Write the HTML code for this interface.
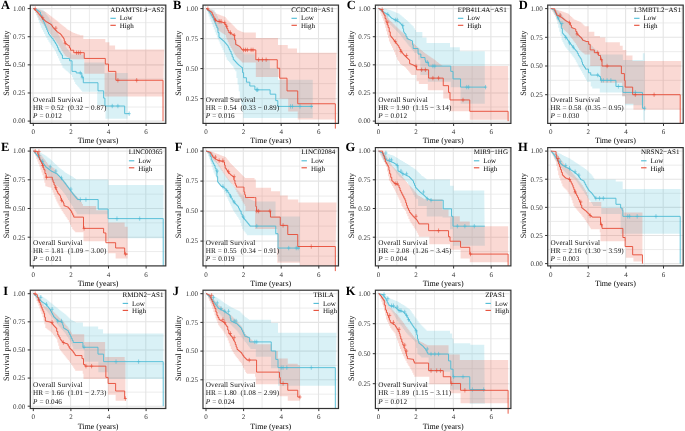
<!DOCTYPE html><html><head><meta charset="utf-8"><style>html,body{margin:0;padding:0;background:#fff;}svg{display:block;will-change:transform;text-rendering:geometricPrecision;filter:blur(0.3px);}</style></head><body>
<svg width="685" height="431" viewBox="0 0 685 431" font-family='&quot;Liberation Serif&quot;, serif'>
<g><defs><clipPath id="cA"><rect x="30.3" y="5.1" width="135.5" height="118.3"/></clipPath></defs><g clip-path="url(#cA)"><line x1="33" y1="5.1" x2="33" y2="123.4" stroke="#E4E4E4" stroke-width="1.1"/><line x1="51.8" y1="5.1" x2="51.8" y2="123.4" stroke="#E4E4E4" stroke-width="0.7"/><line x1="70.6" y1="5.1" x2="70.6" y2="123.4" stroke="#E4E4E4" stroke-width="1.1"/><line x1="89.4" y1="5.1" x2="89.4" y2="123.4" stroke="#E4E4E4" stroke-width="0.7"/><line x1="108.2" y1="5.1" x2="108.2" y2="123.4" stroke="#E4E4E4" stroke-width="1.1"/><line x1="127" y1="5.1" x2="127" y2="123.4" stroke="#E4E4E4" stroke-width="0.7"/><line x1="145.8" y1="5.1" x2="145.8" y2="123.4" stroke="#E4E4E4" stroke-width="1.1"/><line x1="164.6" y1="5.1" x2="164.6" y2="123.4" stroke="#E4E4E4" stroke-width="0.7"/><line x1="30.3" y1="121.1" x2="165.8" y2="121.1" stroke="#E4E4E4" stroke-width="1.1"/><line x1="30.3" y1="107.04" x2="165.8" y2="107.04" stroke="#E4E4E4" stroke-width="0.7"/><line x1="30.3" y1="92.97" x2="165.8" y2="92.97" stroke="#E4E4E4" stroke-width="1.1"/><line x1="30.3" y1="78.91" x2="165.8" y2="78.91" stroke="#E4E4E4" stroke-width="0.7"/><line x1="30.3" y1="64.85" x2="165.8" y2="64.85" stroke="#E4E4E4" stroke-width="1.1"/><line x1="30.3" y1="50.79" x2="165.8" y2="50.79" stroke="#E4E4E4" stroke-width="0.7"/><line x1="30.3" y1="36.73" x2="165.8" y2="36.73" stroke="#E4E4E4" stroke-width="1.1"/><line x1="30.3" y1="22.66" x2="165.8" y2="22.66" stroke="#E4E4E4" stroke-width="0.7"/><line x1="30.3" y1="8.6" x2="165.8" y2="8.6" stroke="#E4E4E4" stroke-width="1.1"/><path d="M33.3 8.6 L34.34 8.6 L34.34 8.72 L35.39 8.72 L35.39 8.85 L36.43 8.85 L36.43 8.97 L37.48 8.97 L37.48 9.1 L38.52 9.1 L38.52 9.22 L39.57 9.22 L39.57 9.35 L40.61 9.35 L40.61 9.47 L41.66 9.47 L41.66 9.6 L42.7 9.6 L42.7 9.73 L43.64 9.73 L43.64 11.04 L44.58 11.04 L44.58 12.35 L45.52 12.35 L45.52 13.66 L46.46 13.66 L46.46 14.97 L47.4 14.97 L47.4 16.29 L48.34 16.29 L48.34 17.6 L49.41 17.6 L49.41 19.53 L50.49 19.53 L50.49 21.46 L51.56 21.46 L51.56 23.39 L52.64 23.39 L52.64 25.31 L53.71 25.31 L53.71 27.24 L54.79 27.24 L54.79 29.17 L55.86 29.17 L55.86 31.1 L56.96 31.1 L56.96 32.98 L58.07 32.98 L58.07 34.87 L59.17 34.87 L59.17 36.75 L60.28 36.75 L60.28 38.64 L61.38 38.64 L61.38 40.52 L62.49 40.52 L62.49 42.41 L63.59 42.41 L63.59 44.29 L64.7 44.29 L64.7 46.17 L65.79 46.17 L65.79 47.54 L66.89 47.54 L66.89 48.91 L67.99 48.91 L67.99 50.28 L69.08 50.28 L69.08 51.65 L70.18 51.65 L70.18 53.02 L71.28 53.02 L71.28 54.39 L84.25 54.39 L84.25 62.49 L104.55 62.49 L104.55 72.95 L127.68 72.95 L127.68 118.85 L105.49 118.85 L105.49 105.01 L97.22 105.01 L97.22 91.85 L82.18 91.85 L82.18 90.72 L81.19 90.72 L81.19 89.6 L80.19 89.6 L80.19 88.47 L79.2 88.47 L79.2 87.35 L78.21 87.35 L78.21 86.22 L77.21 86.22 L77.21 85.1 L76.22 85.1 L76.22 83.97 L75.22 83.97 L75.22 81.72 L74.14 81.72 L74.14 79.47 L73.06 79.47 L73.06 77.22 L71.98 77.22 L71.98 74.98 L70.9 74.98 L70.9 74.06 L69.84 74.06 L69.84 73.15 L68.78 73.15 L68.78 72.23 L67.73 72.23 L67.73 71.32 L66.67 71.32 L66.67 70.4 L65.61 70.4 L65.61 69.49 L64.56 69.49 L64.56 68.58 L63.5 68.58 L63.5 67.66 L62.44 67.66 L62.44 65.33 L61.37 65.33 L61.37 63 L60.29 63 L60.29 60.67 L59.22 60.67 L59.22 58.34 L58.14 58.34 L58.14 56.01 L57.07 56.01 L57.07 53.68 L55.99 53.68 L55.99 51.35 L54.92 51.35 L54.92 49.74 L53.85 49.74 L53.85 48.14 L52.77 48.14 L52.77 46.53 L51.7 46.53 L51.7 44.92 L50.62 44.92 L50.62 43.31 L49.55 43.31 L49.55 41.71 L48.47 41.71 L48.47 40.1 L47.4 40.1 L47.4 38.04 L46.3 38.04 L46.3 35.98 L45.21 35.98 L45.21 33.91 L44.11 33.91 L44.11 31.85 L43.01 31.85 L43.01 29.79 L41.92 29.79 L41.92 27.73 L40.82 27.73 L40.82 25.19 L39.88 25.19 L39.88 22.66 L38.94 22.66 L38.94 20.13 L38 20.13 L38 17.6 L37.06 17.6 L37.06 15.35 L36.12 15.35 L36.12 13.1 L35.18 13.1 L35.18 10.85 L34.24 10.85 L34.24 8.6 L33.3 8.6Z" fill="#4DBBD5" fill-opacity="0.21" stroke="none"/><path d="M33.3 8.6 L34.3 8.6 L34.3 8.77 L35.31 8.77 L35.31 8.94 L36.31 8.94 L36.31 9.11 L37.31 9.11 L37.31 9.28 L38.31 9.28 L38.31 9.44 L39.32 9.44 L39.32 9.61 L40.29 9.61 L40.29 10.01 L41.26 10.01 L41.26 10.4 L42.23 10.4 L42.23 10.79 L43.2 10.79 L43.2 11.19 L44.17 11.19 L44.17 11.58 L45.14 11.58 L45.14 11.98 L46.12 11.98 L46.12 12.74 L47.09 12.74 L47.09 13.51 L48.06 13.51 L48.06 14.28 L49.03 14.28 L49.03 15.05 L50 15.05 L50 15.82 L50.97 15.82 L50.97 16.59 L52.1 16.59 L52.1 17.46 L53.23 17.46 L53.23 18.33 L54.36 18.33 L54.36 19.2 L55.48 19.2 L55.48 20.07 L56.46 20.07 L56.46 20.84 L57.43 20.84 L57.43 21.61 L58.4 21.61 L58.4 22.38 L59.37 22.38 L59.37 23.15 L60.34 23.15 L60.34 23.92 L61.31 23.92 L61.31 24.69 L62.28 24.69 L62.28 25.48 L63.25 25.48 L63.25 26.26 L64.23 26.26 L64.23 27.05 L65.2 27.05 L65.2 27.84 L66.17 27.84 L66.17 28.63 L67.14 28.63 L67.14 29.41 L68.11 29.41 L68.11 29.98 L69.08 29.98 L69.08 30.54 L70.05 30.54 L70.05 31.1 L71.03 31.1 L71.03 31.66 L72 31.66 L72 32.22 L72.97 32.22 L72.97 32.79 L73.96 32.79 L73.96 33.12 L74.96 33.12 L74.96 33.46 L75.95 33.46 L75.95 33.8 L76.94 33.8 L76.94 34.14 L77.94 34.14 L77.94 34.47 L78.93 34.47 L78.93 34.81 L79.92 34.81 L79.92 35.15 L83.31 35.15 L83.31 38.98 L105.3 38.98 L105.3 42.35 L109.44 42.35 L109.44 45.39 L115.08 45.39 L115.08 49.44 L164.15 49.44 L163.02 96.58 L104.55 96.58 L104.55 73.85 L84.25 73.85 L84.25 59.22 L71.28 59.22 L71.28 58.66 L70.18 58.66 L70.18 58.1 L69.08 58.1 L69.08 57.54 L67.99 57.54 L67.99 56.98 L66.89 56.98 L66.89 56.41 L65.79 56.41 L65.79 55.85 L64.7 55.85 L64.7 54.24 L63.7 54.24 L63.7 52.64 L62.71 52.64 L62.71 51.03 L61.71 51.03 L61.71 49.42 L60.72 49.42 L60.72 47.81 L59.73 47.81 L59.73 46.21 L58.73 46.21 L58.73 44.6 L57.74 44.6 L57.74 43.1 L56.64 43.1 L56.64 41.6 L55.55 41.6 L55.55 40.1 L54.45 40.1 L54.45 38.6 L53.35 38.6 L53.35 37.1 L52.26 37.1 L52.26 35.6 L51.16 35.6 L51.16 34.1 L50.06 34.1 L50.06 32.6 L48.97 32.6 L48.97 31.1 L47.87 31.1 L47.87 29.6 L46.77 29.6 L46.77 28.1 L45.68 28.1 L45.68 26.6 L44.58 26.6 L44.58 25.25 L43.45 25.25 L43.45 23.9 L42.32 23.9 L42.32 22.55 L41.2 22.55 L41.2 21.2 L40.07 21.2 L40.07 19.85 L38.94 19.85 L38.94 17.6 L37.81 17.6 L37.81 15.35 L36.68 15.35 L36.68 13.1 L35.56 13.1 L35.56 10.85 L34.43 10.85 L34.43 8.6 L33.3 8.6Z" fill="#E64B35" fill-opacity="0.21" stroke="none"/></g><path d="M33.3 8.6 L34.3 8.6 L34.3 8.97 L35.31 8.97 L35.31 9.35 L36.31 9.35 L36.31 9.73 L37.31 9.73 L37.31 10.48 L38.31 10.48 L38.31 11.22 L39.32 11.22 L39.32 11.98 L40.44 11.98 L40.44 14.84 L41.57 14.84 L41.57 17.71 L42.46 17.71 L42.46 19.77 L43.36 19.77 L43.36 21.82 L44.25 21.82 L44.25 23.87 L45.14 23.87 L45.14 25.93 L45.99 25.93 L45.99 27.95 L46.84 27.95 L46.84 29.97 L47.68 29.97 L47.68 32 L48.53 32 L48.53 34.02 L49.42 34.02 L49.42 35.18 L50.31 35.18 L50.31 36.33 L51.21 36.33 L51.21 37.48 L52.1 37.48 L52.1 38.64 L53.23 38.64 L53.23 40.38 L54.36 40.38 L54.36 42.13 L55.48 42.13 L55.48 43.87 L56.61 43.87 L56.61 45.61 L57.43 45.61 L57.43 47.52 L58.24 47.52 L58.24 49.44 L59.06 49.44 L59.06 51.35 L60.18 51.35 L60.18 53.15 L61.31 53.15 L61.31 54.95 L62.44 54.95 L62.44 58.44 L69.58 58.44 L69.58 60.8 L72.03 60.8 L72.03 71.38 L76.16 71.38 L76.16 72.95 L81.8 72.95 L81.8 77.11 L83.31 77.11 L83.31 82.74 L97.97 82.74 L97.97 90.84 L103.61 90.84 L103.61 98.15 L104.93 98.15 L104.93 106.02 L124.67 106.02 L124.67 113.67 L129.18 113.67" fill="none" stroke="#4DBBD5" stroke-width="0.9" stroke-linejoin="miter"/><path d="M80.3 70.75 V75.15 M78.7 72.95 H81.9" stroke="#4DBBD5" stroke-width="0.6"/><path d="M82.18 74.91 V79.31 M80.58 77.11 H83.78" stroke="#4DBBD5" stroke-width="0.6"/><path d="M112.26 103.82 V108.22 M110.66 106.02 H113.86" stroke="#4DBBD5" stroke-width="0.6"/><path d="M117.9 103.82 V108.22 M116.3 106.02 H119.5" stroke="#4DBBD5" stroke-width="0.6"/><path d="M129.18 111.47 V115.87 M127.58 113.67 H130.78" stroke="#4DBBD5" stroke-width="0.6"/><path d="M33.3 8.6 L34.19 8.6 L34.19 9.44 L35.09 9.44 L35.09 10.29 L35.98 10.29 L35.98 11.13 L36.87 11.13 L36.87 11.98 L37.81 11.98 L37.81 13.12 L38.75 13.12 L38.75 14.27 L39.69 14.27 L39.69 15.42 L40.63 15.42 L40.63 16.56 L41.57 16.56 L41.57 17.71 L42.46 17.71 L42.46 18.58 L43.36 18.58 L43.36 19.46 L44.25 19.46 L44.25 20.33 L45.14 20.33 L45.14 21.2 L46.12 21.2 L46.12 21.78 L47.09 21.78 L47.09 22.36 L48.06 22.36 L48.06 22.94 L49.03 22.94 L49.03 23.53 L50 23.53 L50 24.11 L50.97 24.11 L50.97 24.69 L51.72 24.69 L51.72 25.85 L52.48 25.85 L52.48 27.01 L53.23 27.01 L53.23 28.18 L54.36 28.18 L54.36 29.34 L55.48 29.34 L55.48 30.5 L56.61 30.5 L56.61 31.66 L57.5 31.66 L57.5 32.25 L58.4 32.25 L58.4 32.84 L59.29 32.84 L59.29 33.43 L60.18 33.43 L60.18 34.02 L61.03 34.02 L61.03 35.18 L61.88 35.18 L61.88 36.33 L62.72 36.33 L62.72 37.48 L63.57 37.48 L63.57 38.64 L64.23 38.64 L64.23 40.94 L64.88 40.94 L64.88 43.25 L65.73 43.25 L65.73 43.84 L66.58 43.84 L66.58 44.43 L67.42 44.43 L67.42 45.02 L68.27 45.02 L68.27 45.61 L69.4 45.61 L69.4 47.92 L70.52 47.92 L70.52 50.23 L73.72 50.23 L73.72 52.7 L84.25 52.7 L84.25 58.44 L105.3 58.44 L105.3 64.06 L108.5 64.06 L108.5 71.38 L115.83 71.38 L115.83 80.26 L163.02 80.26 L163.02 121.1 L163.02 121.1" fill="none" stroke="#E64B35" stroke-width="0.9" stroke-linejoin="miter"/><path d="M35.18 6.4 V10.8 M33.58 8.6 H36.78" stroke="#E64B35" stroke-width="0.6"/><path d="M42.7 15.51 V19.91 M41.1 17.71 H44.3" stroke="#E64B35" stroke-width="0.6"/><path d="M55.86 25.98 V30.38 M54.26 28.18 H57.46" stroke="#E64B35" stroke-width="0.6"/><path d="M65.26 41.05 V45.45 M63.66 43.25 H66.86" stroke="#E64B35" stroke-width="0.6"/><path d="M76.54 50.5 V54.9 M74.94 52.7 H78.14" stroke="#E64B35" stroke-width="0.6"/><path d="M78.42 50.5 V54.9 M76.82 52.7 H80.02" stroke="#E64B35" stroke-width="0.6"/><path d="M80.3 50.5 V54.9 M78.7 52.7 H81.9" stroke="#E64B35" stroke-width="0.6"/><path d="M117.9 78.06 V82.46 M116.3 80.26 H119.5" stroke="#E64B35" stroke-width="0.6"/><path d="M136.7 78.06 V82.46 M135.1 80.26 H138.3" stroke="#E64B35" stroke-width="0.6"/><rect x="30.3" y="5.1" width="135.5" height="118.3" fill="none" stroke="#333" stroke-width="1.2"/><line x1="27.7" y1="121.1" x2="30.3" y2="121.1" stroke="#333" stroke-width="1"/><text x="25.3" y="123.4" font-size="7" fill="#333" text-anchor="end">0.00</text><line x1="27.7" y1="92.97" x2="30.3" y2="92.97" stroke="#333" stroke-width="1"/><text x="25.3" y="95.27" font-size="7" fill="#333" text-anchor="end">0.25</text><line x1="27.7" y1="64.85" x2="30.3" y2="64.85" stroke="#333" stroke-width="1"/><text x="25.3" y="67.15" font-size="7" fill="#333" text-anchor="end">0.50</text><line x1="27.7" y1="36.73" x2="30.3" y2="36.73" stroke="#333" stroke-width="1"/><text x="25.3" y="39.02" font-size="7" fill="#333" text-anchor="end">0.75</text><line x1="27.7" y1="8.6" x2="30.3" y2="8.6" stroke="#333" stroke-width="1"/><text x="25.3" y="10.9" font-size="7" fill="#333" text-anchor="end">1.00</text><line x1="33.3" y1="123.4" x2="33.3" y2="126" stroke="#333" stroke-width="1"/><text x="33.3" y="134" font-size="7" fill="#333" text-anchor="middle">0</text><line x1="70.9" y1="123.4" x2="70.9" y2="126" stroke="#333" stroke-width="1"/><text x="70.9" y="134" font-size="7" fill="#333" text-anchor="middle">2</text><line x1="108.5" y1="123.4" x2="108.5" y2="126" stroke="#333" stroke-width="1"/><text x="108.5" y="134" font-size="7" fill="#333" text-anchor="middle">4</text><line x1="146.1" y1="123.4" x2="146.1" y2="126" stroke="#333" stroke-width="1"/><text x="146.1" y="134" font-size="7" fill="#333" text-anchor="middle">6</text><text x="98.05" y="143.4" font-size="8" fill="#000" text-anchor="middle">Time (years)</text><text transform="translate(8.5 63.25) rotate(-90)" font-size="8.15" fill="#111" text-anchor="middle">Survival probability</text><text x="1.1" y="9.3" font-size="12.5" font-weight="bold" fill="#000">A</text><text x="110.2" y="11.7" font-size="7" fill="#000">ADAMTSL4−AS2</text><line x1="110.4" y1="18.3" x2="115.8" y2="18.3" stroke="#4DBBD5" stroke-width="1.1"/><text x="119.8" y="20.4" font-size="7" fill="#000">Low</text><line x1="110.4" y1="25.3" x2="115.8" y2="25.3" stroke="#E64B35" stroke-width="1.1"/><text x="119.8" y="28" font-size="7" fill="#000">High</text><text x="33.1" y="102.1" font-size="7.2" fill="#111" letter-spacing="0.12" xml:space="preserve">Overall Survival</text><text x="33.1" y="110" font-size="7.2" fill="#111" letter-spacing="0.08" xml:space="preserve">HR = 0.52  (0.32 − 0.87)</text><text x="33.1" y="118.4" font-size="7.2" fill="#111" letter-spacing="0.08" xml:space="preserve"><tspan font-style="italic">P</tspan> = 0.012</text></g>
<g><defs><clipPath id="cB"><rect x="203" y="5.1" width="135.5" height="118.3"/></clipPath></defs><g clip-path="url(#cB)"><line x1="205.7" y1="5.1" x2="205.7" y2="123.4" stroke="#E4E4E4" stroke-width="1.1"/><line x1="224.5" y1="5.1" x2="224.5" y2="123.4" stroke="#E4E4E4" stroke-width="0.7"/><line x1="243.3" y1="5.1" x2="243.3" y2="123.4" stroke="#E4E4E4" stroke-width="1.1"/><line x1="262.1" y1="5.1" x2="262.1" y2="123.4" stroke="#E4E4E4" stroke-width="0.7"/><line x1="280.9" y1="5.1" x2="280.9" y2="123.4" stroke="#E4E4E4" stroke-width="1.1"/><line x1="299.7" y1="5.1" x2="299.7" y2="123.4" stroke="#E4E4E4" stroke-width="0.7"/><line x1="318.5" y1="5.1" x2="318.5" y2="123.4" stroke="#E4E4E4" stroke-width="1.1"/><line x1="337.3" y1="5.1" x2="337.3" y2="123.4" stroke="#E4E4E4" stroke-width="0.7"/><line x1="203" y1="113.6" x2="338.5" y2="113.6" stroke="#E4E4E4" stroke-width="0.7"/><line x1="203" y1="98.6" x2="338.5" y2="98.6" stroke="#E4E4E4" stroke-width="1.1"/><line x1="203" y1="83.6" x2="338.5" y2="83.6" stroke="#E4E4E4" stroke-width="0.7"/><line x1="203" y1="68.6" x2="338.5" y2="68.6" stroke="#E4E4E4" stroke-width="1.1"/><line x1="203" y1="53.6" x2="338.5" y2="53.6" stroke="#E4E4E4" stroke-width="0.7"/><line x1="203" y1="38.6" x2="338.5" y2="38.6" stroke="#E4E4E4" stroke-width="1.1"/><line x1="203" y1="23.6" x2="338.5" y2="23.6" stroke="#E4E4E4" stroke-width="0.7"/><line x1="203" y1="8.6" x2="338.5" y2="8.6" stroke="#E4E4E4" stroke-width="1.1"/><path d="M206 8.6 L207.07 8.6 L207.07 8.77 L208.15 8.77 L208.15 8.94 L209.22 8.94 L209.22 9.11 L210.3 9.11 L210.3 9.29 L211.37 9.29 L211.37 9.46 L212.45 9.46 L212.45 9.63 L213.52 9.63 L213.52 9.8 L214.65 9.8 L214.65 11.96 L215.78 11.96 L215.78 14.12 L216.9 14.12 L216.9 16.28 L218.03 16.28 L218.03 18.44 L219.16 18.44 L219.16 20.6 L220.1 20.6 L220.1 21.6 L221.04 21.6 L221.04 22.6 L221.98 22.6 L221.98 23.6 L222.92 23.6 L222.92 24.6 L223.86 24.6 L223.86 25.6 L224.8 25.6 L224.8 26.6 L225.74 26.6 L225.74 27.6 L226.68 27.6 L226.68 28.6 L227.62 28.6 L227.62 29.6 L228.56 29.6 L228.56 30.6 L229.5 30.6 L229.5 31.6 L230.44 31.6 L230.44 32.6 L231.38 32.6 L231.38 34.2 L232.32 34.2 L232.32 35.8 L233.26 35.8 L233.26 37.4 L234.2 37.4 L234.2 39 L235.14 39 L235.14 40.6 L236.08 40.6 L236.08 42.2 L237.15 42.2 L237.15 43.91 L238.23 43.91 L238.23 45.63 L239.3 45.63 L239.3 47.34 L240.38 47.34 L240.38 49.06 L241.45 49.06 L241.45 50.77 L242.53 50.77 L242.53 52.49 L243.6 52.49 L243.6 54.2 L254.88 54.2 L254.88 59 L269.92 59 L269.92 68.6 L278 68.6 L278 79.64 L312.78 79.64 L312.78 117.92 L243.22 117.92 L243.22 111.25 L242.1 111.25 L242.1 104.58 L240.97 104.58 L240.97 97.91 L239.84 97.91 L239.84 91.25 L238.71 91.25 L238.71 84.58 L237.58 84.58 L237.58 77.91 L236.46 77.91 L236.46 71.24 L235.33 71.24 L235.33 69.48 L234.33 69.48 L234.33 67.72 L233.32 67.72 L233.32 65.96 L232.32 65.96 L232.32 64.71 L231.19 64.71 L231.19 63.46 L230.06 63.46 L230.06 62.22 L228.94 62.22 L228.94 60.97 L227.81 60.97 L227.81 59.72 L226.68 59.72 L226.68 57.26 L225.65 57.26 L225.65 54.8 L224.61 54.8 L224.61 52.34 L223.58 52.34 L223.58 49.88 L222.54 49.88 L222.54 47.8 L221.6 47.8 L221.6 45.72 L220.66 45.72 L220.66 43.64 L219.72 43.64 L219.72 41.56 L218.78 41.56 L218.78 39.48 L217.84 39.48 L217.84 37.4 L216.9 37.4 L216.9 34.79 L215.87 34.79 L215.87 32.18 L214.84 32.18 L214.84 29.57 L213.8 29.57 L213.8 26.96 L212.77 26.96 L212.77 24.35 L211.73 24.35 L211.73 21.74 L210.7 21.74 L210.7 19.13 L209.67 19.13 L209.67 16.52 L208.63 16.52 L208.63 13.88 L207.75 13.88 L207.75 11.24 L206.88 11.24 L206.88 8.6 L206 8.6Z" fill="#4DBBD5" fill-opacity="0.21" stroke="none"/><path d="M206 8.6 L207.13 8.6 L207.13 8.84 L208.26 8.84 L208.26 9.08 L209.38 9.08 L209.38 9.32 L210.51 9.32 L210.51 9.56 L211.64 9.56 L211.64 9.8 L212.58 9.8 L212.58 10.7 L213.52 10.7 L213.52 11.6 L214.46 11.6 L214.46 12.5 L215.4 12.5 L215.4 13.4 L216.44 13.4 L216.44 13.8 L217.49 13.8 L217.49 14.2 L218.53 14.2 L218.53 14.6 L219.58 14.6 L219.58 15 L220.62 15 L220.62 15.4 L221.67 15.4 L221.67 15.8 L222.71 15.8 L222.71 16.2 L223.76 16.2 L223.76 16.6 L224.8 16.6 L224.8 17 L225.74 17 L225.74 18.2 L226.68 18.2 L226.68 19.4 L227.62 19.4 L227.62 20.6 L228.69 20.6 L228.69 21.56 L229.75 21.56 L229.75 22.52 L230.82 22.52 L230.82 23.48 L231.85 23.48 L231.85 24.52 L232.88 24.52 L232.88 25.56 L233.92 25.56 L233.92 26.6 L234.95 26.6 L234.95 27.64 L235.99 27.64 L235.99 28.68 L237.02 28.68 L237.02 29.72 L238.09 29.72 L238.09 30.2 L239.15 30.2 L239.15 30.68 L240.22 30.68 L240.22 31.16 L241.28 31.16 L241.28 31.64 L242.35 31.64 L242.35 32.12 L243.41 32.12 L243.41 32.6 L255.82 32.6 L255.82 38.12 L278 38.12 L278 45.08 L287.78 45.08 L287.78 48.56 L296.99 48.56 L296.99 52.64 L336.47 52.64 L335.34 119.48 L297.74 119.48 L297.74 111.56 L288.16 111.56 L288.16 98.72 L279.7 98.72 L279.7 77 L255.82 77 L255.82 62.6 L241.91 62.6 L241.91 61.6 L240.87 61.6 L240.87 60.6 L239.84 60.6 L239.84 59.6 L238.81 59.6 L238.81 58.6 L237.77 58.6 L237.77 57.6 L236.74 57.6 L236.74 56.6 L235.7 56.6 L235.7 54.89 L234.71 54.89 L234.71 53.17 L233.72 53.17 L233.72 51.46 L232.72 51.46 L232.72 49.74 L231.73 49.74 L231.73 48.03 L230.74 48.03 L230.74 46.31 L229.74 46.31 L229.74 44.6 L228.75 44.6 L228.75 42.2 L227.76 42.2 L227.76 39.8 L226.77 39.8 L226.77 37.4 L225.79 37.4 L225.79 35 L224.8 35 L224.8 34.31 L223.73 34.31 L223.73 33.63 L222.65 33.63 L222.65 32.94 L221.58 32.94 L221.58 32.26 L220.5 32.26 L220.5 31.57 L219.43 31.57 L219.43 30.89 L218.35 30.89 L218.35 30.2 L217.28 30.2 L217.28 27.8 L216.15 27.8 L216.15 25.4 L215.02 25.4 L215.02 23 L213.9 23 L213.9 20.6 L212.77 20.6 L212.77 18.2 L211.64 18.2 L211.64 16.28 L210.51 16.28 L210.51 14.36 L209.38 14.36 L209.38 12.44 L208.26 12.44 L208.26 10.52 L207.13 10.52 L207.13 8.6 L206 8.6Z" fill="#E64B35" fill-opacity="0.21" stroke="none"/></g><path d="M206 8.6 L207.13 8.6 L207.13 9.84 L208.26 9.84 L208.26 11.08 L209.38 11.08 L209.38 12.32 L210.37 12.32 L210.37 14.06 L211.36 14.06 L211.36 15.8 L212.34 15.8 L212.34 17.54 L213.33 17.54 L213.33 19.28 L214.22 19.28 L214.22 21.41 L215.12 21.41 L215.12 23.54 L216.01 23.54 L216.01 25.67 L216.9 25.67 L216.9 27.8 L217.94 27.8 L217.94 32.6 L218.97 32.6 L218.97 37.4 L219.95 37.4 L219.95 38.24 L220.93 38.24 L220.93 39.08 L221.9 39.08 L221.9 39.92 L222.88 39.92 L222.88 40.76 L223.86 40.76 L223.86 41.6 L224.75 41.6 L224.75 42.65 L225.65 42.65 L225.65 43.7 L226.54 43.7 L226.54 44.75 L227.43 44.75 L227.43 45.8 L228.31 45.8 L228.31 47.64 L229.19 47.64 L229.19 49.48 L230.06 49.48 L230.06 51.32 L231.13 51.32 L231.13 54.12 L232.19 54.12 L232.19 56.92 L233.26 56.92 L233.26 59.72 L234.39 59.72 L234.39 60.92 L235.52 60.92 L235.52 62.12 L236.64 62.12 L236.64 63.32 L237.77 63.32 L237.77 64.52 L238.71 64.52 L238.71 65.27 L239.65 65.27 L239.65 66.02 L240.59 66.02 L240.59 66.77 L241.53 66.77 L241.53 67.52 L242.57 67.52 L242.57 72.62 L243.6 72.62 L243.6 77.72 L246.42 77.72 L246.42 82.16 L249.8 82.16 L249.8 86 L254.88 86 L254.88 89.84 L270.11 89.84 L270.11 94.16 L275.75 94.16 L275.75 100.64 L277.82 100.64 L277.82 106.4 L312.78 106.4" fill="none" stroke="#4DBBD5" stroke-width="0.9" stroke-linejoin="miter"/><path d="M256.76 87.64 V92.04 M255.16 89.84 H258.36" stroke="#4DBBD5" stroke-width="0.6"/><path d="M257.7 87.64 V92.04 M256.1 89.84 H259.3" stroke="#4DBBD5" stroke-width="0.6"/><path d="M290.6 104.2 V108.6 M289 106.4 H292.2" stroke="#4DBBD5" stroke-width="0.6"/><path d="M292.48 104.2 V108.6 M290.88 106.4 H294.08" stroke="#4DBBD5" stroke-width="0.6"/><path d="M300 104.2 V108.6 M298.4 106.4 H301.6" stroke="#4DBBD5" stroke-width="0.6"/><path d="M311.28 104.2 V108.6 M309.68 106.4 H312.88" stroke="#4DBBD5" stroke-width="0.6"/><path d="M206 8.6 L207.05 8.6 L207.05 9.34 L208.11 9.34 L208.11 10.09 L209.16 10.09 L209.16 10.83 L210.21 10.83 L210.21 11.58 L211.26 11.58 L211.26 12.32 L212.16 12.32 L212.16 14.24 L213.05 14.24 L213.05 16.16 L213.94 16.16 L213.94 18.08 L214.84 18.08 L214.84 20 L215.87 20 L215.87 20.66 L216.9 20.66 L216.9 21.32 L217.9 21.32 L217.9 21.53 L218.89 21.53 L218.89 21.73 L219.89 21.73 L219.89 21.94 L220.88 21.94 L220.88 22.14 L221.87 22.14 L221.87 22.35 L222.87 22.35 L222.87 22.55 L223.86 22.55 L223.86 22.76 L224.89 22.76 L224.89 24.5 L225.93 24.5 L225.93 26.24 L226.87 26.24 L226.87 28.36 L227.81 28.36 L227.81 30.48 L228.75 30.48 L228.75 32.6 L229.73 32.6 L229.73 33.13 L230.7 33.13 L230.7 33.66 L231.68 33.66 L231.68 34.18 L232.66 34.18 L232.66 34.71 L233.64 34.71 L233.64 35.24 L234.67 35.24 L234.67 39.92 L235.7 39.92 L235.7 44.6 L236.6 44.6 L236.6 45.05 L237.49 45.05 L237.49 45.5 L238.38 45.5 L238.38 45.95 L239.28 45.95 L239.28 46.4 L240.15 46.4 L240.15 47.56 L241.03 47.56 L241.03 48.72 L241.91 48.72 L241.91 49.88 L255.82 49.88 L255.82 59.72 L277.25 59.72 L277.25 68.24 L279.7 68.24 L279.7 78.2 L287.03 78.2 L287.03 90.92 L297.74 90.92 L297.74 103.76 L335.34 103.76 L335.34 128.6 L335.34 128.6" fill="none" stroke="#E64B35" stroke-width="0.9" stroke-linejoin="miter"/><path d="M207.88 6.4 V10.8 M206.28 8.6 H209.48" stroke="#E64B35" stroke-width="0.6"/><path d="M215.4 17.8 V22.2 M213.8 20 H217" stroke="#E64B35" stroke-width="0.6"/><path d="M219.16 19.12 V23.52 M217.56 21.32 H220.76" stroke="#E64B35" stroke-width="0.6"/><path d="M221.04 19.12 V23.52 M219.44 21.32 H222.64" stroke="#E64B35" stroke-width="0.6"/><path d="M224.8 20.56 V24.96 M223.2 22.76 H226.4" stroke="#E64B35" stroke-width="0.6"/><path d="M226.68 24.04 V28.44 M225.08 26.24 H228.28" stroke="#E64B35" stroke-width="0.6"/><path d="M230.44 30.4 V34.8 M228.84 32.6 H232.04" stroke="#E64B35" stroke-width="0.6"/><path d="M234.2 33.04 V37.44 M232.6 35.24 H235.8" stroke="#E64B35" stroke-width="0.6"/><path d="M243.6 47.68 V52.08 M242 49.88 H245.2" stroke="#E64B35" stroke-width="0.6"/><path d="M245.48 47.68 V52.08 M243.88 49.88 H247.08" stroke="#E64B35" stroke-width="0.6"/><path d="M247.36 47.68 V52.08 M245.76 49.88 H248.96" stroke="#E64B35" stroke-width="0.6"/><path d="M251.12 47.68 V52.08 M249.52 49.88 H252.72" stroke="#E64B35" stroke-width="0.6"/><path d="M253 47.68 V52.08 M251.4 49.88 H254.6" stroke="#E64B35" stroke-width="0.6"/><path d="M258.64 57.52 V61.92 M257.04 59.72 H260.24" stroke="#E64B35" stroke-width="0.6"/><path d="M262.4 57.52 V61.92 M260.8 59.72 H264" stroke="#E64B35" stroke-width="0.6"/><path d="M266.16 57.52 V61.92 M264.56 59.72 H267.76" stroke="#E64B35" stroke-width="0.6"/><rect x="203" y="5.1" width="135.5" height="118.3" fill="none" stroke="#333" stroke-width="1.2"/><line x1="200.4" y1="98.6" x2="203" y2="98.6" stroke="#333" stroke-width="1"/><text x="198" y="100.9" font-size="7" fill="#333" text-anchor="end">0.25</text><line x1="200.4" y1="68.6" x2="203" y2="68.6" stroke="#333" stroke-width="1"/><text x="198" y="70.9" font-size="7" fill="#333" text-anchor="end">0.50</text><line x1="200.4" y1="38.6" x2="203" y2="38.6" stroke="#333" stroke-width="1"/><text x="198" y="40.9" font-size="7" fill="#333" text-anchor="end">0.75</text><line x1="200.4" y1="8.6" x2="203" y2="8.6" stroke="#333" stroke-width="1"/><text x="198" y="10.9" font-size="7" fill="#333" text-anchor="end">1.00</text><line x1="206" y1="123.4" x2="206" y2="126" stroke="#333" stroke-width="1"/><text x="206" y="134" font-size="7" fill="#333" text-anchor="middle">0</text><line x1="243.6" y1="123.4" x2="243.6" y2="126" stroke="#333" stroke-width="1"/><text x="243.6" y="134" font-size="7" fill="#333" text-anchor="middle">2</text><line x1="281.2" y1="123.4" x2="281.2" y2="126" stroke="#333" stroke-width="1"/><text x="281.2" y="134" font-size="7" fill="#333" text-anchor="middle">4</text><line x1="318.8" y1="123.4" x2="318.8" y2="126" stroke="#333" stroke-width="1"/><text x="318.8" y="134" font-size="7" fill="#333" text-anchor="middle">6</text><text x="270.75" y="143.4" font-size="8" fill="#000" text-anchor="middle">Time (years)</text><text transform="translate(181.2 63.25) rotate(-90)" font-size="8.15" fill="#111" text-anchor="middle">Survival probability</text><text x="173" y="9.3" font-size="12.5" font-weight="bold" fill="#000">B</text><text x="291.3" y="11.7" font-size="7" fill="#000">CCDC18−AS1</text><line x1="291.5" y1="18.3" x2="296.9" y2="18.3" stroke="#4DBBD5" stroke-width="1.1"/><text x="300.9" y="20.4" font-size="7" fill="#000">Low</text><line x1="291.5" y1="25.3" x2="296.9" y2="25.3" stroke="#E64B35" stroke-width="1.1"/><text x="300.9" y="28" font-size="7" fill="#000">High</text><text x="205.8" y="102.1" font-size="7.2" fill="#111" letter-spacing="0.12" xml:space="preserve">Overall Survival</text><text x="205.8" y="110" font-size="7.2" fill="#111" letter-spacing="0.08" xml:space="preserve">HR = 0.54  (0.33 − 0.89)</text><text x="205.8" y="118.4" font-size="7.2" fill="#111" letter-spacing="0.08" xml:space="preserve"><tspan font-style="italic">P</tspan> = 0.016</text></g>
<g><defs><clipPath id="cC"><rect x="375.4" y="5.1" width="135.5" height="118.3"/></clipPath></defs><g clip-path="url(#cC)"><line x1="378.1" y1="5.1" x2="378.1" y2="123.4" stroke="#E4E4E4" stroke-width="1.1"/><line x1="396.9" y1="5.1" x2="396.9" y2="123.4" stroke="#E4E4E4" stroke-width="0.7"/><line x1="415.7" y1="5.1" x2="415.7" y2="123.4" stroke="#E4E4E4" stroke-width="1.1"/><line x1="434.5" y1="5.1" x2="434.5" y2="123.4" stroke="#E4E4E4" stroke-width="0.7"/><line x1="453.3" y1="5.1" x2="453.3" y2="123.4" stroke="#E4E4E4" stroke-width="1.1"/><line x1="472.1" y1="5.1" x2="472.1" y2="123.4" stroke="#E4E4E4" stroke-width="0.7"/><line x1="490.9" y1="5.1" x2="490.9" y2="123.4" stroke="#E4E4E4" stroke-width="1.1"/><line x1="509.7" y1="5.1" x2="509.7" y2="123.4" stroke="#E4E4E4" stroke-width="0.7"/><line x1="375.4" y1="121.1" x2="510.9" y2="121.1" stroke="#E4E4E4" stroke-width="1.1"/><line x1="375.4" y1="107.04" x2="510.9" y2="107.04" stroke="#E4E4E4" stroke-width="0.7"/><line x1="375.4" y1="92.97" x2="510.9" y2="92.97" stroke="#E4E4E4" stroke-width="1.1"/><line x1="375.4" y1="78.91" x2="510.9" y2="78.91" stroke="#E4E4E4" stroke-width="0.7"/><line x1="375.4" y1="64.85" x2="510.9" y2="64.85" stroke="#E4E4E4" stroke-width="1.1"/><line x1="375.4" y1="50.79" x2="510.9" y2="50.79" stroke="#E4E4E4" stroke-width="0.7"/><line x1="375.4" y1="36.73" x2="510.9" y2="36.73" stroke="#E4E4E4" stroke-width="1.1"/><line x1="375.4" y1="22.66" x2="510.9" y2="22.66" stroke="#E4E4E4" stroke-width="0.7"/><line x1="375.4" y1="8.6" x2="510.9" y2="8.6" stroke="#E4E4E4" stroke-width="1.1"/><path d="M378.4 8.6 L379.47 8.6 L379.47 8.64 L380.53 8.64 L380.53 8.68 L381.6 8.68 L381.6 8.71 L382.66 8.71 L382.66 8.75 L383.73 8.75 L383.73 8.79 L384.79 8.79 L384.79 8.82 L385.88 8.82 L385.88 9.12 L386.97 9.12 L386.97 9.41 L388.06 9.41 L388.06 9.7 L389.15 9.7 L389.15 9.99 L390.24 9.99 L390.24 10.29 L391.3 10.29 L391.3 10.72 L392.36 10.72 L392.36 11.16 L393.42 11.16 L393.42 11.6 L394.47 11.6 L394.47 12.03 L395.53 12.03 L395.53 12.47 L396.59 12.47 L396.59 12.9 L397.65 12.9 L397.65 13.34 L398.7 13.34 L398.7 13.78 L399.74 13.78 L399.74 14.65 L400.77 14.65 L400.77 15.52 L401.81 15.52 L401.81 16.39 L402.84 16.39 L402.84 17.26 L403.87 17.26 L403.87 18.13 L404.91 18.13 L404.91 19.01 L405.94 19.01 L405.94 19.88 L406.98 19.88 L406.98 20.75 L407.92 20.75 L407.92 21.67 L408.86 21.67 L408.86 22.59 L409.8 22.59 L409.8 23.51 L410.74 23.51 L410.74 24.43 L411.68 24.43 L411.68 25.34 L412.62 25.34 L412.62 26.26 L413.74 26.26 L413.74 28.14 L414.87 28.14 L414.87 30.01 L416 30.01 L416 31.89 L422.39 31.89 L422.39 37.4 L426.53 37.4 L426.53 43.03 L450.03 43.03 L450.03 47.19 L459.8 47.19 L459.8 51.35 L484.81 51.35 L484.81 103.77 L460.56 103.77 L460.56 87.35 L450.78 87.35 L450.78 81.84 L427.84 81.84 L427.84 75.09 L420.32 75.09 L420.32 59.67 L418.07 59.67 L418.07 52.7 L413.93 52.7 L413.93 51.31 L412.84 51.31 L412.84 49.91 L411.75 49.91 L411.75 48.52 L410.66 48.52 L410.66 47.12 L409.57 47.12 L409.57 45.72 L408.48 45.72 L408.48 44.56 L407.54 44.56 L407.54 43.4 L406.6 43.4 L406.6 42.24 L405.66 42.24 L405.66 41.07 L404.72 41.07 L404.72 39.91 L403.78 39.91 L403.78 38.75 L402.84 38.75 L402.84 37.61 L401.9 37.61 L401.9 36.46 L400.96 36.46 L400.96 35.32 L400.02 35.32 L400.02 34.17 L399.08 34.17 L399.08 33.03 L398.14 33.03 L398.14 31.89 L397.2 31.89 L397.2 30.89 L396.21 30.89 L396.21 29.89 L395.21 29.89 L395.21 28.9 L394.22 28.9 L394.22 27.9 L393.23 27.9 L393.23 26.91 L392.23 26.91 L392.23 25.91 L391.24 25.91 L391.24 24.91 L390.24 24.91 L390.24 23.44 L389.21 23.44 L389.21 21.96 L388.18 21.96 L388.18 20.48 L387.14 20.48 L387.14 19.01 L386.11 19.01 L386.11 17.53 L385.07 17.53 L385.07 16.05 L384.04 16.05 L384.04 14.58 L383.01 14.58 L383.01 13.1 L381.97 13.1 L381.97 11.98 L381.08 11.98 L381.08 10.85 L380.19 10.85 L380.19 9.73 L379.29 9.73 L379.29 8.6 L378.4 8.6Z" fill="#4DBBD5" fill-opacity="0.21" stroke="none"/><path d="M378.4 8.6 L379.38 8.6 L379.38 9.05 L380.36 9.05 L380.36 9.5 L381.33 9.5 L381.33 9.95 L382.31 9.95 L382.31 10.4 L383.29 10.4 L383.29 10.85 L384.23 10.85 L384.23 12.35 L385.17 12.35 L385.17 13.85 L386.11 13.85 L386.11 15.35 L387.05 15.35 L387.05 16.85 L387.99 16.85 L387.99 18.35 L388.93 18.35 L388.93 19.85 L390.06 19.85 L390.06 20.97 L391.18 20.97 L391.18 22.1 L392.31 22.1 L392.31 23.23 L393.44 23.23 L393.44 24.35 L394.57 24.35 L394.57 25.48 L395.6 25.48 L395.6 26.46 L396.64 26.46 L396.64 27.44 L397.67 27.44 L397.67 28.43 L398.7 28.43 L398.7 29.41 L399.74 29.41 L399.74 30.4 L400.77 30.4 L400.77 31.38 L401.81 31.38 L401.81 32.37 L402.84 32.37 L402.84 33.35 L403.87 33.35 L403.87 34.33 L404.91 34.33 L404.91 35.32 L405.94 35.32 L405.94 36.3 L406.98 36.3 L406.98 37.29 L408.01 37.29 L408.01 38.27 L409.04 38.27 L409.04 39.26 L410.08 39.26 L410.08 40.24 L411.11 40.24 L411.11 41.23 L412.05 41.23 L412.05 42.16 L412.99 42.16 L412.99 43.1 L413.93 43.1 L413.93 44.04 L414.87 44.04 L414.87 44.98 L415.81 44.98 L415.81 45.91 L416.75 45.91 L416.75 46.85 L417.79 46.85 L417.79 47.69 L418.82 47.69 L418.82 48.54 L419.85 48.54 L419.85 49.38 L420.89 49.38 L420.89 50.23 L421.92 50.23 L421.92 51.07 L422.96 51.07 L422.96 51.91 L423.99 51.91 L423.99 52.76 L425.02 52.76 L425.02 53.6 L426.11 53.6 L426.11 54.35 L427.2 54.35 L427.2 55.1 L428.28 55.1 L428.28 55.85 L429.37 55.85 L429.37 56.6 L430.46 56.6 L430.46 57.35 L431.54 57.35 L431.54 58.1 L432.63 58.1 L432.63 58.85 L433.71 58.85 L433.71 59.6 L434.8 59.6 L434.8 60.35 L435.87 60.35 L435.87 61.17 L436.95 61.17 L436.95 61.99 L438.02 61.99 L438.02 62.81 L439.1 62.81 L439.1 63.63 L440.17 63.63 L440.17 64.45 L441.25 64.45 L441.25 65.27 L442.32 65.27 L442.32 66.09 L508.12 66.09 L508.12 119.64 L469.77 119.64 L469.77 111.31 L450.03 111.31 L450.03 98.6 L443.26 98.6 L443.26 90.16 L427.84 90.16 L427.84 84.09 L418.82 84.09 L418.82 81.16 L416.56 81.16 L416.56 75.09 L411.3 75.09 L411.3 73.83 L410.27 73.83 L410.27 72.58 L409.23 72.58 L409.23 71.32 L408.2 71.32 L408.2 70.06 L407.16 70.06 L407.16 68.81 L406.13 68.81 L406.13 67.55 L405.1 67.55 L405.1 66.83 L404.08 66.83 L404.08 66.11 L403.07 66.11 L403.07 65.39 L402.05 65.39 L402.05 64.67 L401.04 64.67 L401.04 63.95 L400.02 63.95 L400.02 62.52 L399.08 62.52 L399.08 61.1 L398.14 61.1 L398.14 59.67 L397.2 59.67 L397.2 57.23 L396.17 57.23 L396.17 54.78 L395.13 54.78 L395.13 52.33 L394.1 52.33 L394.1 49.89 L393.06 49.89 L393.06 47.81 L392.03 47.81 L392.03 45.73 L391 45.73 L391 43.64 L389.96 43.64 L389.96 41.56 L388.93 41.56 L388.93 38.09 L387.99 38.09 L387.99 34.63 L387.05 34.63 L387.05 31.16 L386.11 31.16 L386.11 27.69 L385.17 27.69 L385.17 24.22 L384.23 24.22 L384.23 20.75 L383.29 20.75 L383.29 18.32 L382.31 18.32 L382.31 15.89 L381.33 15.89 L381.33 13.46 L380.36 13.46 L380.36 11.03 L379.38 11.03 L379.38 8.6 L378.4 8.6Z" fill="#E64B35" fill-opacity="0.21" stroke="none"/></g><path d="M378.4 8.6 L379.38 8.6 L379.38 9.34 L380.36 9.34 L380.36 10.08 L381.33 10.08 L381.33 10.83 L382.31 10.83 L382.31 11.57 L383.29 11.57 L383.29 12.31 L384.37 12.31 L384.37 12.85 L385.45 12.85 L385.45 13.38 L386.53 13.38 L386.53 13.92 L387.61 13.92 L387.61 14.45 L388.46 14.45 L388.46 15.32 L389.3 15.32 L389.3 16.19 L390.15 16.19 L390.15 17.07 L391 17.07 L391 17.94 L391.89 17.94 L391.89 18.44 L392.78 18.44 L392.78 18.95 L393.67 18.95 L393.67 19.46 L394.57 19.46 L394.57 19.96 L395.6 19.96 L395.6 20.5 L396.64 20.5 L396.64 21.03 L397.67 21.03 L397.67 21.57 L398.7 21.57 L398.7 22.1 L399.83 22.1 L399.83 23.26 L400.96 23.26 L400.96 24.43 L402.09 24.43 L402.09 25.59 L402.84 25.59 L402.84 28.74 L403.59 28.74 L403.59 31.89 L404.25 31.89 L404.25 32.9 L404.91 32.9 L404.91 33.91 L405.94 33.91 L405.94 36.33 L406.98 36.33 L406.98 38.75 L407.95 38.75 L407.95 39.18 L408.93 39.18 L408.93 39.61 L409.91 39.61 L409.91 40.03 L410.89 40.03 L410.89 40.46 L411.86 40.46 L411.86 40.89 L412.52 40.89 L412.52 44.71 L413.18 44.71 L413.18 48.54 L418.07 48.54 L418.07 54.05 L420.89 54.05 L420.89 57.54 L425.02 57.54 L425.02 60.35 L425.59 60.35 L425.59 62.26 L428.6 62.26 L428.6 66.09 L450.78 66.09 L450.78 71.38 L453.04 71.38 L453.04 78.91 L460.56 78.91 L460.56 87.12 L485.56 87.12" fill="none" stroke="#4DBBD5" stroke-width="0.9" stroke-linejoin="miter"/><path d="M387.8 12.25 V16.65 M386.2 14.45 H389.4" stroke="#4DBBD5" stroke-width="0.6"/><path d="M395.32 17.76 V22.16 M393.72 19.96 H396.92" stroke="#4DBBD5" stroke-width="0.6"/><path d="M397.2 17.76 V22.16 M395.6 19.96 H398.8" stroke="#4DBBD5" stroke-width="0.6"/><path d="M402.84 23.39 V27.79 M401.24 25.59 H404.44" stroke="#4DBBD5" stroke-width="0.6"/><path d="M427.28 60.06 V64.46 M425.68 62.26 H428.88" stroke="#4DBBD5" stroke-width="0.6"/><path d="M432.92 63.89 V68.29 M431.32 66.09 H434.52" stroke="#4DBBD5" stroke-width="0.6"/><path d="M434.8 63.89 V68.29 M433.2 66.09 H436.4" stroke="#4DBBD5" stroke-width="0.6"/><path d="M466.76 84.92 V89.32 M465.16 87.12 H468.36" stroke="#4DBBD5" stroke-width="0.6"/><path d="M468.64 84.92 V89.32 M467.04 87.12 H470.24" stroke="#4DBBD5" stroke-width="0.6"/><path d="M485.56 84.92 V89.32 M483.96 87.12 H487.16" stroke="#4DBBD5" stroke-width="0.6"/><path d="M378.4 8.6 L379.34 8.6 L379.34 8.94 L380.28 8.94 L380.28 9.28 L381.22 9.28 L381.22 9.61 L382.16 9.61 L382.16 11.45 L383.1 11.45 L383.1 13.29 L384.04 13.29 L384.04 15.13 L385.07 15.13 L385.07 18.61 L386.11 18.61 L386.11 22.1 L387.14 22.1 L387.14 24.86 L388.18 24.86 L388.18 27.61 L389.21 27.61 L389.21 31.83 L390.24 31.83 L390.24 36.05 L391.32 36.05 L391.32 37.43 L392.41 37.43 L392.41 38.81 L393.49 38.81 L393.49 40.18 L394.57 40.18 L394.57 41.56 L395.41 41.56 L395.41 42.6 L396.26 42.6 L396.26 43.64 L397.11 43.64 L397.11 44.68 L397.95 44.68 L397.95 45.72 L398.89 45.72 L398.89 47.6 L399.83 47.6 L399.83 49.47 L400.77 49.47 L400.77 51.35 L401.62 51.35 L401.62 52.39 L402.46 52.39 L402.46 53.43 L403.31 53.43 L403.31 54.47 L404.16 54.47 L404.16 55.51 L405.1 55.51 L405.1 56.41 L406.04 56.41 L406.04 57.31 L406.98 57.31 L406.98 58.21 L407.92 58.21 L407.92 59.11 L408.86 59.11 L408.86 60.01 L409.61 60.01 L409.61 63.73 L410.7 63.73 L410.7 64.2 L411.79 64.2 L411.79 64.67 L412.88 64.67 L412.88 65.14 L413.97 65.14 L413.97 65.61 L415.06 65.61 L415.06 66.09 L416.56 66.09 L416.56 69.8 L428.6 69.8 L428.6 78.12 L443.26 78.12 L443.26 85.66 L448.52 85.66 L448.52 92.41 L450.03 92.41 L450.03 99.95 L469.77 99.95 L469.77 111.31 L508.12 111.31 L508.12 121.1 L508.12 121.1" fill="none" stroke="#E64B35" stroke-width="0.9" stroke-linejoin="miter"/><path d="M382.16 7.41 V11.81 M380.56 9.61 H383.76" stroke="#E64B35" stroke-width="0.6"/><path d="M387.8 19.9 V24.3 M386.2 22.1 H389.4" stroke="#E64B35" stroke-width="0.6"/><path d="M395.32 39.36 V43.76 M393.72 41.56 H396.92" stroke="#E64B35" stroke-width="0.6"/><path d="M400.96 49.15 V53.55 M399.36 51.35 H402.56" stroke="#E64B35" stroke-width="0.6"/><path d="M406.6 53.31 V57.71 M405 55.51 H408.2" stroke="#E64B35" stroke-width="0.6"/><path d="M416 63.89 V68.29 M414.4 66.09 H417.6" stroke="#E64B35" stroke-width="0.6"/><path d="M421.64 67.6 V72 M420.04 69.8 H423.24" stroke="#E64B35" stroke-width="0.6"/><path d="M425.4 67.6 V72 M423.8 69.8 H427" stroke="#E64B35" stroke-width="0.6"/><path d="M432.92 75.92 V80.33 M431.32 78.12 H434.52" stroke="#E64B35" stroke-width="0.6"/><path d="M438.56 75.92 V80.33 M436.96 78.12 H440.16" stroke="#E64B35" stroke-width="0.6"/><path d="M463 97.75 V102.15 M461.4 99.95 H464.6" stroke="#E64B35" stroke-width="0.6"/><rect x="375.4" y="5.1" width="135.5" height="118.3" fill="none" stroke="#333" stroke-width="1.2"/><line x1="372.8" y1="121.1" x2="375.4" y2="121.1" stroke="#333" stroke-width="1"/><text x="370.4" y="123.4" font-size="7" fill="#333" text-anchor="end">0.00</text><line x1="372.8" y1="92.97" x2="375.4" y2="92.97" stroke="#333" stroke-width="1"/><text x="370.4" y="95.27" font-size="7" fill="#333" text-anchor="end">0.25</text><line x1="372.8" y1="64.85" x2="375.4" y2="64.85" stroke="#333" stroke-width="1"/><text x="370.4" y="67.15" font-size="7" fill="#333" text-anchor="end">0.50</text><line x1="372.8" y1="36.73" x2="375.4" y2="36.73" stroke="#333" stroke-width="1"/><text x="370.4" y="39.02" font-size="7" fill="#333" text-anchor="end">0.75</text><line x1="372.8" y1="8.6" x2="375.4" y2="8.6" stroke="#333" stroke-width="1"/><text x="370.4" y="10.9" font-size="7" fill="#333" text-anchor="end">1.00</text><line x1="378.4" y1="123.4" x2="378.4" y2="126" stroke="#333" stroke-width="1"/><text x="378.4" y="134" font-size="7" fill="#333" text-anchor="middle">0</text><line x1="416" y1="123.4" x2="416" y2="126" stroke="#333" stroke-width="1"/><text x="416" y="134" font-size="7" fill="#333" text-anchor="middle">2</text><line x1="453.6" y1="123.4" x2="453.6" y2="126" stroke="#333" stroke-width="1"/><text x="453.6" y="134" font-size="7" fill="#333" text-anchor="middle">4</text><line x1="491.2" y1="123.4" x2="491.2" y2="126" stroke="#333" stroke-width="1"/><text x="491.2" y="134" font-size="7" fill="#333" text-anchor="middle">6</text><text x="443.15" y="143.4" font-size="8" fill="#000" text-anchor="middle">Time (years)</text><text transform="translate(353.6 63.25) rotate(-90)" font-size="8.15" fill="#111" text-anchor="middle">Survival probability</text><text x="346.8" y="9.3" font-size="12.5" font-weight="bold" fill="#000">C</text><text x="457.7" y="11.7" font-size="7" fill="#000">EPB41L4A−AS1</text><line x1="457.9" y1="18.3" x2="463.3" y2="18.3" stroke="#4DBBD5" stroke-width="1.1"/><text x="467.3" y="20.4" font-size="7" fill="#000">Low</text><line x1="457.9" y1="25.3" x2="463.3" y2="25.3" stroke="#E64B35" stroke-width="1.1"/><text x="467.3" y="28" font-size="7" fill="#000">High</text><text x="378.2" y="102.1" font-size="7.2" fill="#111" letter-spacing="0.12" xml:space="preserve">Overall Survival</text><text x="378.2" y="110" font-size="7.2" fill="#111" letter-spacing="0.08" xml:space="preserve">HR = 1.90  (1.15 − 3.14)</text><text x="378.2" y="118.4" font-size="7.2" fill="#111" letter-spacing="0.08" xml:space="preserve"><tspan font-style="italic">P</tspan> = 0.012</text></g>
<g><defs><clipPath id="cD"><rect x="547.7" y="5.1" width="135.5" height="118.3"/></clipPath></defs><g clip-path="url(#cD)"><line x1="550.4" y1="5.1" x2="550.4" y2="123.4" stroke="#E4E4E4" stroke-width="1.1"/><line x1="569.2" y1="5.1" x2="569.2" y2="123.4" stroke="#E4E4E4" stroke-width="0.7"/><line x1="588" y1="5.1" x2="588" y2="123.4" stroke="#E4E4E4" stroke-width="1.1"/><line x1="606.8" y1="5.1" x2="606.8" y2="123.4" stroke="#E4E4E4" stroke-width="0.7"/><line x1="625.6" y1="5.1" x2="625.6" y2="123.4" stroke="#E4E4E4" stroke-width="1.1"/><line x1="644.4" y1="5.1" x2="644.4" y2="123.4" stroke="#E4E4E4" stroke-width="0.7"/><line x1="663.2" y1="5.1" x2="663.2" y2="123.4" stroke="#E4E4E4" stroke-width="1.1"/><line x1="682" y1="5.1" x2="682" y2="123.4" stroke="#E4E4E4" stroke-width="0.7"/><line x1="547.7" y1="109.05" x2="683.2" y2="109.05" stroke="#E4E4E4" stroke-width="0.7"/><line x1="547.7" y1="94.7" x2="683.2" y2="94.7" stroke="#E4E4E4" stroke-width="1.1"/><line x1="547.7" y1="80.35" x2="683.2" y2="80.35" stroke="#E4E4E4" stroke-width="0.7"/><line x1="547.7" y1="66" x2="683.2" y2="66" stroke="#E4E4E4" stroke-width="1.1"/><line x1="547.7" y1="51.65" x2="683.2" y2="51.65" stroke="#E4E4E4" stroke-width="0.7"/><line x1="547.7" y1="37.3" x2="683.2" y2="37.3" stroke="#E4E4E4" stroke-width="1.1"/><line x1="547.7" y1="22.95" x2="683.2" y2="22.95" stroke="#E4E4E4" stroke-width="0.7"/><line x1="547.7" y1="8.6" x2="683.2" y2="8.6" stroke="#E4E4E4" stroke-width="1.1"/><path d="M550.7 8.6 L551.83 8.6 L551.83 8.83 L552.96 8.83 L552.96 9.06 L554.08 9.06 L554.08 9.29 L555.21 9.29 L555.21 9.52 L556.34 9.52 L556.34 9.75 L557.47 9.75 L557.47 10.9 L558.6 10.9 L558.6 12.04 L559.72 12.04 L559.72 13.19 L560.85 13.19 L560.85 14.34 L561.98 14.34 L561.98 15.49 L563.05 15.49 L563.05 16.8 L564.13 16.8 L564.13 18.11 L565.2 18.11 L565.2 19.42 L566.28 19.42 L566.28 20.74 L567.35 20.74 L567.35 22.05 L568.43 22.05 L568.43 23.36 L569.5 23.36 L569.5 24.67 L570.54 24.67 L570.54 25.82 L571.59 25.82 L571.59 26.97 L572.63 26.97 L572.63 28.12 L573.68 28.12 L573.68 29.26 L574.72 29.26 L574.72 30.41 L575.77 30.41 L575.77 31.56 L576.81 31.56 L576.81 32.71 L577.86 32.71 L577.86 33.86 L578.9 33.86 L578.9 35 L579.98 35 L579.98 35.94 L581.05 35.94 L581.05 36.88 L582.13 36.88 L582.13 37.82 L583.21 37.82 L583.21 38.76 L584.28 38.76 L584.28 39.7 L585.36 39.7 L585.36 40.64 L586.44 40.64 L586.44 41.58 L587.51 41.58 L587.51 42.52 L588.59 42.52 L588.59 43.46 L589.67 43.46 L589.67 44.4 L590.74 44.4 L590.74 45.34 L591.83 45.34 L591.83 46.36 L592.92 46.36 L592.92 47.38 L594 47.38 L594 48.4 L595.09 48.4 L595.09 49.42 L596.18 49.42 L596.18 50.44 L597.26 50.44 L597.26 51.46 L598.35 51.46 L598.35 52.48 L599.43 52.48 L599.43 53.5 L600.52 53.5 L600.52 54.52 L622.89 54.52 L622.89 60.03 L642.82 60.03 L642.82 53.37 L644.7 53.37 L644.7 120.42 L643.2 120.42 L643.2 105.26 L625.15 105.26 L625.15 96.19 L622.14 96.19 L622.14 92.4 L599.77 92.4 L599.77 88.62 L592.25 88.62 L592.25 86.43 L590.74 86.43 L590.74 81.84 L586.98 81.84 L586.98 80.15 L586.04 80.15 L586.04 78.46 L585.1 78.46 L585.1 76.76 L584.16 76.76 L584.16 75.07 L583.22 75.07 L583.22 73.17 L582.1 73.17 L582.1 71.28 L580.97 71.28 L580.97 69.39 L579.84 69.39 L579.84 67.49 L578.71 67.49 L578.71 65.54 L577.73 65.54 L577.73 63.59 L576.74 63.59 L576.74 61.64 L575.75 61.64 L575.75 59.69 L574.76 59.69 L574.76 58.28 L573.73 58.28 L573.73 56.87 L572.7 56.87 L572.7 55.47 L571.66 55.47 L571.66 54.06 L570.63 54.06 L570.63 52.68 L569.54 52.68 L569.54 51.31 L568.45 51.31 L568.45 49.93 L567.36 49.93 L567.36 48.55 L566.27 48.55 L566.27 47.17 L565.18 47.17 L565.18 45.42 L564.28 45.42 L564.28 43.67 L563.39 43.67 L563.39 41.92 L562.5 41.92 L562.5 40.17 L561.6 40.17 L561.6 36 L560.48 36 L560.48 31.83 L559.35 31.83 L559.35 27.66 L558.22 27.66 L558.22 23.94 L557.28 23.94 L557.28 20.23 L556.34 20.23 L556.34 16.52 L555.4 16.52 L555.4 14.94 L554.46 14.94 L554.46 13.35 L553.52 13.35 L553.52 11.77 L552.58 11.77 L552.58 10.18 L551.64 10.18 L551.64 8.6 L550.7 8.6Z" fill="#4DBBD5" fill-opacity="0.21" stroke="none"/><path d="M550.7 8.6 L551.72 8.6 L551.72 8.84 L552.73 8.84 L552.73 9.08 L553.75 9.08 L553.75 9.32 L554.76 9.32 L554.76 9.56 L555.78 9.56 L555.78 9.81 L556.79 9.81 L556.79 10.05 L557.81 10.05 L557.81 10.29 L558.82 10.29 L558.82 10.53 L559.84 10.53 L559.84 10.77 L560.85 10.77 L560.85 11.01 L561.85 11.01 L561.85 11.4 L562.84 11.4 L562.84 11.8 L563.83 11.8 L563.83 12.19 L564.83 12.19 L564.83 12.59 L565.82 12.59 L565.82 12.98 L566.81 12.98 L566.81 13.37 L567.81 13.37 L567.81 13.77 L568.94 13.77 L568.94 14.87 L570.06 14.87 L570.06 15.97 L571.19 15.97 L571.19 17.07 L572.32 17.07 L572.32 18.17 L573.45 18.17 L573.45 19.28 L574.44 19.28 L574.44 19.69 L575.44 19.69 L575.44 20.1 L576.43 20.1 L576.43 20.51 L577.42 20.51 L577.42 20.92 L578.42 20.92 L578.42 21.33 L579.41 21.33 L579.41 21.74 L580.4 21.74 L580.4 22.15 L581.44 22.15 L581.44 23.18 L582.47 23.18 L582.47 24.21 L583.51 24.21 L583.51 25.25 L584.54 25.25 L584.54 26.28 L588.68 26.28 L588.68 31.79 L594.32 31.79 L594.32 36.04 L599.96 36.04 L599.96 37.41 L605.41 37.41 L605.41 42.35 L619.88 42.35 L619.88 45.8 L622.7 45.8 L622.7 49.93 L626.28 49.93 L626.28 55.55 L632.48 55.55 L632.48 61.06 L681.17 61.06 L680.23 109.85 L633.42 109.85 L633.42 103.77 L625.15 103.77 L625.15 96.19 L622.14 96.19 L622.14 82.65 L600.52 82.65 L600.52 66 L590.18 66 L590.18 54.52 L584.54 54.52 L584.54 53.6 L583.45 53.6 L583.45 52.68 L582.36 52.68 L582.36 51.76 L581.27 51.76 L581.27 50.85 L580.18 50.85 L580.18 49.93 L579.09 49.93 L579.09 48.21 L578.01 48.21 L578.01 46.48 L576.93 46.48 L576.93 44.76 L575.85 44.76 L575.85 43.04 L574.76 43.04 L574.76 41.73 L573.77 41.73 L573.77 40.42 L572.78 40.42 L572.78 39.1 L571.78 39.1 L571.78 37.79 L570.79 37.79 L570.79 36.48 L569.8 36.48 L569.8 35.17 L568.8 35.17 L568.8 33.86 L567.81 33.86 L567.81 32.87 L566.81 32.87 L566.81 31.89 L565.82 31.89 L565.82 30.9 L564.83 30.9 L564.83 29.92 L563.83 29.92 L563.83 28.94 L562.84 28.94 L562.84 27.95 L561.85 27.95 L561.85 26.97 L560.85 26.97 L560.85 24.9 L559.76 24.9 L559.76 22.84 L558.67 22.84 L558.67 20.77 L557.58 20.77 L557.58 18.7 L556.49 18.7 L556.49 16.64 L555.4 16.64 L555.4 15.03 L554.46 15.03 L554.46 13.42 L553.52 13.42 L553.52 11.81 L552.58 11.81 L552.58 10.21 L551.64 10.21 L551.64 8.6 L550.7 8.6Z" fill="#E64B35" fill-opacity="0.21" stroke="none"/></g><path d="M550.7 8.6 L551.77 8.6 L551.77 9.14 L552.83 9.14 L552.83 9.67 L553.9 9.67 L553.9 10.21 L554.79 10.21 L554.79 12.13 L555.68 12.13 L555.68 14.05 L556.58 14.05 L556.58 15.98 L557.47 15.98 L557.47 17.9 L558.41 17.9 L558.41 19.77 L559.35 19.77 L559.35 21.65 L560.29 21.65 L560.29 23.52 L561.32 23.52 L561.32 28.4 L562.36 28.4 L562.36 33.28 L563.2 33.28 L563.2 34.32 L564.05 34.32 L564.05 35.35 L564.89 35.35 L564.89 36.38 L565.74 36.38 L565.74 37.41 L566.63 37.41 L566.63 38.79 L567.53 38.79 L567.53 40.17 L568.42 40.17 L568.42 41.55 L569.31 41.55 L569.31 42.93 L570.44 42.93 L570.44 44.34 L571.57 44.34 L571.57 45.76 L572.7 45.76 L572.7 47.17 L573.59 47.17 L573.59 48.21 L574.48 48.21 L574.48 49.24 L575.38 49.24 L575.38 50.27 L576.27 50.27 L576.27 51.31 L577.3 51.31 L577.3 53.37 L578.34 53.37 L578.34 55.44 L579.28 55.44 L579.28 56.85 L580.22 56.85 L580.22 58.27 L581.16 58.27 L581.16 59.69 L581.81 59.69 L581.81 62.1 L582.47 62.1 L582.47 64.51 L583.47 64.51 L583.47 66.04 L584.48 66.04 L584.48 67.57 L585.48 67.57 L585.48 69.1 L588.49 69.1 L588.49 72.77 L590.74 72.77 L590.74 75.07 L599.02 75.07 L599.02 76.56 L600.52 76.56 L600.52 80.35 L615.94 80.35 L615.94 86.43 L622.89 86.43 L622.89 92.4 L642.44 92.4 L642.44 108.25 L644.7 108.25" fill="none" stroke="#4DBBD5" stroke-width="0.9" stroke-linejoin="miter"/><path d="M558.22 15.7 V20.1 M556.62 17.9 H559.82" stroke="#4DBBD5" stroke-width="0.6"/><path d="M561.98 21.32 V25.72 M560.38 23.52 H563.58" stroke="#4DBBD5" stroke-width="0.6"/><path d="M565.74 35.21 V39.61 M564.14 37.41 H567.34" stroke="#4DBBD5" stroke-width="0.6"/><path d="M569.5 40.73 V45.13 M567.9 42.93 H571.1" stroke="#4DBBD5" stroke-width="0.6"/><path d="M573.26 44.97 V49.37 M571.66 47.17 H574.86" stroke="#4DBBD5" stroke-width="0.6"/><path d="M597.7 72.87 V77.27 M596.1 75.07 H599.3" stroke="#4DBBD5" stroke-width="0.6"/><path d="M601.46 78.15 V82.55 M599.86 80.35 H603.06" stroke="#4DBBD5" stroke-width="0.6"/><path d="M603.34 78.15 V82.55 M601.74 80.35 H604.94" stroke="#4DBBD5" stroke-width="0.6"/><path d="M607.1 78.15 V82.55 M605.5 80.35 H608.7" stroke="#4DBBD5" stroke-width="0.6"/><path d="M610.86 78.15 V82.55 M609.26 80.35 H612.46" stroke="#4DBBD5" stroke-width="0.6"/><path d="M618.38 84.23 V88.63 M616.78 86.43 H619.98" stroke="#4DBBD5" stroke-width="0.6"/><path d="M635.3 90.2 V94.6 M633.7 92.4 H636.9" stroke="#4DBBD5" stroke-width="0.6"/><path d="M644.7 106.05 V110.45 M643.1 108.25 H646.3" stroke="#4DBBD5" stroke-width="0.6"/><path d="M550.7 8.6 L551.77 8.6 L551.77 8.68 L552.83 8.68 L552.83 8.75 L553.9 8.75 L553.9 8.83 L554.84 8.83 L554.84 10.93 L555.78 10.93 L555.78 13.04 L556.72 13.04 L556.72 15.14 L557.75 15.14 L557.75 15.66 L558.78 15.66 L558.78 16.18 L559.82 16.18 L559.82 16.69 L560.85 16.69 L560.85 17.21 L561.93 17.21 L561.93 18.07 L563.01 18.07 L563.01 18.93 L564.1 18.93 L564.1 19.79 L565.18 19.79 L565.18 20.65 L566.21 20.65 L566.21 21.2 L567.24 21.2 L567.24 21.74 L568.28 21.74 L568.28 22.29 L569.31 22.29 L569.31 22.84 L570.35 22.84 L570.35 25.25 L571.38 25.25 L571.38 27.66 L572.51 27.66 L572.51 28.12 L573.64 28.12 L573.64 28.58 L574.76 28.58 L574.76 29.03 L575.8 29.03 L575.8 31.5 L576.83 31.5 L576.83 33.97 L577.73 33.97 L577.73 34.83 L578.62 34.83 L578.62 35.69 L579.51 35.69 L579.51 36.55 L580.4 36.55 L580.4 37.41 L581.44 37.41 L581.44 38.79 L582.47 38.79 L582.47 40.17 L583.37 40.17 L583.37 40.51 L584.26 40.51 L584.26 40.86 L585.15 40.86 L585.15 41.2 L586.04 41.2 L586.04 41.55 L588.68 41.55 L588.68 44.3 L590.18 44.3 L590.18 49.93 L594.32 49.93 L594.32 52.68 L598.45 52.68 L598.45 55.44 L600.52 55.44 L600.52 59.69 L602.02 59.69 L602.02 66 L621.39 66 L621.39 73.58 L624.4 73.58 L624.4 80.35 L625.15 80.35 L625.15 87.12 L632.67 87.12 L632.67 94.7 L680.23 94.7 L680.23 123.4 L680.23 123.4" fill="none" stroke="#E64B35" stroke-width="0.9" stroke-linejoin="miter"/><path d="M560.1 12.94 V17.34 M558.5 15.14 H561.7" stroke="#E64B35" stroke-width="0.6"/><path d="M569.5 20.64 V25.04 M567.9 22.84 H571.1" stroke="#E64B35" stroke-width="0.6"/><path d="M577.02 31.77 V36.17 M575.42 33.97 H578.62" stroke="#E64B35" stroke-width="0.6"/><path d="M597.7 50.48 V54.88 M596.1 52.68 H599.3" stroke="#E64B35" stroke-width="0.6"/><path d="M601.46 57.49 V61.89 M599.86 59.69 H603.06" stroke="#E64B35" stroke-width="0.6"/><path d="M607.1 63.8 V68.2 M605.5 66 H608.7" stroke="#E64B35" stroke-width="0.6"/><path d="M635.3 92.5 V96.9 M633.7 94.7 H636.9" stroke="#E64B35" stroke-width="0.6"/><path d="M654.1 92.5 V96.9 M652.5 94.7 H655.7" stroke="#E64B35" stroke-width="0.6"/><rect x="547.7" y="5.1" width="135.5" height="118.3" fill="none" stroke="#333" stroke-width="1.2"/><line x1="545.1" y1="94.7" x2="547.7" y2="94.7" stroke="#333" stroke-width="1"/><text x="542.7" y="97" font-size="7" fill="#333" text-anchor="end">0.25</text><line x1="545.1" y1="66" x2="547.7" y2="66" stroke="#333" stroke-width="1"/><text x="542.7" y="68.3" font-size="7" fill="#333" text-anchor="end">0.50</text><line x1="545.1" y1="37.3" x2="547.7" y2="37.3" stroke="#333" stroke-width="1"/><text x="542.7" y="39.6" font-size="7" fill="#333" text-anchor="end">0.75</text><line x1="545.1" y1="8.6" x2="547.7" y2="8.6" stroke="#333" stroke-width="1"/><text x="542.7" y="10.9" font-size="7" fill="#333" text-anchor="end">1.00</text><line x1="550.7" y1="123.4" x2="550.7" y2="126" stroke="#333" stroke-width="1"/><text x="550.7" y="134" font-size="7" fill="#333" text-anchor="middle">0</text><line x1="588.3" y1="123.4" x2="588.3" y2="126" stroke="#333" stroke-width="1"/><text x="588.3" y="134" font-size="7" fill="#333" text-anchor="middle">2</text><line x1="625.9" y1="123.4" x2="625.9" y2="126" stroke="#333" stroke-width="1"/><text x="625.9" y="134" font-size="7" fill="#333" text-anchor="middle">4</text><line x1="663.5" y1="123.4" x2="663.5" y2="126" stroke="#333" stroke-width="1"/><text x="663.5" y="134" font-size="7" fill="#333" text-anchor="middle">6</text><text x="615.45" y="143.4" font-size="8" fill="#000" text-anchor="middle">Time (years)</text><text transform="translate(525.9 63.25) rotate(-90)" font-size="8.15" fill="#111" text-anchor="middle">Survival probability</text><text x="518.8" y="9.3" font-size="12.5" font-weight="bold" fill="#000">D</text><text x="633.9" y="11.7" font-size="7" fill="#000">L3MBTL2−AS1</text><line x1="634.1" y1="18.3" x2="639.5" y2="18.3" stroke="#4DBBD5" stroke-width="1.1"/><text x="643.5" y="20.4" font-size="7" fill="#000">Low</text><line x1="634.1" y1="25.3" x2="639.5" y2="25.3" stroke="#E64B35" stroke-width="1.1"/><text x="643.5" y="28" font-size="7" fill="#000">High</text><text x="550.5" y="102.1" font-size="7.2" fill="#111" letter-spacing="0.12" xml:space="preserve">Overall Survival</text><text x="550.5" y="110" font-size="7.2" fill="#111" letter-spacing="0.08" xml:space="preserve">HR = 0.58  (0.35 − 0.95)</text><text x="550.5" y="118.4" font-size="7.2" fill="#111" letter-spacing="0.08" xml:space="preserve"><tspan font-style="italic">P</tspan> = 0.030</text></g>
<g><defs><clipPath id="cE"><rect x="30.3" y="147.6" width="135.5" height="118.3"/></clipPath></defs><g clip-path="url(#cE)"><line x1="33" y1="147.6" x2="33" y2="265.9" stroke="#E4E4E4" stroke-width="1.1"/><line x1="51.8" y1="147.6" x2="51.8" y2="265.9" stroke="#E4E4E4" stroke-width="0.7"/><line x1="70.6" y1="147.6" x2="70.6" y2="265.9" stroke="#E4E4E4" stroke-width="1.1"/><line x1="89.4" y1="147.6" x2="89.4" y2="265.9" stroke="#E4E4E4" stroke-width="0.7"/><line x1="108.2" y1="147.6" x2="108.2" y2="265.9" stroke="#E4E4E4" stroke-width="1.1"/><line x1="127" y1="147.6" x2="127" y2="265.9" stroke="#E4E4E4" stroke-width="0.7"/><line x1="145.8" y1="147.6" x2="145.8" y2="265.9" stroke="#E4E4E4" stroke-width="1.1"/><line x1="164.6" y1="147.6" x2="164.6" y2="265.9" stroke="#E4E4E4" stroke-width="0.7"/><line x1="30.3" y1="251.55" x2="165.8" y2="251.55" stroke="#E4E4E4" stroke-width="0.7"/><line x1="30.3" y1="237.2" x2="165.8" y2="237.2" stroke="#E4E4E4" stroke-width="1.1"/><line x1="30.3" y1="222.85" x2="165.8" y2="222.85" stroke="#E4E4E4" stroke-width="0.7"/><line x1="30.3" y1="208.5" x2="165.8" y2="208.5" stroke="#E4E4E4" stroke-width="1.1"/><line x1="30.3" y1="194.15" x2="165.8" y2="194.15" stroke="#E4E4E4" stroke-width="0.7"/><line x1="30.3" y1="179.8" x2="165.8" y2="179.8" stroke="#E4E4E4" stroke-width="1.1"/><line x1="30.3" y1="165.45" x2="165.8" y2="165.45" stroke="#E4E4E4" stroke-width="0.7"/><line x1="30.3" y1="151.1" x2="165.8" y2="151.1" stroke="#E4E4E4" stroke-width="1.1"/><path d="M33.3 151.1 L34.32 151.1 L34.32 151.19 L35.33 151.19 L35.33 151.28 L36.35 151.28 L36.35 151.38 L37.36 151.38 L37.36 151.47 L38.38 151.47 L38.38 151.56 L39.37 151.56 L39.37 152.15 L40.36 152.15 L40.36 152.74 L41.36 152.74 L41.36 153.33 L42.35 153.33 L42.35 153.92 L43.34 153.92 L43.34 154.51 L44.34 154.51 L44.34 155.1 L45.33 155.1 L45.33 155.69 L46.42 155.69 L46.42 156.54 L47.51 156.54 L47.51 157.39 L48.6 157.39 L48.6 158.24 L49.69 158.24 L49.69 159.09 L50.78 159.09 L50.78 159.94 L51.78 159.94 L51.78 160.92 L52.77 160.92 L52.77 161.91 L53.77 161.91 L53.77 162.89 L54.76 162.89 L54.76 163.88 L55.75 163.88 L55.75 164.86 L56.75 164.86 L56.75 165.84 L57.74 165.84 L57.74 166.83 L58.76 166.83 L58.76 167.63 L59.78 167.63 L59.78 168.43 L60.8 168.43 L60.8 169.24 L61.82 169.24 L61.82 170.04 L62.84 170.04 L62.84 170.85 L63.86 170.85 L63.86 171.65 L64.88 171.65 L64.88 172.45 L65.88 172.45 L65.88 173.04 L66.87 173.04 L66.87 173.63 L67.87 173.63 L67.87 174.22 L68.86 174.22 L68.86 174.81 L69.85 174.81 L69.85 175.4 L70.85 175.4 L70.85 176 L71.84 176 L71.84 176.59 L72.87 176.59 L72.87 177.3 L73.91 177.3 L73.91 178.02 L74.94 178.02 L74.94 178.74 L75.98 178.74 L75.98 179.46 L108.5 179.46 L108.5 184.97 L163.58 184.97 L163.21 238.23 L108.12 238.23 L108.12 214.24 L76.73 214.24 L76.73 212.59 L75.75 212.59 L75.75 210.93 L74.77 210.93 L74.77 209.28 L73.8 209.28 L73.8 207.63 L72.82 207.63 L72.82 205.97 L71.84 205.97 L71.84 204.52 L70.9 204.52 L70.9 203.07 L69.96 203.07 L69.96 201.61 L69.02 201.61 L69.02 199.89 L67.99 199.89 L67.99 198.17 L66.95 198.17 L66.95 196.45 L65.92 196.45 L65.92 194.72 L64.88 194.72 L64.88 193.56 L63.94 193.56 L63.94 192.39 L63 192.39 L63 191.22 L62.06 191.22 L62.06 190.06 L61.12 190.06 L61.12 188.89 L60.18 188.89 L60.18 187.72 L59.24 187.72 L59.24 186.89 L58.12 186.89 L58.12 186.07 L56.99 186.07 L56.99 185.24 L55.86 185.24 L55.86 184.41 L54.73 184.41 L54.73 183.59 L53.6 183.59 L53.6 182.19 L52.51 182.19 L52.51 180.79 L51.42 180.79 L51.42 179.39 L50.33 179.39 L50.33 177.99 L49.24 177.99 L49.24 176.59 L48.15 176.59 L48.15 174.68 L47.09 174.68 L47.09 172.77 L46.04 172.77 L46.04 170.86 L44.98 170.86 L44.98 168.95 L43.92 168.95 L43.92 167.04 L42.86 167.04 L42.86 165.13 L41.81 165.13 L41.81 163.23 L40.75 163.23 L40.75 161.32 L39.69 161.32 L39.69 159.61 L38.63 159.61 L38.63 157.91 L37.56 157.91 L37.56 156.21 L36.5 156.21 L36.5 154.51 L35.43 154.51 L35.43 152.8 L34.37 152.8 L34.37 151.1 L33.3 151.1Z" fill="#4DBBD5" fill-opacity="0.21" stroke="none"/><path d="M33.3 151.1 L34.32 151.1 L34.32 151.33 L35.33 151.33 L35.33 151.56 L36.35 151.56 L36.35 151.79 L37.36 151.79 L37.36 152.02 L38.38 152.02 L38.38 152.25 L39.47 152.25 L39.47 153.63 L40.56 153.63 L40.56 155 L41.65 155 L41.65 156.38 L42.74 156.38 L42.74 157.76 L43.83 157.76 L43.83 159.14 L44.91 159.14 L44.91 160.57 L45.99 160.57 L45.99 162.01 L47.07 162.01 L47.07 163.44 L48.15 163.44 L48.15 164.88 L49.24 164.88 L49.24 165.56 L50.33 165.56 L50.33 166.25 L51.42 166.25 L51.42 166.94 L52.51 166.94 L52.51 167.63 L53.6 167.63 L53.6 168.32 L54.64 168.32 L54.64 170.04 L55.67 170.04 L55.67 171.76 L56.71 171.76 L56.71 173.49 L57.74 173.49 L57.74 175.21 L58.76 175.21 L58.76 176.21 L59.78 176.21 L59.78 177.21 L60.8 177.21 L60.8 178.21 L61.82 178.21 L61.82 179.21 L62.84 179.21 L62.84 180.21 L63.86 180.21 L63.86 181.21 L64.88 181.21 L64.88 182.21 L65.97 182.21 L65.97 183.86 L67.06 183.86 L67.06 185.52 L68.16 185.52 L68.16 187.17 L69.25 187.17 L69.25 188.82 L70.34 188.82 L70.34 190.48 L71.28 190.48 L71.28 191.41 L72.22 191.41 L72.22 192.35 L73.16 192.35 L73.16 193.29 L74.1 193.29 L74.1 194.23 L75.04 194.23 L75.04 195.16 L75.98 195.16 L75.98 196.1 L77.01 196.1 L77.01 197.13 L78.04 197.13 L78.04 198.17 L79.08 198.17 L79.08 199.2 L80.11 199.2 L80.11 200.23 L81.05 200.23 L81.05 202.15 L81.99 202.15 L81.99 204.06 L82.93 204.06 L82.93 205.97 L96.09 205.97 L96.09 210.34 L108.12 210.34 L108.12 222.39 L124.67 222.39 L124.67 226.87 L127.68 226.87 L127.68 262.34 L127.68 262.34 L127.68 258.55 L115.64 258.55 L115.64 253.27 L108.12 253.27 L108.12 241.22 L83.5 241.22 L83.5 232.15 L75.22 232.15 L75.22 231.15 L74.22 231.15 L74.22 230.16 L73.22 230.16 L73.22 229.16 L72.22 229.16 L72.22 226.9 L71.09 226.9 L71.09 224.63 L69.96 224.63 L69.96 222.36 L68.83 222.36 L68.83 220.09 L67.7 220.09 L67.7 218.58 L66.7 218.58 L66.7 217.07 L65.7 217.07 L65.7 215.56 L64.7 215.56 L64.7 214.05 L63.69 214.05 L63.69 212.54 L62.69 212.54 L62.69 211.03 L61.69 211.03 L61.69 209.14 L60.64 209.14 L60.64 207.26 L59.58 207.26 L59.58 205.38 L58.53 205.38 L58.53 203.49 L57.48 203.49 L57.48 201.61 L56.42 201.61 L56.42 199.32 L55.48 199.32 L55.48 197.02 L54.54 197.02 L54.54 194.72 L53.6 194.72 L53.6 192.39 L52.66 192.39 L52.66 190.06 L51.72 190.06 L51.72 187.72 L50.78 187.72 L50.78 187.45 L49.69 187.45 L49.69 187.17 L48.6 187.17 L48.6 186.89 L47.51 186.89 L47.51 186.62 L46.42 186.62 L46.42 186.34 L45.33 186.34 L45.33 182.63 L44.39 182.63 L44.39 178.92 L43.45 178.92 L43.45 175.21 L42.51 175.21 L42.51 172.42 L41.48 172.42 L41.48 169.64 L40.44 169.64 L40.44 166.86 L39.41 166.86 L39.41 164.07 L38.38 164.07 L38.38 161.48 L37.36 161.48 L37.36 158.88 L36.35 158.88 L36.35 156.29 L35.33 156.29 L35.33 153.69 L34.32 153.69 L34.32 151.1 L33.3 151.1Z" fill="#E64B35" fill-opacity="0.21" stroke="none"/></g><path d="M33.3 151.1 L34.19 151.1 L34.19 152.25 L35.09 152.25 L35.09 153.4 L35.98 153.4 L35.98 154.54 L36.87 154.54 L36.87 155.69 L37.95 155.69 L37.95 157.1 L39.03 157.1 L39.03 158.5 L40.11 158.5 L40.11 159.91 L41.2 159.91 L41.2 161.32 L42.23 161.32 L42.23 162.69 L43.26 162.69 L43.26 164.07 L44.3 164.07 L44.3 165.45 L45.33 165.45 L45.33 166.83 L46.42 166.83 L46.42 167.68 L47.51 167.68 L47.51 168.53 L48.6 168.53 L48.6 169.38 L49.69 169.38 L49.69 170.23 L50.78 170.23 L50.78 171.08 L51.91 171.08 L51.91 171.63 L53.04 171.63 L53.04 172.18 L54.17 172.18 L54.17 172.73 L55.3 172.73 L55.3 173.28 L56.42 173.28 L56.42 173.83 L57.46 173.83 L57.46 174.86 L58.49 174.86 L58.49 175.9 L59.53 175.9 L59.53 176.93 L60.56 176.93 L60.56 177.96 L61.64 177.96 L61.64 179.37 L62.72 179.37 L62.72 180.78 L63.8 180.78 L63.8 182.18 L64.88 182.18 L64.88 183.59 L65.92 183.59 L65.92 184.97 L66.95 184.97 L66.95 186.34 L67.99 186.34 L67.99 187.72 L69.02 187.72 L69.02 189.1 L70.05 189.1 L70.05 190.51 L71.09 190.51 L71.09 191.91 L72.12 191.91 L72.12 193.32 L73.16 193.32 L73.16 194.72 L74.19 194.72 L74.19 195.93 L75.22 195.93 L75.22 197.13 L76.26 197.13 L76.26 198.34 L77.29 198.34 L77.29 199.55 L98.16 199.55 L98.16 209.07 L108.12 209.07 L108.12 218.6 L163.21 218.6 L163.21 265.9 L163.21 265.9" fill="none" stroke="#4DBBD5" stroke-width="0.9" stroke-linejoin="miter"/><path d="M38.94 153.49 V157.89 M37.34 155.69 H40.54" stroke="#4DBBD5" stroke-width="0.6"/><path d="M42.7 159.12 V163.52 M41.1 161.32 H44.3" stroke="#4DBBD5" stroke-width="0.6"/><path d="M50.22 164.63 V169.03 M48.62 166.83 H51.82" stroke="#4DBBD5" stroke-width="0.6"/><path d="M55.86 168.88 V173.28 M54.26 171.08 H57.46" stroke="#4DBBD5" stroke-width="0.6"/><path d="M61.5 175.76 V180.16 M59.9 177.96 H63.1" stroke="#4DBBD5" stroke-width="0.6"/><path d="M70.9 186.9 V191.3 M69.3 189.1 H72.5" stroke="#4DBBD5" stroke-width="0.6"/><path d="M80.3 197.35 V201.75 M78.7 199.55 H81.9" stroke="#4DBBD5" stroke-width="0.6"/><path d="M85.94 197.35 V201.75 M84.34 199.55 H87.54" stroke="#4DBBD5" stroke-width="0.6"/><path d="M116.96 216.4 V220.8 M115.36 218.6 H118.56" stroke="#4DBBD5" stroke-width="0.6"/><path d="M139.71 216.4 V220.8 M138.11 218.6 H141.31" stroke="#4DBBD5" stroke-width="0.6"/><path d="M33.3 151.1 L34.19 151.1 L34.19 151.21 L35.09 151.21 L35.09 151.33 L35.98 151.33 L35.98 151.44 L36.87 151.44 L36.87 151.56 L37.81 151.56 L37.81 154.35 L38.75 154.35 L38.75 157.15 L39.69 157.15 L39.69 159.94 L40.63 159.94 L40.63 161.78 L41.57 161.78 L41.57 163.61 L42.51 163.61 L42.51 165.45 L43.17 165.45 L43.17 167.57 L43.83 167.57 L43.83 169.7 L44.96 169.7 L44.96 173.49 L46.08 173.49 L46.08 177.27 L47.17 177.27 L47.17 177.27 L48.26 177.27 L48.26 177.27 L49.36 177.27 L49.36 177.27 L50.45 177.27 L50.45 177.27 L51.54 177.27 L51.54 177.27 L52.29 177.27 L52.29 179.74 L53.04 179.74 L53.04 182.21 L54.07 182.21 L54.07 184.97 L55.11 184.97 L55.11 187.72 L55.99 187.72 L55.99 189.6 L56.86 189.6 L56.86 191.47 L57.74 191.47 L57.74 193.35 L58.87 193.35 L58.87 194.72 L60 194.72 L60 196.1 L60.65 196.1 L60.65 198.17 L61.31 198.17 L61.31 200.23 L62.35 200.23 L62.35 201.67 L63.38 201.67 L63.38 203.1 L63.94 203.1 L63.94 205.74 L64.88 205.74 L64.88 206.12 L65.82 206.12 L65.82 206.49 L66.76 206.49 L66.76 206.86 L67.7 206.86 L67.7 207.24 L68.71 207.24 L68.71 208.5 L69.71 208.5 L69.71 209.76 L70.71 209.76 L70.71 211.03 L71.71 211.03 L71.71 213.05 L72.72 213.05 L72.72 215.08 L73.72 215.08 L73.72 217.11 L83.5 217.11 L83.5 228.36 L103.61 228.36 L103.61 232.95 L105.87 232.95 L105.87 242.71 L115.64 242.71 L115.64 247.99 L124.67 247.99 L124.67 254.08 L127.68 254.08" fill="none" stroke="#E64B35" stroke-width="0.9" stroke-linejoin="miter"/><path d="M35.18 148.9 V153.3 M33.58 151.1 H36.78" stroke="#E64B35" stroke-width="0.6"/><path d="M38.94 149.36 V153.76 M37.34 151.56 H40.54" stroke="#E64B35" stroke-width="0.6"/><path d="M42.7 163.25 V167.65 M41.1 165.45 H44.3" stroke="#E64B35" stroke-width="0.6"/><path d="M46.46 175.07 V179.47 M44.86 177.27 H48.06" stroke="#E64B35" stroke-width="0.6"/><path d="M55.86 185.52 V189.92 M54.26 187.72 H57.46" stroke="#E64B35" stroke-width="0.6"/><path d="M61.5 198.03 V202.43 M59.9 200.23 H63.1" stroke="#E64B35" stroke-width="0.6"/><path d="M84.06 226.16 V230.56 M82.46 228.36 H85.66" stroke="#E64B35" stroke-width="0.6"/><path d="M125.42 251.88 V256.28 M123.82 254.08 H127.02" stroke="#E64B35" stroke-width="0.6"/><rect x="30.3" y="147.6" width="135.5" height="118.3" fill="none" stroke="#333" stroke-width="1.2"/><line x1="27.7" y1="237.2" x2="30.3" y2="237.2" stroke="#333" stroke-width="1"/><text x="25.3" y="239.5" font-size="7" fill="#333" text-anchor="end">0.25</text><line x1="27.7" y1="208.5" x2="30.3" y2="208.5" stroke="#333" stroke-width="1"/><text x="25.3" y="210.8" font-size="7" fill="#333" text-anchor="end">0.50</text><line x1="27.7" y1="179.8" x2="30.3" y2="179.8" stroke="#333" stroke-width="1"/><text x="25.3" y="182.1" font-size="7" fill="#333" text-anchor="end">0.75</text><line x1="27.7" y1="151.1" x2="30.3" y2="151.1" stroke="#333" stroke-width="1"/><text x="25.3" y="153.4" font-size="7" fill="#333" text-anchor="end">1.00</text><line x1="33.3" y1="265.9" x2="33.3" y2="268.5" stroke="#333" stroke-width="1"/><text x="33.3" y="276.5" font-size="7" fill="#333" text-anchor="middle">0</text><line x1="70.9" y1="265.9" x2="70.9" y2="268.5" stroke="#333" stroke-width="1"/><text x="70.9" y="276.5" font-size="7" fill="#333" text-anchor="middle">2</text><line x1="108.5" y1="265.9" x2="108.5" y2="268.5" stroke="#333" stroke-width="1"/><text x="108.5" y="276.5" font-size="7" fill="#333" text-anchor="middle">4</text><line x1="146.1" y1="265.9" x2="146.1" y2="268.5" stroke="#333" stroke-width="1"/><text x="146.1" y="276.5" font-size="7" fill="#333" text-anchor="middle">6</text><text x="98.05" y="285.9" font-size="8" fill="#000" text-anchor="middle">Time (years)</text><text transform="translate(8.5 205.75) rotate(-90)" font-size="8.15" fill="#111" text-anchor="middle">Survival probability</text><text x="1.1" y="150.7" font-size="12.5" font-weight="bold" fill="#000">E</text><text x="128.7" y="154.2" font-size="7" fill="#000">LINC00365</text><line x1="128.9" y1="160.8" x2="134.3" y2="160.8" stroke="#4DBBD5" stroke-width="1.1"/><text x="138.3" y="162.9" font-size="7" fill="#000">Low</text><line x1="128.9" y1="167.8" x2="134.3" y2="167.8" stroke="#E64B35" stroke-width="1.1"/><text x="138.3" y="170.5" font-size="7" fill="#000">High</text><text x="33.1" y="244.6" font-size="7.2" fill="#111" letter-spacing="0.12" xml:space="preserve">Overall Survival</text><text x="33.1" y="252.5" font-size="7.2" fill="#111" letter-spacing="0.08" xml:space="preserve">HR = 1.81  (1.09 − 3.00)</text><text x="33.1" y="260.9" font-size="7.2" fill="#111" letter-spacing="0.08" xml:space="preserve"><tspan font-style="italic">P</tspan> = 0.021</text></g>
<g><defs><clipPath id="cF"><rect x="203" y="147.6" width="135.5" height="118.3"/></clipPath></defs><g clip-path="url(#cF)"><line x1="205.7" y1="147.6" x2="205.7" y2="265.9" stroke="#E4E4E4" stroke-width="1.1"/><line x1="224.5" y1="147.6" x2="224.5" y2="265.9" stroke="#E4E4E4" stroke-width="0.7"/><line x1="243.3" y1="147.6" x2="243.3" y2="265.9" stroke="#E4E4E4" stroke-width="1.1"/><line x1="262.1" y1="147.6" x2="262.1" y2="265.9" stroke="#E4E4E4" stroke-width="0.7"/><line x1="280.9" y1="147.6" x2="280.9" y2="265.9" stroke="#E4E4E4" stroke-width="1.1"/><line x1="299.7" y1="147.6" x2="299.7" y2="265.9" stroke="#E4E4E4" stroke-width="0.7"/><line x1="318.5" y1="147.6" x2="318.5" y2="265.9" stroke="#E4E4E4" stroke-width="1.1"/><line x1="337.3" y1="147.6" x2="337.3" y2="265.9" stroke="#E4E4E4" stroke-width="0.7"/><line x1="203" y1="256.1" x2="338.5" y2="256.1" stroke="#E4E4E4" stroke-width="0.7"/><line x1="203" y1="241.1" x2="338.5" y2="241.1" stroke="#E4E4E4" stroke-width="1.1"/><line x1="203" y1="226.1" x2="338.5" y2="226.1" stroke="#E4E4E4" stroke-width="0.7"/><line x1="203" y1="211.1" x2="338.5" y2="211.1" stroke="#E4E4E4" stroke-width="1.1"/><line x1="203" y1="196.1" x2="338.5" y2="196.1" stroke="#E4E4E4" stroke-width="0.7"/><line x1="203" y1="181.1" x2="338.5" y2="181.1" stroke="#E4E4E4" stroke-width="1.1"/><line x1="203" y1="166.1" x2="338.5" y2="166.1" stroke="#E4E4E4" stroke-width="0.7"/><line x1="203" y1="151.1" x2="338.5" y2="151.1" stroke="#E4E4E4" stroke-width="1.1"/><path d="M206 151.1 L207.13 151.1 L207.13 151.34 L208.26 151.34 L208.26 151.58 L209.38 151.58 L209.38 151.82 L210.51 151.82 L210.51 152.06 L211.64 152.06 L211.64 152.3 L212.77 152.3 L212.77 154.46 L213.9 154.46 L213.9 156.62 L215.02 156.62 L215.02 158.78 L216.15 158.78 L216.15 160.94 L217.28 160.94 L217.28 163.1 L218.35 163.1 L218.35 164.81 L219.43 164.81 L219.43 166.53 L220.5 166.53 L220.5 168.24 L221.58 168.24 L221.58 169.96 L222.65 169.96 L222.65 171.67 L223.73 171.67 L223.73 173.39 L224.8 173.39 L224.8 175.1 L225.84 175.1 L225.84 176.43 L226.89 176.43 L226.89 177.77 L227.93 177.77 L227.93 179.1 L228.98 179.1 L228.98 180.43 L230.02 180.43 L230.02 181.77 L231.07 181.77 L231.07 183.1 L232.11 183.1 L232.11 184.43 L233.16 184.43 L233.16 185.77 L234.2 185.77 L234.2 187.1 L235.24 187.1 L235.24 188.17 L236.29 188.17 L236.29 189.23 L237.33 189.23 L237.33 190.3 L238.38 190.3 L238.38 191.37 L239.42 191.37 L239.42 192.43 L240.47 192.43 L240.47 193.5 L241.51 193.5 L241.51 194.57 L242.56 194.57 L242.56 195.63 L243.6 195.63 L243.6 196.7 L244.63 196.7 L244.63 197.14 L245.65 197.14 L245.65 197.57 L246.68 197.57 L246.68 198.01 L247.7 198.01 L247.7 198.45 L248.73 198.45 L248.73 198.88 L249.75 198.88 L249.75 199.32 L250.78 199.32 L250.78 199.75 L251.8 199.75 L251.8 200.19 L252.83 200.19 L252.83 200.63 L253.85 200.63 L253.85 201.06 L254.88 201.06 L254.88 201.5 L275.56 201.5 L275.56 216.38 L300 216.38 L300 261.62 L278 261.62 L278 235.22 L246.8 235.22 L246.8 233.69 L245.67 233.69 L245.67 232.16 L244.54 232.16 L244.54 230.63 L243.41 230.63 L243.41 229.1 L242.28 229.1 L242.28 226.1 L241.28 226.1 L241.28 223.1 L240.28 223.1 L240.28 220.1 L239.28 220.1 L239.28 218.6 L238.27 218.6 L238.27 217.1 L237.27 217.1 L237.27 215.6 L236.27 215.6 L236.27 214.1 L235.27 214.1 L235.27 212.6 L234.26 212.6 L234.26 211.1 L233.26 211.1 L233.26 209.38 L232.45 209.38 L232.45 207.66 L231.63 207.66 L231.63 205.94 L230.82 205.94 L230.82 204.17 L229.97 204.17 L229.97 202.4 L229.12 202.4 L229.12 200.63 L228.28 200.63 L228.28 198.86 L227.43 198.86 L227.43 197.12 L226.54 197.12 L226.54 195.38 L225.65 195.38 L225.65 193.64 L224.75 193.64 L224.75 191.9 L223.86 191.9 L223.86 189.96 L222.73 189.96 L222.73 188.01 L221.6 188.01 L221.6 186.07 L220.48 186.07 L220.48 184.12 L219.35 184.12 L219.35 182.18 L218.22 182.18 L218.22 180.24 L217.28 180.24 L217.28 178.29 L216.34 178.29 L216.34 176.35 L215.4 176.35 L215.4 174.4 L214.46 174.4 L214.46 172.46 L213.52 172.46 L213.52 169.67 L212.63 169.67 L212.63 166.88 L211.73 166.88 L211.73 164.09 L210.84 164.09 L210.84 161.3 L209.95 161.3 L209.95 158.75 L208.96 158.75 L208.96 156.2 L207.97 156.2 L207.97 153.65 L206.99 153.65 L206.99 151.1 L206 151.1Z" fill="#4DBBD5" fill-opacity="0.21" stroke="none"/><path d="M206 151.1 L207.05 151.1 L207.05 151.2 L208.11 151.2 L208.11 151.29 L209.16 151.29 L209.16 151.39 L210.21 151.39 L210.21 151.48 L211.26 151.48 L211.26 151.58 L212.26 151.58 L212.26 151.97 L213.25 151.97 L213.25 152.37 L214.25 152.37 L214.25 152.76 L215.24 152.76 L215.24 153.16 L216.23 153.16 L216.23 153.55 L217.23 153.55 L217.23 153.95 L218.22 153.95 L218.22 154.34 L219.21 154.34 L219.21 154.73 L220.21 154.73 L220.21 155.13 L221.2 155.13 L221.2 155.52 L222.19 155.52 L222.19 155.92 L223.19 155.92 L223.19 156.31 L224.18 156.31 L224.18 156.71 L225.18 156.71 L225.18 157.1 L226.12 157.1 L226.12 158.26 L227.06 158.26 L227.06 159.42 L228 159.42 L228 160.58 L228.94 160.58 L228.94 161.74 L229.88 161.74 L229.88 162.9 L230.82 162.9 L230.82 164.06 L231.81 164.06 L231.81 165.05 L232.8 165.05 L232.8 166.05 L233.8 166.05 L233.8 167.04 L234.79 167.04 L234.79 168.04 L235.78 168.04 L235.78 169.03 L236.78 169.03 L236.78 170.03 L237.77 170.03 L237.77 171.02 L238.77 171.02 L238.77 172.01 L239.76 172.01 L239.76 173.01 L240.75 173.01 L240.75 174 L241.75 174 L241.75 175 L242.74 175 L242.74 175.99 L243.73 175.99 L243.73 176.99 L244.73 176.99 L244.73 177.98 L254.5 177.98 L254.5 179.42 L255.82 179.42 L255.82 187.7 L271.05 187.7 L271.05 191.3 L280.07 191.3 L280.07 195.38 L287.78 195.38 L287.78 199.58 L298.31 199.58 L298.31 202.46 L336.47 202.46 L335.34 267.02 L300 267.02 L300 262.7 L277.25 262.7 L277.25 229.1 L255.07 229.1 L255.07 211.1 L245.48 211.1 L245.48 205.94 L244.73 205.94 L244.73 204.17 L243.69 204.17 L243.69 202.4 L242.66 202.4 L242.66 200.63 L241.63 200.63 L241.63 198.86 L240.59 198.86 L240.59 197.12 L239.56 197.12 L239.56 195.38 L238.52 195.38 L238.52 193.64 L237.49 193.64 L237.49 191.9 L236.46 191.9 L236.46 190.06 L235.52 190.06 L235.52 188.22 L234.58 188.22 L234.58 186.38 L233.64 186.38 L233.64 185.22 L232.6 185.22 L232.6 184.06 L231.57 184.06 L231.57 182.9 L230.53 182.9 L230.53 181.74 L229.5 181.74 L229.5 180.58 L228.47 180.58 L228.47 179.42 L227.43 179.42 L227.43 178.03 L226.45 178.03 L226.45 176.64 L225.48 176.64 L225.48 175.24 L224.5 175.24 L224.5 173.85 L223.52 173.85 L223.52 172.46 L222.54 172.46 L222.54 171.06 L221.6 171.06 L221.6 169.66 L220.66 169.66 L220.66 168.26 L219.72 168.26 L219.72 166.86 L218.78 166.86 L218.78 165.46 L217.84 165.46 L217.84 164.06 L216.9 164.06 L216.9 162.96 L215.78 162.96 L215.78 161.85 L214.65 161.85 L214.65 160.75 L213.52 160.75 L213.52 159.64 L212.39 159.64 L212.39 158.54 L211.26 158.54 L211.26 157.05 L210.21 157.05 L210.21 155.56 L209.16 155.56 L209.16 154.08 L208.11 154.08 L208.11 152.59 L207.05 152.59 L207.05 151.1 L206 151.1Z" fill="#E64B35" fill-opacity="0.21" stroke="none"/></g><path d="M206 151.1 L207.07 151.1 L207.07 151.7 L208.13 151.7 L208.13 152.3 L209.2 152.3 L209.2 152.9 L210.23 152.9 L210.23 156.38 L211.26 156.38 L211.26 159.86 L212.2 159.86 L212.2 161.74 L213.14 161.74 L213.14 163.62 L214.08 163.62 L214.08 165.5 L215.12 165.5 L215.12 168.26 L216.15 168.26 L216.15 171.02 L216.9 171.02 L216.9 176.6 L217.66 176.6 L217.66 182.18 L218.5 182.18 L218.5 183.23 L219.35 183.23 L219.35 184.28 L220.19 184.28 L220.19 185.33 L221.04 185.33 L221.04 186.38 L221.98 186.38 L221.98 186.82 L222.92 186.82 L222.92 187.26 L223.86 187.26 L223.86 187.7 L224.8 187.7 L224.8 188.66 L225.74 188.66 L225.74 189.62 L226.68 189.62 L226.68 190.58 L227.81 190.58 L227.81 192.42 L228.94 192.42 L228.94 194.26 L230.06 194.26 L230.06 196.1 L231.13 196.1 L231.13 198.06 L232.19 198.06 L232.19 200.02 L233.26 200.02 L233.26 201.98 L234.39 201.98 L234.39 203.12 L235.52 203.12 L235.52 204.26 L236.64 204.26 L236.64 205.4 L237.77 205.4 L237.77 206.54 L238.52 206.54 L238.52 208.06 L239.28 208.06 L239.28 209.58 L240.03 209.58 L240.03 211.1 L241.16 211.1 L241.16 214.1 L242.28 214.1 L242.28 217.1 L243.41 217.1 L243.41 218.42 L244.54 218.42 L244.54 219.74 L245.67 219.74 L245.67 221.06 L246.8 221.06 L246.8 222.38 L247.8 222.38 L247.8 223.62 L248.8 223.62 L248.8 224.86 L249.8 224.86 L249.8 226.1 L275.75 226.1 L275.75 233.66 L278 233.66 L278 248.06 L300 248.06" fill="none" stroke="#4DBBD5" stroke-width="0.9" stroke-linejoin="miter"/><path d="M217.28 168.82 V173.22 M215.68 171.02 H218.88" stroke="#4DBBD5" stroke-width="0.6"/><path d="M222.92 184.18 V188.58 M221.32 186.38 H224.52" stroke="#4DBBD5" stroke-width="0.6"/><path d="M226.68 188.38 V192.78 M225.08 190.58 H228.28" stroke="#4DBBD5" stroke-width="0.6"/><path d="M230.44 193.9 V198.3 M228.84 196.1 H232.04" stroke="#4DBBD5" stroke-width="0.6"/><path d="M234.2 199.78 V204.18 M232.6 201.98 H235.8" stroke="#4DBBD5" stroke-width="0.6"/><path d="M243.6 214.9 V219.3 M242 217.1 H245.2" stroke="#4DBBD5" stroke-width="0.6"/><path d="M256.76 223.9 V228.3 M255.16 226.1 H258.36" stroke="#4DBBD5" stroke-width="0.6"/><path d="M288.72 245.86 V250.26 M287.12 248.06 H290.32" stroke="#4DBBD5" stroke-width="0.6"/><path d="M296.24 245.86 V250.26 M294.64 248.06 H297.84" stroke="#4DBBD5" stroke-width="0.6"/><path d="M298.12 245.86 V250.26 M296.52 248.06 H299.72" stroke="#4DBBD5" stroke-width="0.6"/><path d="M206 151.1 L206.99 151.1 L206.99 151.4 L207.97 151.4 L207.97 151.7 L208.96 151.7 L208.96 152 L209.95 152 L209.95 152.3 L210.89 152.3 L210.89 153.9 L211.83 153.9 L211.83 155.5 L212.77 155.5 L212.77 157.1 L213.71 157.1 L213.71 157.82 L214.65 157.82 L214.65 158.54 L215.59 158.54 L215.59 159.26 L216.47 159.26 L216.47 159.7 L217.34 159.7 L217.34 160.14 L218.22 160.14 L218.22 160.58 L219.35 160.58 L219.35 160.87 L220.48 160.87 L220.48 161.16 L221.6 161.16 L221.6 161.44 L222.73 161.44 L222.73 161.73 L223.86 161.73 L223.86 162.02 L224.52 162.02 L224.52 165.14 L225.18 165.14 L225.18 168.26 L226.3 168.26 L226.3 170 L227.43 170 L227.43 171.74 L228.28 171.74 L228.28 172.61 L229.12 172.61 L229.12 173.48 L229.97 173.48 L229.97 174.35 L230.82 174.35 L230.82 175.22 L231.85 175.22 L231.85 175.94 L232.88 175.94 L232.88 176.66 L233.92 176.66 L233.92 180.14 L234.95 180.14 L234.95 183.62 L235.7 183.62 L235.7 185.36 L236.46 185.36 L236.46 187.1 L237.45 187.1 L237.45 187.1 L238.44 187.1 L238.44 187.1 L239.44 187.1 L239.44 187.1 L240.43 187.1 L240.43 187.1 L241.42 187.1 L241.42 187.1 L242.42 187.1 L242.42 187.1 L243.41 187.1 L243.41 187.1 L243.98 187.1 L243.98 191.9 L244.73 191.9 L244.73 194.72 L245.48 194.72 L245.48 197.54 L254.5 197.54 L254.5 197.54 L255.82 197.54 L255.82 206.54 L256.57 206.54 L256.57 211.1 L270.48 211.1 L270.48 217.1 L280.26 217.1 L280.26 225.38 L287.78 225.38 L287.78 234.5 L297.74 234.5 L297.74 246.5 L335.34 246.5 L335.34 271.1 L335.34 271.1" fill="none" stroke="#E64B35" stroke-width="0.9" stroke-linejoin="miter"/><path d="M215.4 154.9 V159.3 M213.8 157.1 H217" stroke="#E64B35" stroke-width="0.6"/><path d="M219.16 158.38 V162.78 M217.56 160.58 H220.76" stroke="#E64B35" stroke-width="0.6"/><path d="M222.92 158.38 V162.78 M221.32 160.58 H224.52" stroke="#E64B35" stroke-width="0.6"/><path d="M228.56 169.54 V173.94 M226.96 171.74 H230.16" stroke="#E64B35" stroke-width="0.6"/><path d="M234.2 174.46 V178.86 M232.6 176.66 H235.8" stroke="#E64B35" stroke-width="0.6"/><path d="M256.76 208.9 V213.3 M255.16 211.1 H258.36" stroke="#E64B35" stroke-width="0.6"/><path d="M258.64 208.9 V213.3 M257.04 211.1 H260.24" stroke="#E64B35" stroke-width="0.6"/><path d="M269.92 208.9 V213.3 M268.32 211.1 H271.52" stroke="#E64B35" stroke-width="0.6"/><path d="M283.08 223.18 V227.58 M281.48 225.38 H284.68" stroke="#E64B35" stroke-width="0.6"/><path d="M311.28 244.3 V248.7 M309.68 246.5 H312.88" stroke="#E64B35" stroke-width="0.6"/><rect x="203" y="147.6" width="135.5" height="118.3" fill="none" stroke="#333" stroke-width="1.2"/><line x1="200.4" y1="241.1" x2="203" y2="241.1" stroke="#333" stroke-width="1"/><text x="198" y="243.4" font-size="7" fill="#333" text-anchor="end">0.25</text><line x1="200.4" y1="211.1" x2="203" y2="211.1" stroke="#333" stroke-width="1"/><text x="198" y="213.4" font-size="7" fill="#333" text-anchor="end">0.50</text><line x1="200.4" y1="181.1" x2="203" y2="181.1" stroke="#333" stroke-width="1"/><text x="198" y="183.4" font-size="7" fill="#333" text-anchor="end">0.75</text><line x1="200.4" y1="151.1" x2="203" y2="151.1" stroke="#333" stroke-width="1"/><text x="198" y="153.4" font-size="7" fill="#333" text-anchor="end">1.00</text><line x1="206" y1="265.9" x2="206" y2="268.5" stroke="#333" stroke-width="1"/><text x="206" y="276.5" font-size="7" fill="#333" text-anchor="middle">0</text><line x1="243.6" y1="265.9" x2="243.6" y2="268.5" stroke="#333" stroke-width="1"/><text x="243.6" y="276.5" font-size="7" fill="#333" text-anchor="middle">2</text><line x1="281.2" y1="265.9" x2="281.2" y2="268.5" stroke="#333" stroke-width="1"/><text x="281.2" y="276.5" font-size="7" fill="#333" text-anchor="middle">4</text><line x1="318.8" y1="265.9" x2="318.8" y2="268.5" stroke="#333" stroke-width="1"/><text x="318.8" y="276.5" font-size="7" fill="#333" text-anchor="middle">6</text><text x="270.75" y="285.9" font-size="8" fill="#000" text-anchor="middle">Time (years)</text><text transform="translate(181.2 205.75) rotate(-90)" font-size="8.15" fill="#111" text-anchor="middle">Survival probability</text><text x="174.8" y="150.7" font-size="12.5" font-weight="bold" fill="#000">F</text><text x="301.3" y="154.2" font-size="7" fill="#000">LINC02084</text><line x1="301.5" y1="160.8" x2="306.9" y2="160.8" stroke="#4DBBD5" stroke-width="1.1"/><text x="310.9" y="162.9" font-size="7" fill="#000">Low</text><line x1="301.5" y1="167.8" x2="306.9" y2="167.8" stroke="#E64B35" stroke-width="1.1"/><text x="310.9" y="170.5" font-size="7" fill="#000">High</text><text x="205.8" y="244.6" font-size="7.2" fill="#111" letter-spacing="0.12" xml:space="preserve">Overall Survival</text><text x="205.8" y="252.5" font-size="7.2" fill="#111" letter-spacing="0.08" xml:space="preserve">HR = 0.55  (0.34 − 0.91)</text><text x="205.8" y="260.9" font-size="7.2" fill="#111" letter-spacing="0.08" xml:space="preserve"><tspan font-style="italic">P</tspan> = 0.019</text></g>
<g><defs><clipPath id="cG"><rect x="375.4" y="147.6" width="135.5" height="118.3"/></clipPath></defs><g clip-path="url(#cG)"><line x1="378.1" y1="147.6" x2="378.1" y2="265.9" stroke="#E4E4E4" stroke-width="1.1"/><line x1="396.9" y1="147.6" x2="396.9" y2="265.9" stroke="#E4E4E4" stroke-width="0.7"/><line x1="415.7" y1="147.6" x2="415.7" y2="265.9" stroke="#E4E4E4" stroke-width="1.1"/><line x1="434.5" y1="147.6" x2="434.5" y2="265.9" stroke="#E4E4E4" stroke-width="0.7"/><line x1="453.3" y1="147.6" x2="453.3" y2="265.9" stroke="#E4E4E4" stroke-width="1.1"/><line x1="472.1" y1="147.6" x2="472.1" y2="265.9" stroke="#E4E4E4" stroke-width="0.7"/><line x1="490.9" y1="147.6" x2="490.9" y2="265.9" stroke="#E4E4E4" stroke-width="1.1"/><line x1="509.7" y1="147.6" x2="509.7" y2="265.9" stroke="#E4E4E4" stroke-width="0.7"/><line x1="375.4" y1="251.55" x2="510.9" y2="251.55" stroke="#E4E4E4" stroke-width="0.7"/><line x1="375.4" y1="237.2" x2="510.9" y2="237.2" stroke="#E4E4E4" stroke-width="1.1"/><line x1="375.4" y1="222.85" x2="510.9" y2="222.85" stroke="#E4E4E4" stroke-width="0.7"/><line x1="375.4" y1="208.5" x2="510.9" y2="208.5" stroke="#E4E4E4" stroke-width="1.1"/><line x1="375.4" y1="194.15" x2="510.9" y2="194.15" stroke="#E4E4E4" stroke-width="0.7"/><line x1="375.4" y1="179.8" x2="510.9" y2="179.8" stroke="#E4E4E4" stroke-width="1.1"/><line x1="375.4" y1="165.45" x2="510.9" y2="165.45" stroke="#E4E4E4" stroke-width="0.7"/><line x1="375.4" y1="151.1" x2="510.9" y2="151.1" stroke="#E4E4E4" stroke-width="1.1"/><path d="M378.4 151.1 L379.47 151.1 L379.47 151.41 L380.53 151.41 L380.53 151.71 L381.6 151.71 L381.6 152.02 L382.66 152.02 L382.66 152.32 L383.73 152.32 L383.73 152.63 L384.79 152.63 L384.79 152.94 L385.83 152.94 L385.83 153.28 L386.86 153.28 L386.86 153.63 L387.89 153.63 L387.89 153.97 L388.93 153.97 L388.93 154.31 L389.96 154.31 L389.96 154.66 L391 154.66 L391 155 L392.03 155 L392.03 155.35 L393.06 155.35 L393.06 155.69 L394.06 155.69 L394.06 156.3 L395.05 156.3 L395.05 156.91 L396.05 156.91 L396.05 157.51 L397.04 157.51 L397.04 158.12 L398.03 158.12 L398.03 158.73 L399.03 158.73 L399.03 159.33 L400.02 159.33 L400.02 159.94 L401.01 159.94 L401.01 160.53 L402.01 160.53 L402.01 161.12 L403 161.12 L403 161.71 L403.99 161.71 L403.99 162.3 L404.99 162.3 L404.99 162.89 L405.98 162.89 L405.98 163.48 L406.98 163.48 L406.98 164.07 L408.03 164.07 L408.03 164.78 L409.09 164.78 L409.09 165.48 L410.15 165.48 L410.15 166.18 L411.21 166.18 L411.21 166.88 L412.26 166.88 L412.26 167.59 L413.32 167.59 L413.32 168.29 L414.38 168.29 L414.38 168.99 L415.44 168.99 L415.44 169.7 L416.53 169.7 L416.53 170.8 L417.62 170.8 L417.62 171.9 L418.71 171.9 L418.71 173 L419.8 173 L419.8 174.11 L420.89 174.11 L420.89 175.21 L421.83 175.21 L421.83 175.92 L422.77 175.92 L422.77 176.62 L423.71 176.62 L423.71 177.33 L424.65 177.33 L424.65 178.04 L425.59 178.04 L425.59 178.75 L426.53 178.75 L426.53 179.46 L450.03 179.46 L450.03 185.65 L453.6 185.65 L453.6 190.59 L484.24 190.59 L484.81 245.81 L453.04 245.81 L453.04 229.16 L450.03 229.16 L450.03 217.45 L442.51 217.45 L442.51 216.42 L426.72 216.42 L426.72 205.97 L418.07 205.97 L418.07 198.86 L415.44 198.86 L415.44 196.76 L414.35 196.76 L414.35 194.67 L413.27 194.67 L413.27 192.57 L412.19 192.57 L412.19 190.48 L411.11 190.48 L411.11 188.41 L410.08 188.41 L410.08 186.34 L409.04 186.34 L409.04 184.28 L408.01 184.28 L408.01 182.21 L406.98 182.21 L406.98 181.51 L405.94 181.51 L405.94 180.8 L404.91 180.8 L404.91 180.1 L403.87 180.1 L403.87 179.4 L402.84 179.4 L402.84 178.7 L401.81 178.7 L401.81 177.99 L400.77 177.99 L400.77 177.29 L399.74 177.29 L399.74 176.59 L398.7 176.59 L398.7 175.19 L397.71 175.19 L397.71 173.8 L396.72 173.8 L396.72 172.4 L395.72 172.4 L395.72 171.01 L394.73 171.01 L394.73 169.62 L393.74 169.62 L393.74 168.22 L392.74 168.22 L392.74 166.83 L391.75 166.83 L391.75 166.14 L390.69 166.14 L390.69 165.45 L389.63 165.45 L389.63 164.76 L388.58 164.76 L388.58 164.07 L387.52 164.07 L387.52 163.38 L386.46 163.38 L386.46 162.69 L385.4 162.69 L385.4 162.01 L384.35 162.01 L384.35 161.32 L383.29 161.32 L383.29 159.27 L382.31 159.27 L382.31 157.23 L381.33 157.23 L381.33 155.19 L380.36 155.19 L380.36 153.14 L379.38 153.14 L379.38 151.1 L378.4 151.1Z" fill="#4DBBD5" fill-opacity="0.21" stroke="none"/><path d="M378.4 151.1 L379.53 151.1 L379.53 151.33 L380.66 151.33 L380.66 151.56 L381.78 151.56 L381.78 151.79 L382.91 151.79 L382.91 152.02 L384.04 152.02 L384.04 152.25 L384.98 152.25 L384.98 153.97 L385.92 153.97 L385.92 155.69 L386.86 155.69 L386.86 157.41 L387.8 157.41 L387.8 159.14 L388.79 159.14 L388.79 160.86 L389.77 160.86 L389.77 162.58 L390.76 162.58 L390.76 164.3 L391.75 164.3 L391.75 166.02 L392.74 166.02 L392.74 167.01 L393.74 167.01 L393.74 167.99 L394.73 167.99 L394.73 168.98 L395.72 168.98 L395.72 169.96 L396.72 169.96 L396.72 170.94 L397.71 170.94 L397.71 171.93 L398.7 171.93 L398.7 172.91 L399.83 172.91 L399.83 174.23 L400.96 174.23 L400.96 175.55 L402.09 175.55 L402.09 176.87 L403.22 176.87 L403.22 178.19 L404.16 178.19 L404.16 179.46 L405.1 179.46 L405.1 180.72 L406.04 180.72 L406.04 181.98 L406.98 181.98 L406.98 183.24 L407.92 183.24 L407.92 184.2 L408.86 184.2 L408.86 185.16 L409.8 185.16 L409.8 186.11 L410.74 186.11 L410.74 187.07 L411.68 187.07 L411.68 188.03 L412.62 188.03 L412.62 188.98 L413.65 188.98 L413.65 190.42 L414.68 190.42 L414.68 191.85 L415.72 191.85 L415.72 193.29 L416.75 193.29 L416.75 194.72 L417.83 194.72 L417.83 195.38 L418.9 195.38 L418.9 196.04 L419.97 196.04 L419.97 196.69 L421.05 196.69 L421.05 197.35 L422.12 197.35 L422.12 198 L423.2 198 L423.2 198.66 L424.27 198.66 L424.27 199.32 L442.51 199.32 L442.51 209.53 L448.52 209.53 L448.52 216.31 L459.8 216.31 L459.8 221.59 L469.77 221.59 L469.77 226.18 L508.12 226.18 L508.12 262.34 L469.77 262.34 L469.77 258.55 L460.56 258.55 L460.56 249.83 L450.03 249.83 L450.03 244.2 L429.35 244.2 L429.35 236.74 L418.82 236.74 L418.82 234.71 L417.82 234.71 L417.82 232.68 L416.81 232.68 L416.81 230.66 L415.81 230.66 L415.81 229.14 L414.78 229.14 L414.78 227.63 L413.74 227.63 L413.74 226.12 L412.71 226.12 L412.71 224.61 L411.68 224.61 L411.68 223.1 L410.64 223.1 L410.64 221.59 L409.61 221.59 L409.61 218.95 L408.48 218.95 L408.48 216.31 L407.35 216.31 L407.35 213.67 L406.22 213.67 L406.22 211.03 L405.1 211.03 L405.1 209.76 L404.2 209.76 L404.2 208.5 L403.31 208.5 L403.31 207.24 L402.42 207.24 L402.42 205.97 L401.52 205.97 L401.52 203.1 L400.4 203.1 L400.4 200.23 L399.27 200.23 L399.27 198.51 L398.42 198.51 L398.42 196.79 L397.58 196.79 L397.58 195.07 L396.73 195.07 L396.73 193.35 L395.88 193.35 L395.88 191.47 L394.94 191.47 L394.94 189.6 L394 189.6 L394 187.72 L393.06 187.72 L393.06 186 L392.03 186 L392.03 184.28 L391 184.28 L391 182.56 L389.96 182.56 L389.96 180.83 L388.93 180.83 L388.93 176.16 L387.99 176.16 L387.99 171.5 L387.05 171.5 L387.05 166.83 L386.11 166.83 L386.11 164.58 L385.01 164.58 L385.01 162.33 L383.91 162.33 L383.91 160.09 L382.8 160.09 L382.8 157.84 L381.7 157.84 L381.7 155.59 L380.6 155.59 L380.6 153.35 L379.5 153.35 L379.5 151.1 L378.4 151.1Z" fill="#E64B35" fill-opacity="0.21" stroke="none"/></g><path d="M378.4 151.1 L379.29 151.1 L379.29 151.56 L380.19 151.56 L380.19 152.02 L381.08 152.02 L381.08 152.48 L381.97 152.48 L381.97 152.94 L383.01 152.94 L383.01 154.69 L384.04 154.69 L384.04 156.44 L385.07 156.44 L385.07 158.19 L386.11 158.19 L386.11 159.94 L387.1 159.94 L387.1 160.33 L388.1 160.33 L388.1 160.73 L389.09 160.73 L389.09 161.12 L390.08 161.12 L390.08 161.51 L391.08 161.51 L391.08 161.91 L392.07 161.91 L392.07 162.3 L393.06 162.3 L393.06 162.69 L394.1 162.69 L394.1 163.38 L395.13 163.38 L395.13 164.07 L396.17 164.07 L396.17 164.76 L397.2 164.76 L397.2 165.45 L397.95 165.45 L397.95 171.08 L398.93 171.08 L398.93 171.63 L399.91 171.63 L399.91 172.18 L400.88 172.18 L400.88 172.73 L401.86 172.73 L401.86 173.28 L402.84 173.28 L402.84 173.83 L403.78 173.83 L403.78 174.29 L404.72 174.29 L404.72 174.75 L405.66 174.75 L405.66 175.21 L406.6 175.21 L406.6 175.67 L407.54 175.67 L407.54 176.13 L408.48 176.13 L408.48 176.59 L409.51 176.59 L409.51 177.65 L410.55 177.65 L410.55 178.71 L411.58 178.71 L411.58 179.77 L412.62 179.77 L412.62 180.83 L413.56 180.83 L413.56 183.13 L414.5 183.13 L414.5 185.43 L415.44 185.43 L415.44 187.72 L416.47 187.72 L416.47 188.78 L417.5 188.78 L417.5 189.84 L418.54 189.84 L418.54 190.91 L419.57 190.91 L419.57 191.97 L420.61 191.97 L420.61 192.83 L421.64 192.83 L421.64 193.69 L422.67 193.69 L422.67 194.55 L423.71 194.55 L423.71 195.41 L424.6 195.41 L424.6 196.27 L425.49 196.27 L425.49 197.13 L426.39 197.13 L426.39 198 L427.28 198 L427.28 198.86 L428.41 198.86 L428.41 199.32 L429.54 199.32 L429.54 199.78 L430.66 199.78 L430.66 200.23 L443.26 200.23 L443.26 208.84 L451.53 208.84 L451.53 216.31 L453.04 216.31 L453.04 226.18 L484.81 226.18" fill="none" stroke="#4DBBD5" stroke-width="0.9" stroke-linejoin="miter"/><path d="M385.92 150.74 V155.14 M384.32 152.94 H387.52" stroke="#4DBBD5" stroke-width="0.6"/><path d="M389.68 157.74 V162.14 M388.08 159.94 H391.28" stroke="#4DBBD5" stroke-width="0.6"/><path d="M391.56 157.74 V162.14 M389.96 159.94 H393.16" stroke="#4DBBD5" stroke-width="0.6"/><path d="M397.2 163.25 V167.65 M395.6 165.45 H398.8" stroke="#4DBBD5" stroke-width="0.6"/><path d="M400.96 168.88 V173.28 M399.36 171.08 H402.56" stroke="#4DBBD5" stroke-width="0.6"/><path d="M402.84 171.63 V176.03 M401.24 173.83 H404.44" stroke="#4DBBD5" stroke-width="0.6"/><path d="M406.6 171.63 V176.03 M405 173.83 H408.2" stroke="#4DBBD5" stroke-width="0.6"/><path d="M423.52 189.77 V194.17 M421.92 191.97 H425.12" stroke="#4DBBD5" stroke-width="0.6"/><path d="M427.28 196.66 V201.06 M425.68 198.86 H428.88" stroke="#4DBBD5" stroke-width="0.6"/><path d="M431.04 198.03 V202.43 M429.44 200.23 H432.64" stroke="#4DBBD5" stroke-width="0.6"/><path d="M457.36 223.98 V228.38 M455.76 226.18 H458.96" stroke="#4DBBD5" stroke-width="0.6"/><path d="M464.88 223.98 V228.38 M463.28 226.18 H466.48" stroke="#4DBBD5" stroke-width="0.6"/><path d="M474.28 223.98 V228.38 M472.68 226.18 H475.88" stroke="#4DBBD5" stroke-width="0.6"/><path d="M378.4 151.1 L379.29 151.1 L379.29 151.1 L380.19 151.1 L380.19 151.1 L381.08 151.1 L381.08 151.1 L381.97 151.1 L381.97 151.1 L382.63 151.1 L382.63 153.4 L383.29 153.4 L383.29 155.69 L384.32 155.69 L384.32 158.85 L385.36 158.85 L385.36 162.01 L386.3 162.01 L386.3 163.61 L387.24 163.61 L387.24 165.22 L388.18 165.22 L388.18 166.83 L388.93 166.83 L388.93 170.33 L389.68 170.33 L389.68 173.83 L390.71 173.83 L390.71 177.33 L391.75 177.33 L391.75 180.83 L392.69 180.83 L392.69 181.75 L393.63 181.75 L393.63 182.67 L394.57 182.67 L394.57 183.59 L395.41 183.59 L395.41 183.93 L396.26 183.93 L396.26 184.28 L397.11 184.28 L397.11 184.62 L397.95 184.62 L397.95 184.97 L398.99 184.97 L398.99 187.72 L400.02 187.72 L400.02 190.48 L400.96 190.48 L400.96 192.35 L401.9 192.35 L401.9 194.23 L402.84 194.23 L402.84 196.1 L403.87 196.1 L403.87 198.17 L404.91 198.17 L404.91 200.23 L405.72 200.23 L405.72 202.84 L406.54 202.84 L406.54 205.44 L407.35 205.44 L407.35 208.04 L408.48 208.04 L408.48 210.28 L409.61 210.28 L409.61 212.52 L410.67 212.52 L410.67 213.78 L411.74 213.78 L411.74 215.04 L412.8 215.04 L412.8 216.31 L413.74 216.31 L413.74 217.25 L414.68 217.25 L414.68 218.2 L415.62 218.2 L415.62 219.15 L416.56 219.15 L416.56 220.09 L417.32 220.09 L417.32 221.36 L418.07 221.36 L418.07 222.62 L418.82 222.62 L418.82 223.88 L428.6 223.88 L428.6 230.66 L448.52 230.66 L448.52 236.74 L450.03 236.74 L450.03 241.22 L460.56 241.22 L460.56 247.3 L469.77 247.3 L469.77 254.08 L508.12 254.08 L508.12 265.9 L508.12 265.9" fill="none" stroke="#E64B35" stroke-width="0.9" stroke-linejoin="miter"/><path d="M395.32 181.39 V185.79 M393.72 183.59 H396.92" stroke="#E64B35" stroke-width="0.6"/><path d="M397.2 181.39 V185.79 M395.6 183.59 H398.8" stroke="#E64B35" stroke-width="0.6"/><path d="M416 214.11 V218.51 M414.4 216.31 H417.6" stroke="#E64B35" stroke-width="0.6"/><path d="M438.56 228.46 V232.86 M436.96 230.66 H440.16" stroke="#E64B35" stroke-width="0.6"/><path d="M470.52 251.88 V256.28 M468.92 254.08 H472.12" stroke="#E64B35" stroke-width="0.6"/><rect x="375.4" y="147.6" width="135.5" height="118.3" fill="none" stroke="#333" stroke-width="1.2"/><line x1="372.8" y1="237.2" x2="375.4" y2="237.2" stroke="#333" stroke-width="1"/><text x="370.4" y="239.5" font-size="7" fill="#333" text-anchor="end">0.25</text><line x1="372.8" y1="208.5" x2="375.4" y2="208.5" stroke="#333" stroke-width="1"/><text x="370.4" y="210.8" font-size="7" fill="#333" text-anchor="end">0.50</text><line x1="372.8" y1="179.8" x2="375.4" y2="179.8" stroke="#333" stroke-width="1"/><text x="370.4" y="182.1" font-size="7" fill="#333" text-anchor="end">0.75</text><line x1="372.8" y1="151.1" x2="375.4" y2="151.1" stroke="#333" stroke-width="1"/><text x="370.4" y="153.4" font-size="7" fill="#333" text-anchor="end">1.00</text><line x1="378.4" y1="265.9" x2="378.4" y2="268.5" stroke="#333" stroke-width="1"/><text x="378.4" y="276.5" font-size="7" fill="#333" text-anchor="middle">0</text><line x1="416" y1="265.9" x2="416" y2="268.5" stroke="#333" stroke-width="1"/><text x="416" y="276.5" font-size="7" fill="#333" text-anchor="middle">2</text><line x1="453.6" y1="265.9" x2="453.6" y2="268.5" stroke="#333" stroke-width="1"/><text x="453.6" y="276.5" font-size="7" fill="#333" text-anchor="middle">4</text><line x1="491.2" y1="265.9" x2="491.2" y2="268.5" stroke="#333" stroke-width="1"/><text x="491.2" y="276.5" font-size="7" fill="#333" text-anchor="middle">6</text><text x="443.15" y="285.9" font-size="8" fill="#000" text-anchor="middle">Time (years)</text><text transform="translate(353.6 205.75) rotate(-90)" font-size="8.15" fill="#111" text-anchor="middle">Survival probability</text><text x="345.4" y="150.7" font-size="12.5" font-weight="bold" fill="#000">G</text><text x="473.7" y="154.2" font-size="7" fill="#000">MIR9−1HG</text><line x1="473.9" y1="160.8" x2="479.3" y2="160.8" stroke="#4DBBD5" stroke-width="1.1"/><text x="483.3" y="162.9" font-size="7" fill="#000">Low</text><line x1="473.9" y1="167.8" x2="479.3" y2="167.8" stroke="#E64B35" stroke-width="1.1"/><text x="483.3" y="170.5" font-size="7" fill="#000">High</text><text x="378.2" y="244.6" font-size="7.2" fill="#111" letter-spacing="0.12" xml:space="preserve">Overall Survival</text><text x="378.2" y="252.5" font-size="7.2" fill="#111" letter-spacing="0.08" xml:space="preserve">HR = 2.08  (1.26 − 3.45)</text><text x="378.2" y="260.9" font-size="7.2" fill="#111" letter-spacing="0.08" xml:space="preserve"><tspan font-style="italic">P</tspan> = 0.004</text></g>
<g><defs><clipPath id="cH"><rect x="547.7" y="147.6" width="135.5" height="118.3"/></clipPath></defs><g clip-path="url(#cH)"><line x1="550.4" y1="147.6" x2="550.4" y2="265.9" stroke="#E4E4E4" stroke-width="1.1"/><line x1="569.2" y1="147.6" x2="569.2" y2="265.9" stroke="#E4E4E4" stroke-width="0.7"/><line x1="588" y1="147.6" x2="588" y2="265.9" stroke="#E4E4E4" stroke-width="1.1"/><line x1="606.8" y1="147.6" x2="606.8" y2="265.9" stroke="#E4E4E4" stroke-width="0.7"/><line x1="625.6" y1="147.6" x2="625.6" y2="265.9" stroke="#E4E4E4" stroke-width="1.1"/><line x1="644.4" y1="147.6" x2="644.4" y2="265.9" stroke="#E4E4E4" stroke-width="0.7"/><line x1="663.2" y1="147.6" x2="663.2" y2="265.9" stroke="#E4E4E4" stroke-width="1.1"/><line x1="682" y1="147.6" x2="682" y2="265.9" stroke="#E4E4E4" stroke-width="0.7"/><line x1="547.7" y1="263.6" x2="683.2" y2="263.6" stroke="#E4E4E4" stroke-width="1.1"/><line x1="547.7" y1="249.54" x2="683.2" y2="249.54" stroke="#E4E4E4" stroke-width="0.7"/><line x1="547.7" y1="235.47" x2="683.2" y2="235.47" stroke="#E4E4E4" stroke-width="1.1"/><line x1="547.7" y1="221.41" x2="683.2" y2="221.41" stroke="#E4E4E4" stroke-width="0.7"/><line x1="547.7" y1="207.35" x2="683.2" y2="207.35" stroke="#E4E4E4" stroke-width="1.1"/><line x1="547.7" y1="193.29" x2="683.2" y2="193.29" stroke="#E4E4E4" stroke-width="0.7"/><line x1="547.7" y1="179.22" x2="683.2" y2="179.22" stroke="#E4E4E4" stroke-width="1.1"/><line x1="547.7" y1="165.16" x2="683.2" y2="165.16" stroke="#E4E4E4" stroke-width="0.7"/><line x1="547.7" y1="151.1" x2="683.2" y2="151.1" stroke="#E4E4E4" stroke-width="1.1"/><path d="M550.7 151.1 L551.64 151.1 L551.64 151.19 L552.58 151.19 L552.58 151.28 L553.52 151.28 L553.52 151.37 L554.46 151.37 L554.46 151.46 L555.4 151.46 L555.4 151.55 L556.49 151.55 L556.49 152.11 L557.58 152.11 L557.58 152.67 L558.67 152.67 L558.67 153.24 L559.76 153.24 L559.76 153.8 L560.85 153.8 L560.85 154.36 L561.91 154.36 L561.91 154.88 L562.97 154.88 L562.97 155.4 L564.02 155.4 L564.02 155.92 L565.08 155.92 L565.08 156.44 L566.14 156.44 L566.14 156.96 L567.2 156.96 L567.2 157.48 L568.25 157.48 L568.25 158 L569.31 158 L569.31 158.52 L570.35 158.52 L570.35 159.21 L571.38 159.21 L571.38 159.9 L572.41 159.9 L572.41 160.59 L573.45 160.59 L573.45 161.28 L574.48 161.28 L574.48 161.97 L575.52 161.97 L575.52 162.66 L576.55 162.66 L576.55 163.35 L577.58 163.35 L577.58 164.04 L578.64 164.04 L578.64 164.74 L579.7 164.74 L579.7 165.44 L580.76 165.44 L580.76 166.15 L581.81 166.15 L581.81 166.85 L582.87 166.85 L582.87 167.55 L583.93 167.55 L583.93 168.26 L584.99 168.26 L584.99 168.96 L586.04 168.96 L586.04 169.66 L587.13 169.66 L587.13 170.76 L588.22 170.76 L588.22 171.87 L589.32 171.87 L589.32 172.97 L590.41 172.97 L590.41 174.07 L591.5 174.07 L591.5 175.17 L592.44 175.17 L592.44 176.6 L593.38 176.6 L593.38 178.02 L594.32 178.02 L594.32 179.45 L615.75 179.45 L615.75 181.47 L622.7 181.47 L622.7 189.12 L680.61 189.12 L680.23 233.68 L620.64 233.68 L620.64 214.1 L601.27 214.1 L601.27 206 L593 206 L593 204.54 L592.06 204.54 L592.06 203.07 L591.12 203.07 L591.12 201.61 L590.18 201.61 L590.18 200.23 L589.15 200.23 L589.15 198.86 L588.11 198.86 L588.11 197.48 L587.08 197.48 L587.08 196.1 L586.04 196.1 L586.04 194.44 L584.92 194.44 L584.92 192.77 L583.79 192.77 L583.79 191.1 L582.66 191.1 L582.66 189.44 L581.53 189.44 L581.53 187.77 L580.4 187.77 L580.4 186.39 L579.46 186.39 L579.46 185 L578.52 185 L578.52 183.61 L577.58 183.61 L577.58 182.22 L576.64 182.22 L576.64 180.84 L575.7 180.84 L575.7 179.45 L574.76 179.45 L574.76 178.84 L573.77 178.84 L573.77 178.23 L572.78 178.23 L572.78 177.62 L571.78 177.62 L571.78 177.01 L570.79 177.01 L570.79 176.4 L569.8 176.4 L569.8 175.79 L568.8 175.79 L568.8 175.17 L567.81 175.17 L567.81 174.19 L566.81 174.19 L566.81 173.21 L565.82 173.21 L565.82 172.23 L564.83 172.23 L564.83 171.25 L563.83 171.25 L563.83 170.27 L562.84 170.27 L562.84 169.29 L561.85 169.29 L561.85 168.31 L560.85 168.31 L560.85 166.91 L559.86 166.91 L559.86 165.52 L558.86 165.52 L558.86 164.12 L557.87 164.12 L557.87 162.72 L556.88 162.72 L556.88 161.32 L555.88 161.32 L555.88 159.92 L554.89 159.92 L554.89 158.52 L553.9 158.52 L553.9 156.05 L552.83 156.05 L552.83 153.57 L551.77 153.57 L551.77 151.1 L550.7 151.1Z" fill="#4DBBD5" fill-opacity="0.21" stroke="none"/><path d="M550.7 151.1 L551.7 151.1 L551.7 151.64 L552.71 151.64 L552.71 152.19 L553.71 152.19 L553.71 152.73 L554.71 152.73 L554.71 153.28 L555.71 153.28 L555.71 153.82 L556.72 153.82 L556.72 154.36 L557.71 154.36 L557.71 155.74 L558.7 155.74 L558.7 157.13 L559.7 157.13 L559.7 158.51 L560.69 158.51 L560.69 159.89 L561.68 159.89 L561.68 161.27 L562.68 161.27 L562.68 162.66 L563.67 162.66 L563.67 164.04 L564.61 164.04 L564.61 164.97 L565.55 164.97 L565.55 165.91 L566.49 165.91 L566.49 166.85 L567.43 166.85 L567.43 167.79 L568.37 167.79 L568.37 168.72 L569.31 168.72 L569.31 169.66 L570.31 169.66 L570.31 170.85 L571.3 170.85 L571.3 172.04 L572.29 172.04 L572.29 173.23 L573.29 173.23 L573.29 174.42 L574.28 174.42 L574.28 175.61 L575.27 175.61 L575.27 176.8 L576.27 176.8 L576.27 177.99 L577.36 177.99 L577.36 179.38 L578.45 179.38 L578.45 180.78 L579.54 180.78 L579.54 182.17 L580.63 182.17 L580.63 183.57 L581.72 183.57 L581.72 184.96 L582.8 184.96 L582.8 186.71 L583.88 186.71 L583.88 188.45 L584.96 188.45 L584.96 190.19 L586.04 190.19 L586.04 191.94 L587.11 191.94 L587.11 195.27 L588.17 195.27 L588.17 198.61 L589.24 198.61 L589.24 201.95 L601.27 201.95 L601.27 208.02 L623.64 208.02 L623.64 212.53 L642.44 212.53 L642.44 261.57 L633.42 261.57 L633.42 257.86 L625.9 257.86 L625.9 241.21 L600.52 241.21 L600.52 232.21 L599.77 232.21 L599.77 229.17 L590.74 229.17 L590.74 227.66 L589.74 227.66 L589.74 226.14 L588.74 226.14 L588.74 224.62 L587.74 224.62 L587.74 223.1 L586.73 223.1 L586.73 221.58 L585.73 221.58 L585.73 220.06 L584.73 220.06 L584.73 218.57 L583.6 218.57 L583.6 217.08 L582.47 217.08 L582.47 215.59 L581.34 215.59 L581.34 214.1 L580.22 214.1 L580.22 212.94 L579.25 212.94 L579.25 211.79 L578.28 211.79 L578.28 210.63 L577.32 210.63 L577.32 209.47 L576.35 209.47 L576.35 208.31 L575.38 208.31 L575.38 207.16 L574.41 207.16 L574.41 206 L573.45 206 L573.45 203.15 L572.51 203.15 L572.51 200.3 L571.57 200.3 L571.57 197.45 L570.63 197.45 L570.63 195.73 L569.59 195.73 L569.59 194.02 L568.56 194.02 L568.56 192.3 L567.53 192.3 L567.53 190.59 L566.49 190.59 L566.49 189.52 L565.46 189.52 L565.46 188.45 L564.42 188.45 L564.42 187.38 L563.39 187.38 L563.39 186.31 L562.36 186.31 L562.36 183.53 L561.32 183.53 L561.32 180.74 L560.29 180.74 L560.29 177.96 L559.25 177.96 L559.25 175.17 L558.22 175.17 L558.22 170.56 L557.28 170.56 L557.28 165.95 L556.34 165.95 L556.34 161.34 L555.4 161.34 L555.4 159.29 L554.46 159.29 L554.46 157.24 L553.52 157.24 L553.52 155.19 L552.58 155.19 L552.58 153.15 L551.64 153.15 L551.64 151.1 L550.7 151.1Z" fill="#E64B35" fill-opacity="0.21" stroke="none"/></g><path d="M550.7 151.1 L551.58 151.1 L551.58 152.19 L552.45 152.19 L552.45 153.28 L553.33 153.28 L553.33 154.36 L554.31 154.36 L554.31 155.76 L555.29 155.76 L555.29 157.15 L556.26 157.15 L556.26 158.55 L557.24 158.55 L557.24 159.94 L558.22 159.94 L558.22 161.34 L559.25 161.34 L559.25 162.38 L560.29 162.38 L560.29 163.42 L561.32 163.42 L561.32 164.46 L562.36 164.46 L562.36 165.5 L563.45 165.5 L563.45 166.06 L564.54 166.06 L564.54 166.62 L565.63 166.62 L565.63 167.19 L566.72 167.19 L566.72 167.75 L567.81 167.75 L567.81 168.31 L568.94 168.31 L568.94 169.01 L570.06 169.01 L570.06 169.71 L571.19 169.71 L571.19 170.41 L572.32 170.41 L572.32 171.1 L573.45 171.1 L573.45 171.8 L574.48 171.8 L574.48 172.64 L575.52 172.64 L575.52 173.49 L576.55 173.49 L576.55 174.33 L577.58 174.33 L577.58 175.17 L578.52 175.17 L578.52 176.6 L579.46 176.6 L579.46 178.02 L580.4 178.02 L580.4 179.45 L581.34 179.45 L581.34 179.9 L582.28 179.9 L582.28 180.35 L583.22 180.35 L583.22 180.8 L584.16 180.8 L584.16 182.64 L585.1 182.64 L585.1 184.47 L586.04 184.47 L586.04 186.31 L586.92 186.31 L586.92 187.74 L587.8 187.74 L587.8 189.16 L588.68 189.16 L588.68 190.59 L589.62 190.59 L589.62 191.49 L590.56 191.49 L590.56 192.39 L591.5 192.39 L591.5 193.29 L592.39 193.29 L592.39 194.53 L593.28 194.53 L593.28 195.76 L594.18 195.76 L594.18 197 L595.07 197 L595.07 198.24 L615.94 198.24 L615.94 204.31 L620.64 204.31 L620.64 208.02 L622.14 208.02 L622.14 210.28 L622.89 210.28 L622.89 216.35 L680.23 216.35 L680.23 263.6 L680.23 263.6" fill="none" stroke="#4DBBD5" stroke-width="0.9" stroke-linejoin="miter"/><path d="M560.1 159.14 V163.54 M558.5 161.34 H561.7" stroke="#4DBBD5" stroke-width="0.6"/><path d="M565.74 163.3 V167.7 M564.14 165.5 H567.34" stroke="#4DBBD5" stroke-width="0.6"/><path d="M569.5 166.11 V170.51 M567.9 168.31 H571.1" stroke="#4DBBD5" stroke-width="0.6"/><path d="M575.14 169.6 V174 M573.54 171.8 H576.74" stroke="#4DBBD5" stroke-width="0.6"/><path d="M578.9 172.97 V177.37 M577.3 175.17 H580.5" stroke="#4DBBD5" stroke-width="0.6"/><path d="M595.82 196.04 V200.44 M594.22 198.24 H597.42" stroke="#4DBBD5" stroke-width="0.6"/><path d="M599.58 196.04 V200.44 M597.98 198.24 H601.18" stroke="#4DBBD5" stroke-width="0.6"/><path d="M603.34 196.04 V200.44 M601.74 198.24 H604.94" stroke="#4DBBD5" stroke-width="0.6"/><path d="M627.78 214.15 V218.55 M626.18 216.35 H629.38" stroke="#4DBBD5" stroke-width="0.6"/><path d="M629.66 214.15 V218.55 M628.06 216.35 H631.26" stroke="#4DBBD5" stroke-width="0.6"/><path d="M637.18 214.15 V218.55 M635.58 216.35 H638.78" stroke="#4DBBD5" stroke-width="0.6"/><path d="M655.98 214.15 V218.55 M654.38 216.35 H657.58" stroke="#4DBBD5" stroke-width="0.6"/><path d="M550.7 151.1 L551.64 151.1 L551.64 151.19 L552.58 151.19 L552.58 151.28 L553.52 151.28 L553.52 151.37 L554.46 151.37 L554.46 151.46 L555.4 151.46 L555.4 151.55 L556.06 151.55 L556.06 155.04 L556.72 155.04 L556.72 158.52 L557.66 158.52 L557.66 161.3 L558.6 161.3 L558.6 164.07 L559.54 164.07 L559.54 166.85 L560.48 166.85 L560.48 169.62 L561.42 169.62 L561.42 172.4 L562.36 172.4 L562.36 175.17 L563.3 175.17 L563.3 176.11 L564.24 176.11 L564.24 177.05 L565.18 177.05 L565.18 177.99 L566.21 177.99 L566.21 178.35 L567.24 178.35 L567.24 178.72 L568.28 178.72 L568.28 179.08 L569.31 179.08 L569.31 179.45 L570.25 179.45 L570.25 181.29 L571.19 181.29 L571.19 183.12 L572.13 183.12 L572.13 184.96 L573.01 184.96 L573.01 187.29 L573.89 187.29 L573.89 189.61 L574.76 189.61 L574.76 191.94 L575.7 191.94 L575.7 193.77 L576.64 193.77 L576.64 195.61 L577.58 195.61 L577.58 197.45 L578.52 197.45 L578.52 199.7 L579.46 199.7 L579.46 201.95 L580.59 201.95 L580.59 204.99 L581.72 204.99 L581.72 208.02 L582.66 208.02 L582.66 208.78 L583.6 208.78 L583.6 209.54 L584.54 209.54 L584.54 210.3 L585.48 210.3 L585.48 211.06 L586.61 211.06 L586.61 212.19 L587.74 212.19 L587.74 213.31 L588.86 213.31 L588.86 214.44 L589.99 214.44 L589.99 215.56 L590.74 215.56 L590.74 216.09 L591.5 216.09 L591.5 216.61 L592.25 216.61 L592.25 217.14 L600.52 217.14 L600.52 224.68 L602.02 224.68 L602.02 228.39 L622.89 228.39 L622.89 237.5 L625.15 237.5 L625.15 246.5 L632.67 246.5 L632.67 254.82 L642.44 254.82 L642.44 263.6 L642.44 263.6" fill="none" stroke="#E64B35" stroke-width="0.9" stroke-linejoin="miter"/><path d="M558.22 156.32 V160.72 M556.62 158.52 H559.82" stroke="#E64B35" stroke-width="0.6"/><path d="M569.5 177.25 V181.65 M567.9 179.45 H571.1" stroke="#E64B35" stroke-width="0.6"/><path d="M575.14 189.74 V194.14 M573.54 191.94 H576.74" stroke="#E64B35" stroke-width="0.6"/><path d="M580.78 199.75 V204.15 M579.18 201.95 H582.38" stroke="#E64B35" stroke-width="0.6"/><path d="M590.18 213.36 V217.76 M588.58 215.56 H591.78" stroke="#E64B35" stroke-width="0.6"/><path d="M601.46 222.48 V226.88 M599.86 224.68 H603.06" stroke="#E64B35" stroke-width="0.6"/><rect x="547.7" y="147.6" width="135.5" height="118.3" fill="none" stroke="#333" stroke-width="1.2"/><line x1="545.1" y1="263.6" x2="547.7" y2="263.6" stroke="#333" stroke-width="1"/><text x="542.7" y="265.9" font-size="7" fill="#333" text-anchor="end">0.00</text><line x1="545.1" y1="235.47" x2="547.7" y2="235.47" stroke="#333" stroke-width="1"/><text x="542.7" y="237.78" font-size="7" fill="#333" text-anchor="end">0.25</text><line x1="545.1" y1="207.35" x2="547.7" y2="207.35" stroke="#333" stroke-width="1"/><text x="542.7" y="209.65" font-size="7" fill="#333" text-anchor="end">0.50</text><line x1="545.1" y1="179.22" x2="547.7" y2="179.22" stroke="#333" stroke-width="1"/><text x="542.7" y="181.53" font-size="7" fill="#333" text-anchor="end">0.75</text><line x1="545.1" y1="151.1" x2="547.7" y2="151.1" stroke="#333" stroke-width="1"/><text x="542.7" y="153.4" font-size="7" fill="#333" text-anchor="end">1.00</text><line x1="550.7" y1="265.9" x2="550.7" y2="268.5" stroke="#333" stroke-width="1"/><text x="550.7" y="276.5" font-size="7" fill="#333" text-anchor="middle">0</text><line x1="588.3" y1="265.9" x2="588.3" y2="268.5" stroke="#333" stroke-width="1"/><text x="588.3" y="276.5" font-size="7" fill="#333" text-anchor="middle">2</text><line x1="625.9" y1="265.9" x2="625.9" y2="268.5" stroke="#333" stroke-width="1"/><text x="625.9" y="276.5" font-size="7" fill="#333" text-anchor="middle">4</text><line x1="663.5" y1="265.9" x2="663.5" y2="268.5" stroke="#333" stroke-width="1"/><text x="663.5" y="276.5" font-size="7" fill="#333" text-anchor="middle">6</text><text x="615.45" y="285.9" font-size="8" fill="#000" text-anchor="middle">Time (years)</text><text transform="translate(525.9 205.75) rotate(-90)" font-size="8.15" fill="#111" text-anchor="middle">Survival probability</text><text x="518.1" y="150.7" font-size="12.5" font-weight="bold" fill="#000">H</text><text x="640.9" y="154.2" font-size="7" fill="#000">NRSN2−AS1</text><line x1="641.1" y1="160.8" x2="646.5" y2="160.8" stroke="#4DBBD5" stroke-width="1.1"/><text x="650.5" y="162.9" font-size="7" fill="#000">Low</text><line x1="641.1" y1="167.8" x2="646.5" y2="167.8" stroke="#E64B35" stroke-width="1.1"/><text x="650.5" y="170.5" font-size="7" fill="#000">High</text><text x="550.5" y="244.6" font-size="7.2" fill="#111" letter-spacing="0.12" xml:space="preserve">Overall Survival</text><text x="550.5" y="252.5" font-size="7.2" fill="#111" letter-spacing="0.08" xml:space="preserve">HR = 2.16  (1.30 − 3.59)</text><text x="550.5" y="260.9" font-size="7.2" fill="#111" letter-spacing="0.08" xml:space="preserve"><tspan font-style="italic">P</tspan> = 0.003</text></g>
<g><defs><clipPath id="cI"><rect x="30.3" y="290.2" width="135.5" height="118.3"/></clipPath></defs><g clip-path="url(#cI)"><line x1="33" y1="290.2" x2="33" y2="408.5" stroke="#E4E4E4" stroke-width="1.1"/><line x1="51.8" y1="290.2" x2="51.8" y2="408.5" stroke="#E4E4E4" stroke-width="0.7"/><line x1="70.6" y1="290.2" x2="70.6" y2="408.5" stroke="#E4E4E4" stroke-width="1.1"/><line x1="89.4" y1="290.2" x2="89.4" y2="408.5" stroke="#E4E4E4" stroke-width="0.7"/><line x1="108.2" y1="290.2" x2="108.2" y2="408.5" stroke="#E4E4E4" stroke-width="1.1"/><line x1="127" y1="290.2" x2="127" y2="408.5" stroke="#E4E4E4" stroke-width="0.7"/><line x1="145.8" y1="290.2" x2="145.8" y2="408.5" stroke="#E4E4E4" stroke-width="1.1"/><line x1="164.6" y1="290.2" x2="164.6" y2="408.5" stroke="#E4E4E4" stroke-width="0.7"/><line x1="30.3" y1="406.2" x2="165.8" y2="406.2" stroke="#E4E4E4" stroke-width="1.1"/><line x1="30.3" y1="392.14" x2="165.8" y2="392.14" stroke="#E4E4E4" stroke-width="0.7"/><line x1="30.3" y1="378.07" x2="165.8" y2="378.07" stroke="#E4E4E4" stroke-width="1.1"/><line x1="30.3" y1="364.01" x2="165.8" y2="364.01" stroke="#E4E4E4" stroke-width="0.7"/><line x1="30.3" y1="349.95" x2="165.8" y2="349.95" stroke="#E4E4E4" stroke-width="1.1"/><line x1="30.3" y1="335.89" x2="165.8" y2="335.89" stroke="#E4E4E4" stroke-width="0.7"/><line x1="30.3" y1="321.82" x2="165.8" y2="321.82" stroke="#E4E4E4" stroke-width="1.1"/><line x1="30.3" y1="307.76" x2="165.8" y2="307.76" stroke="#E4E4E4" stroke-width="0.7"/><line x1="30.3" y1="293.7" x2="165.8" y2="293.7" stroke="#E4E4E4" stroke-width="1.1"/><path d="M33.3 293.7 L34.32 293.7 L34.32 293.88 L35.33 293.88 L35.33 294.06 L36.35 294.06 L36.35 294.24 L37.36 294.24 L37.36 294.42 L38.38 294.42 L38.38 294.6 L39.37 294.6 L39.37 295.19 L40.36 295.19 L40.36 295.79 L41.36 295.79 L41.36 296.38 L42.35 296.38 L42.35 296.98 L43.34 296.98 L43.34 297.57 L44.34 297.57 L44.34 298.17 L45.33 298.17 L45.33 298.76 L46.33 298.76 L46.33 299.55 L47.32 299.55 L47.32 300.34 L48.31 300.34 L48.31 301.12 L49.31 301.12 L49.31 301.91 L50.3 301.91 L50.3 302.7 L51.29 302.7 L51.29 303.49 L52.29 303.49 L52.29 304.27 L53.28 304.27 L53.28 305.08 L54.28 305.08 L54.28 305.88 L55.27 305.88 L55.27 306.69 L56.26 306.69 L56.26 307.49 L57.26 307.49 L57.26 308.29 L58.25 308.29 L58.25 309.1 L59.24 309.1 L59.24 309.9 L60.24 309.9 L60.24 310.69 L61.23 310.69 L61.23 311.47 L62.23 311.47 L62.23 312.26 L63.22 312.26 L63.22 313.05 L64.21 313.05 L64.21 313.84 L65.21 313.84 L65.21 314.62 L66.2 314.62 L66.2 315.41 L67.23 315.41 L67.23 316.45 L68.27 316.45 L68.27 317.49 L69.3 317.49 L69.3 318.53 L70.34 318.53 L70.34 319.57 L71.28 319.57 L71.28 320.04 L72.22 320.04 L72.22 320.51 L73.16 320.51 L73.16 320.98 L74.1 320.98 L74.1 321.45 L75.04 321.45 L75.04 321.92 L75.98 321.92 L75.98 322.39 L82.93 322.39 L82.93 326.55 L98.16 326.55 L98.16 329.36 L103.05 329.36 L103.05 333.52 L163.58 333.52 L163.21 378.98 L108.12 378.98 L108.12 372.22 L98.35 372.22 L98.35 361.65 L84.25 361.65 L84.25 348.94 L73.16 348.94 L73.16 346.57 L72.22 346.57 L72.22 344.21 L71.28 344.21 L71.28 341.85 L70.34 341.85 L70.34 340.19 L69.25 340.19 L69.25 338.52 L68.16 338.52 L68.16 336.86 L67.06 336.86 L67.06 335.19 L65.97 335.19 L65.97 333.52 L64.88 333.52 L64.88 332.34 L63.86 332.34 L63.86 331.15 L62.84 331.15 L62.84 329.96 L61.82 329.96 L61.82 328.77 L60.8 328.77 L60.8 327.58 L59.78 327.58 L59.78 326.39 L58.76 326.39 L58.76 325.2 L57.74 325.2 L57.74 323.81 L56.65 323.81 L56.65 322.41 L55.56 322.41 L55.56 321.01 L54.47 321.01 L54.47 319.62 L53.38 319.62 L53.38 318.22 L52.29 318.22 L52.29 317.04 L51.29 317.04 L51.29 315.85 L50.3 315.85 L50.3 314.66 L49.31 314.66 L49.31 313.47 L48.31 313.47 L48.31 312.28 L47.32 312.28 L47.32 311.09 L46.33 311.09 L46.33 309.9 L45.33 309.9 L45.33 308.71 L44.34 308.71 L44.34 307.52 L43.34 307.52 L43.34 306.33 L42.35 306.33 L42.35 305.14 L41.36 305.14 L41.36 303.95 L40.36 303.95 L40.36 302.76 L39.37 302.76 L39.37 301.57 L38.38 301.57 L38.38 300 L37.36 300 L37.36 298.42 L36.35 298.42 L36.35 296.85 L35.33 296.85 L35.33 295.27 L34.32 295.27 L34.32 293.7 L33.3 293.7Z" fill="#4DBBD5" fill-opacity="0.21" stroke="none"/><path d="M33.3 293.7 L34.32 293.7 L34.32 294.38 L35.33 294.38 L35.33 295.05 L36.35 295.05 L36.35 295.72 L37.36 295.72 L37.36 296.4 L38.38 296.4 L38.38 297.07 L39.47 297.07 L39.47 298.88 L40.56 298.88 L40.56 300.68 L41.65 300.68 L41.65 302.47 L42.74 302.47 L42.74 304.27 L43.83 304.27 L43.83 306.07 L44.82 306.07 L44.82 306.56 L45.82 306.56 L45.82 307.04 L46.81 307.04 L46.81 307.52 L47.8 307.52 L47.8 308 L48.8 308 L48.8 308.49 L49.79 308.49 L49.79 308.97 L50.78 308.97 L50.78 309.45 L51.91 309.45 L51.91 310.57 L53.04 310.57 L53.04 311.7 L54.17 311.7 L54.17 312.82 L55.3 312.82 L55.3 313.95 L56.42 313.95 L56.42 315.07 L57.36 315.07 L57.36 316.01 L58.3 316.01 L58.3 316.95 L59.24 316.95 L59.24 317.89 L60.18 317.89 L60.18 318.82 L61.12 318.82 L61.12 319.76 L62.06 319.76 L62.06 320.7 L63.15 320.7 L63.15 322.05 L64.24 322.05 L64.24 323.4 L65.34 323.4 L65.34 324.75 L66.43 324.75 L66.43 326.1 L67.52 326.1 L67.52 327.45 L68.6 327.45 L68.6 329.14 L69.68 329.14 L69.68 330.82 L70.76 330.82 L70.76 332.51 L71.84 332.51 L71.84 334.2 L84.25 334.2 L84.25 342.07 L105.12 342.07 L105.12 357.04 L124.67 357.04 L124.67 360.07 L125.42 360.07 L125.42 400.8 L115.64 400.8 L115.64 394.84 L108.12 394.84 L108.12 378.98 L83.5 378.98 L83.5 373.69 L82.74 373.69 L82.74 370.65 L75.22 370.65 L75.22 369.15 L74.22 369.15 L74.22 367.65 L73.22 367.65 L73.22 366.15 L72.22 366.15 L72.22 364.63 L71.09 364.63 L71.09 363.11 L69.96 363.11 L69.96 361.59 L68.83 361.59 L68.83 360.07 L67.7 360.07 L67.7 358.82 L66.7 358.82 L66.7 357.56 L65.7 357.56 L65.7 356.31 L64.7 356.31 L64.7 355.05 L63.69 355.05 L63.69 353.79 L62.69 353.79 L62.69 352.54 L61.69 352.54 L61.69 351.34 L60.87 351.34 L60.87 350.14 L60.06 350.14 L60.06 348.94 L59.24 348.94 L59.24 345.67 L58.3 345.67 L58.3 342.41 L57.36 342.41 L57.36 339.15 L56.42 339.15 L56.42 337.75 L55.3 337.75 L55.3 336.36 L54.17 336.36 L54.17 334.96 L53.04 334.96 L53.04 333.57 L51.91 333.57 L51.91 332.17 L50.78 332.17 L50.78 331.34 L49.69 331.34 L49.69 330.51 L48.6 330.51 L48.6 329.68 L47.51 329.68 L47.51 328.84 L46.42 328.84 L46.42 328.01 L45.33 328.01 L45.33 324.3 L44.39 324.3 L44.39 320.59 L43.45 320.59 L43.45 316.88 L42.51 316.88 L42.51 314.09 L41.48 314.09 L41.48 311.31 L40.44 311.31 L40.44 308.52 L39.41 308.52 L39.41 305.74 L38.38 305.74 L38.38 303.33 L37.36 303.33 L37.36 300.92 L36.35 300.92 L36.35 298.51 L35.33 298.51 L35.33 296.11 L34.32 296.11 L34.32 293.7 L33.3 293.7Z" fill="#E64B35" fill-opacity="0.21" stroke="none"/></g><path d="M33.3 293.7 L34.19 293.7 L34.19 294.6 L35.09 294.6 L35.09 295.5 L35.98 295.5 L35.98 296.4 L36.87 296.4 L36.87 297.3 L37.95 297.3 L37.95 298.37 L39.03 298.37 L39.03 299.44 L40.11 299.44 L40.11 300.51 L41.2 300.51 L41.2 301.57 L42.23 301.57 L42.23 302.25 L43.26 302.25 L43.26 302.93 L44.3 302.93 L44.3 303.6 L45.33 303.6 L45.33 304.27 L46.37 304.27 L46.37 305.51 L47.4 305.51 L47.4 306.75 L48.43 306.75 L48.43 307.99 L49.47 307.99 L49.47 309.22 L50.5 309.22 L50.5 311.14 L51.54 311.14 L51.54 313.05 L52.57 313.05 L52.57 314.96 L53.6 314.96 L53.6 316.88 L54.64 316.88 L54.64 317.92 L55.67 317.92 L55.67 318.96 L56.71 318.96 L56.71 320 L57.74 320 L57.74 321.04 L58.82 321.04 L58.82 321.38 L59.9 321.38 L59.9 321.71 L60.98 321.71 L60.98 322.05 L62.06 322.05 L62.06 322.39 L62.72 322.39 L62.72 325.2 L63.38 325.2 L63.38 328.01 L64.41 328.01 L64.41 328.69 L65.45 328.69 L65.45 329.36 L66.48 329.36 L66.48 330.04 L67.52 330.04 L67.52 330.71 L68.46 330.71 L68.46 332.59 L69.4 332.59 L69.4 334.46 L70.34 334.46 L70.34 336.34 L71.28 336.34 L71.28 338.4 L72.22 338.4 L72.22 340.46 L73.16 340.46 L73.16 342.52 L82.93 342.52 L82.93 347.25 L97.97 347.25 L97.97 354.11 L103.61 354.11 L103.61 361.65 L163.21 361.65 L163.21 406.2 L163.21 406.2" fill="none" stroke="#4DBBD5" stroke-width="0.9" stroke-linejoin="miter"/><path d="M40.82 295.1 V299.5 M39.22 297.3 H42.42" stroke="#4DBBD5" stroke-width="0.6"/><path d="M46.46 302.07 V306.47 M44.86 304.27 H48.06" stroke="#4DBBD5" stroke-width="0.6"/><path d="M52.1 307.02 V311.42 M50.5 309.22 H53.7" stroke="#4DBBD5" stroke-width="0.6"/><path d="M57.74 318.84 V323.24 M56.14 321.04 H59.34" stroke="#4DBBD5" stroke-width="0.6"/><path d="M61.5 318.84 V323.24 M59.9 321.04 H63.1" stroke="#4DBBD5" stroke-width="0.6"/><path d="M84.06 345.05 V349.45 M82.46 347.25 H85.66" stroke="#4DBBD5" stroke-width="0.6"/><path d="M116.02 359.45 V363.85 M114.42 361.65 H117.62" stroke="#4DBBD5" stroke-width="0.6"/><path d="M138.58 359.45 V363.85 M136.98 361.65 H140.18" stroke="#4DBBD5" stroke-width="0.6"/><path d="M33.3 293.7 L34.3 293.7 L34.3 294 L35.31 294 L35.31 294.3 L36.31 294.3 L36.31 294.6 L37.34 294.6 L37.34 297.36 L38.38 297.36 L38.38 300.11 L39.32 300.11 L39.32 302.44 L40.26 302.44 L40.26 304.76 L41.2 304.76 L41.2 307.09 L42.07 307.09 L42.07 309.19 L42.95 309.19 L42.95 311.29 L43.83 311.29 L43.83 313.39 L44.58 313.39 L44.58 317.21 L45.33 317.21 L45.33 321.04 L46.42 321.04 L46.42 321.31 L47.51 321.31 L47.51 321.58 L48.6 321.58 L48.6 321.85 L49.69 321.85 L49.69 322.12 L50.78 322.12 L50.78 322.39 L51.91 322.39 L51.91 323.79 L53.04 323.79 L53.04 325.2 L53.92 325.2 L53.92 326.14 L54.79 326.14 L54.79 327.07 L55.67 327.07 L55.67 328.01 L56.71 328.01 L56.71 331.44 L57.74 331.44 L57.74 334.88 L58.87 334.88 L58.87 337.01 L60 337.01 L60 339.15 L60.87 339.15 L60.87 340.27 L61.75 340.27 L61.75 341.4 L62.63 341.4 L62.63 342.52 L63.71 342.52 L63.71 342.89 L64.79 342.89 L64.79 343.26 L65.87 343.26 L65.87 343.62 L66.95 343.62 L66.95 343.99 L68.08 343.99 L68.08 346.01 L69.21 346.01 L69.21 348.04 L70.21 348.04 L70.21 349.05 L71.21 349.05 L71.21 350.06 L72.22 350.06 L72.22 351.07 L73.22 351.07 L73.22 352.57 L74.22 352.57 L74.22 354.07 L75.22 354.07 L75.22 355.57 L81.99 355.57 L81.99 358.61 L83.5 358.61 L83.5 364.57 L85 364.57 L85 366.15 L105.87 366.15 L105.87 377.4 L108.12 377.4 L108.12 383.48 L115.64 383.48 L115.64 391.01 L124.67 391.01 L124.67 398.55 L125.42 398.55" fill="none" stroke="#E64B35" stroke-width="0.9" stroke-linejoin="miter"/><path d="M35.18 291.5 V295.9 M33.58 293.7 H36.78" stroke="#E64B35" stroke-width="0.6"/><path d="M38.94 297.91 V302.31 M37.34 300.11 H40.54" stroke="#E64B35" stroke-width="0.6"/><path d="M52.1 320.19 V324.59 M50.5 322.39 H53.7" stroke="#E64B35" stroke-width="0.6"/><path d="M63.38 340.32 V344.72 M61.78 342.52 H64.98" stroke="#E64B35" stroke-width="0.6"/><path d="M85.94 363.95 V368.35 M84.34 366.15 H87.54" stroke="#E64B35" stroke-width="0.6"/><path d="M91.58 363.95 V368.35 M89.98 366.15 H93.18" stroke="#E64B35" stroke-width="0.6"/><path d="M125.42 396.35 V400.75 M123.82 398.55 H127.02" stroke="#E64B35" stroke-width="0.6"/><rect x="30.3" y="290.2" width="135.5" height="118.3" fill="none" stroke="#333" stroke-width="1.2"/><line x1="27.7" y1="406.2" x2="30.3" y2="406.2" stroke="#333" stroke-width="1"/><text x="25.3" y="408.5" font-size="7" fill="#333" text-anchor="end">0.00</text><line x1="27.7" y1="378.07" x2="30.3" y2="378.07" stroke="#333" stroke-width="1"/><text x="25.3" y="380.38" font-size="7" fill="#333" text-anchor="end">0.25</text><line x1="27.7" y1="349.95" x2="30.3" y2="349.95" stroke="#333" stroke-width="1"/><text x="25.3" y="352.25" font-size="7" fill="#333" text-anchor="end">0.50</text><line x1="27.7" y1="321.82" x2="30.3" y2="321.82" stroke="#333" stroke-width="1"/><text x="25.3" y="324.12" font-size="7" fill="#333" text-anchor="end">0.75</text><line x1="27.7" y1="293.7" x2="30.3" y2="293.7" stroke="#333" stroke-width="1"/><text x="25.3" y="296" font-size="7" fill="#333" text-anchor="end">1.00</text><line x1="33.3" y1="408.5" x2="33.3" y2="411.1" stroke="#333" stroke-width="1"/><text x="33.3" y="419.1" font-size="7" fill="#333" text-anchor="middle">0</text><line x1="70.9" y1="408.5" x2="70.9" y2="411.1" stroke="#333" stroke-width="1"/><text x="70.9" y="419.1" font-size="7" fill="#333" text-anchor="middle">2</text><line x1="108.5" y1="408.5" x2="108.5" y2="411.1" stroke="#333" stroke-width="1"/><text x="108.5" y="419.1" font-size="7" fill="#333" text-anchor="middle">4</text><line x1="146.1" y1="408.5" x2="146.1" y2="411.1" stroke="#333" stroke-width="1"/><text x="146.1" y="419.1" font-size="7" fill="#333" text-anchor="middle">6</text><text x="98.05" y="428.5" font-size="8" fill="#000" text-anchor="middle">Time (years)</text><text transform="translate(8.5 348.35) rotate(-90)" font-size="8.15" fill="#111" text-anchor="middle">Survival probability</text><text x="3.3" y="294.6" font-size="12.5" font-weight="bold" fill="#000">I</text><text x="122.5" y="296.8" font-size="7" fill="#000">RMDN2−AS1</text><line x1="122.7" y1="303.4" x2="128.1" y2="303.4" stroke="#4DBBD5" stroke-width="1.1"/><text x="132.1" y="305.5" font-size="7" fill="#000">Low</text><line x1="122.7" y1="310.4" x2="128.1" y2="310.4" stroke="#E64B35" stroke-width="1.1"/><text x="132.1" y="313.1" font-size="7" fill="#000">High</text><text x="33.1" y="387.2" font-size="7.2" fill="#111" letter-spacing="0.12" xml:space="preserve">Overall Survival</text><text x="33.1" y="395.1" font-size="7.2" fill="#111" letter-spacing="0.08" xml:space="preserve">HR = 1.66  (1.01 − 2.73)</text><text x="33.1" y="403.5" font-size="7.2" fill="#111" letter-spacing="0.08" xml:space="preserve"><tspan font-style="italic">P</tspan> = 0.046</text></g>
<g><defs><clipPath id="cJ"><rect x="203" y="290.2" width="135.5" height="118.3"/></clipPath></defs><g clip-path="url(#cJ)"><line x1="205.7" y1="290.2" x2="205.7" y2="408.5" stroke="#E4E4E4" stroke-width="1.1"/><line x1="224.5" y1="290.2" x2="224.5" y2="408.5" stroke="#E4E4E4" stroke-width="0.7"/><line x1="243.3" y1="290.2" x2="243.3" y2="408.5" stroke="#E4E4E4" stroke-width="1.1"/><line x1="262.1" y1="290.2" x2="262.1" y2="408.5" stroke="#E4E4E4" stroke-width="0.7"/><line x1="280.9" y1="290.2" x2="280.9" y2="408.5" stroke="#E4E4E4" stroke-width="1.1"/><line x1="299.7" y1="290.2" x2="299.7" y2="408.5" stroke="#E4E4E4" stroke-width="0.7"/><line x1="318.5" y1="290.2" x2="318.5" y2="408.5" stroke="#E4E4E4" stroke-width="1.1"/><line x1="337.3" y1="290.2" x2="337.3" y2="408.5" stroke="#E4E4E4" stroke-width="0.7"/><line x1="203" y1="394.15" x2="338.5" y2="394.15" stroke="#E4E4E4" stroke-width="0.7"/><line x1="203" y1="379.8" x2="338.5" y2="379.8" stroke="#E4E4E4" stroke-width="1.1"/><line x1="203" y1="365.45" x2="338.5" y2="365.45" stroke="#E4E4E4" stroke-width="0.7"/><line x1="203" y1="351.1" x2="338.5" y2="351.1" stroke="#E4E4E4" stroke-width="1.1"/><line x1="203" y1="336.75" x2="338.5" y2="336.75" stroke="#E4E4E4" stroke-width="0.7"/><line x1="203" y1="322.4" x2="338.5" y2="322.4" stroke="#E4E4E4" stroke-width="1.1"/><line x1="203" y1="308.05" x2="338.5" y2="308.05" stroke="#E4E4E4" stroke-width="0.7"/><line x1="203" y1="293.7" x2="338.5" y2="293.7" stroke="#E4E4E4" stroke-width="1.1"/><path d="M206 293.7 L207.05 293.7 L207.05 293.88 L208.11 293.88 L208.11 294.07 L209.16 294.07 L209.16 294.25 L210.21 294.25 L210.21 294.43 L211.26 294.43 L211.26 294.62 L212.26 294.62 L212.26 295.21 L213.25 295.21 L213.25 295.8 L214.25 295.8 L214.25 296.39 L215.24 296.39 L215.24 296.98 L216.23 296.98 L216.23 297.57 L217.23 297.57 L217.23 298.16 L218.22 298.16 L218.22 298.75 L219.35 298.75 L219.35 299.58 L220.48 299.58 L220.48 300.4 L221.6 300.4 L221.6 301.23 L222.73 301.23 L222.73 302.06 L223.86 302.06 L223.86 302.88 L224.85 302.88 L224.85 303.49 L225.85 303.49 L225.85 304.1 L226.84 304.1 L226.84 304.7 L227.83 304.7 L227.83 305.31 L228.83 305.31 L228.83 305.92 L229.82 305.92 L229.82 306.52 L230.82 306.52 L230.82 307.13 L231.87 307.13 L231.87 307.65 L232.93 307.65 L232.93 308.16 L233.99 308.16 L233.99 308.68 L235.05 308.68 L235.05 309.2 L236.1 309.2 L236.1 309.71 L237.16 309.71 L237.16 310.23 L238.22 310.23 L238.22 310.75 L239.28 310.75 L239.28 311.26 L240.37 311.26 L240.37 312.39 L241.46 312.39 L241.46 313.51 L242.55 313.51 L242.55 314.64 L243.64 314.64 L243.64 315.76 L244.73 315.76 L244.73 316.89 L245.76 316.89 L245.76 317.58 L246.8 317.58 L246.8 318.27 L247.83 318.27 L247.83 318.96 L248.86 318.96 L248.86 319.64 L271.05 319.64 L271.05 323.09 L278 323.09 L278 332.85 L336.47 332.85 L335.34 385.77 L278 385.77 L278 368.32 L271.05 368.32 L271.05 356.84 L255.82 356.84 L255.82 349.03 L250.37 349.03 L250.37 347.61 L249.24 347.61 L249.24 346.19 L248.11 346.19 L248.11 344.76 L246.98 344.76 L246.98 343.34 L245.86 343.34 L245.86 341.92 L244.73 341.92 L244.73 340.51 L243.69 340.51 L243.69 339.1 L242.66 339.1 L242.66 337.7 L241.63 337.7 L241.63 336.29 L240.59 336.29 L240.59 334.91 L239.56 334.91 L239.56 333.54 L238.52 333.54 L238.52 332.16 L237.49 332.16 L237.49 330.78 L236.46 330.78 L236.46 329.78 L235.46 329.78 L235.46 328.78 L234.47 328.78 L234.47 327.78 L233.47 327.78 L233.47 326.78 L232.48 326.78 L232.48 325.78 L231.49 325.78 L231.49 324.78 L230.49 324.78 L230.49 323.78 L229.5 323.78 L229.5 323.09 L228.56 323.09 L228.56 322.4 L227.62 322.4 L227.62 321.71 L226.68 321.71 L226.68 321.02 L225.74 321.02 L225.74 320.33 L224.8 320.33 L224.8 319.64 L223.86 319.64 L223.86 318.24 L222.73 318.24 L222.73 316.84 L221.6 316.84 L221.6 315.44 L220.48 315.44 L220.48 314.04 L219.35 314.04 L219.35 312.64 L218.22 312.64 L218.22 311.25 L217.23 311.25 L217.23 309.85 L216.23 309.85 L216.23 308.46 L215.24 308.46 L215.24 307.07 L214.25 307.07 L214.25 305.67 L213.25 305.67 L213.25 304.28 L212.26 304.28 L212.26 302.88 L211.26 302.88 L211.26 301.05 L210.21 301.05 L210.21 299.21 L209.16 299.21 L209.16 297.37 L208.11 297.37 L208.11 295.54 L207.05 295.54 L207.05 293.7 L206 293.7Z" fill="#4DBBD5" fill-opacity="0.21" stroke="none"/><path d="M206 293.7 L206.94 293.7 L206.94 293.99 L207.88 293.99 L207.88 294.27 L208.82 294.27 L208.82 294.56 L209.76 294.56 L209.76 294.85 L210.76 294.85 L210.76 296.19 L211.77 296.19 L211.77 297.53 L212.77 297.53 L212.77 298.87 L213.86 298.87 L213.86 300.13 L214.95 300.13 L214.95 301.39 L216.04 301.39 L216.04 302.65 L217.13 302.65 L217.13 303.92 L218.22 303.92 L218.22 305.18 L219.35 305.18 L219.35 306.1 L220.48 306.1 L220.48 307.02 L221.6 307.02 L221.6 307.94 L222.73 307.94 L222.73 308.85 L223.86 308.85 L223.86 309.77 L224.85 309.77 L224.85 310.59 L225.85 310.59 L225.85 311.41 L226.84 311.41 L226.84 312.23 L227.83 312.23 L227.83 313.05 L228.83 313.05 L228.83 313.87 L229.82 313.87 L229.82 314.69 L230.82 314.69 L230.82 315.51 L231.76 315.51 L231.76 316.47 L232.7 316.47 L232.7 317.43 L233.64 317.43 L233.64 318.38 L234.58 318.38 L234.58 319.34 L235.52 319.34 L235.52 320.3 L236.46 320.3 L236.46 321.25 L237.49 321.25 L237.49 322.4 L238.52 322.4 L238.52 323.55 L239.56 323.55 L239.56 324.7 L240.59 324.7 L240.59 325.84 L241.63 325.84 L241.63 327.85 L242.66 327.85 L242.66 329.86 L243.69 329.86 L243.69 331.87 L244.73 331.87 L244.73 333.88 L245.84 333.88 L245.84 334.91 L246.95 334.91 L246.95 335.95 L248.06 335.95 L248.06 336.98 L249.16 336.98 L249.16 338.01 L250.27 338.01 L250.27 339.05 L251.38 339.05 L251.38 340.08 L252.49 340.08 L252.49 341.11 L253.6 341.11 L253.6 342.15 L254.71 342.15 L254.71 343.18 L255.82 343.18 L255.82 344.21 L271.8 344.21 L271.8 351.1 L278 351.1 L278 358.56 L287.78 358.56 L287.78 363.84 L297.74 363.84 L297.74 365.34 L300 365.34 L300 404.6 L300 404.6 L300 400.81 L287.78 400.81 L287.78 396.33 L279.51 396.33 L279.51 384.28 L255.82 384.28 L255.82 376.7 L255.07 376.7 L255.07 373.72 L246.8 373.72 L246.8 372.91 L246.04 372.91 L246.04 372.11 L245.29 372.11 L245.29 369.87 L244.16 369.87 L244.16 367.63 L243.04 367.63 L243.04 365.39 L241.91 365.39 L241.91 363.15 L240.78 363.15 L240.78 361.89 L239.78 361.89 L239.78 360.63 L238.77 360.63 L238.77 359.37 L237.77 359.37 L237.77 358.1 L236.77 358.1 L236.77 356.84 L235.77 356.84 L235.77 355.58 L234.76 355.58 L234.76 353.94 L233.78 353.94 L233.78 352.31 L232.79 352.31 L232.79 350.67 L231.8 350.67 L231.8 349.03 L230.82 349.03 L230.82 346.19 L229.78 346.19 L229.78 343.35 L228.75 343.35 L228.75 340.51 L227.71 340.51 L227.71 337.67 L226.68 337.67 L226.68 335.95 L225.65 335.95 L225.65 334.22 L224.61 334.22 L224.61 332.5 L223.58 332.5 L223.58 330.78 L222.54 330.78 L222.54 329.37 L221.46 329.37 L221.46 327.97 L220.38 327.97 L220.38 326.56 L219.3 326.56 L219.3 325.16 L218.22 325.16 L218.22 322.86 L217.34 322.86 L217.34 320.56 L216.47 320.56 L216.47 318.27 L215.59 318.27 L215.59 315.14 L214.51 315.14 L214.51 312.01 L213.43 312.01 L213.43 308.88 L212.34 308.88 L212.34 305.75 L211.26 305.75 L211.26 303.34 L210.21 303.34 L210.21 300.93 L209.16 300.93 L209.16 298.52 L208.11 298.52 L208.11 296.11 L207.05 296.11 L207.05 293.7 L206 293.7Z" fill="#E64B35" fill-opacity="0.21" stroke="none"/></g><path d="M206 293.7 L206.99 293.7 L206.99 294.62 L207.97 294.62 L207.97 295.54 L208.96 295.54 L208.96 296.46 L209.95 296.46 L209.95 297.37 L210.98 297.37 L210.98 298.75 L212.02 298.75 L212.02 300.13 L213.05 300.13 L213.05 301.51 L214.08 301.51 L214.08 302.88 L215.12 302.88 L215.12 304.29 L216.15 304.29 L216.15 305.7 L217.19 305.7 L217.19 307.1 L218.22 307.1 L218.22 308.51 L219.35 308.51 L219.35 309.06 L220.48 309.06 L220.48 309.61 L221.6 309.61 L221.6 310.16 L222.73 310.16 L222.73 310.71 L223.86 310.71 L223.86 311.26 L224.8 311.26 L224.8 311.95 L225.74 311.95 L225.74 312.64 L226.68 312.64 L226.68 313.33 L227.62 313.33 L227.62 314.02 L228.56 314.02 L228.56 314.71 L229.5 314.71 L229.5 315.4 L230.16 315.4 L230.16 318.21 L230.82 318.21 L230.82 321.02 L231.76 321.02 L231.76 321.48 L232.7 321.48 L232.7 321.94 L233.64 321.94 L233.64 322.4 L234.58 322.4 L234.58 322.86 L235.52 322.86 L235.52 323.32 L236.46 323.32 L236.46 323.78 L237.49 323.78 L237.49 324.81 L238.52 324.81 L238.52 325.84 L239.56 325.84 L239.56 326.88 L240.59 326.88 L240.59 327.91 L241.63 327.91 L241.63 330.01 L242.66 330.01 L242.66 332.1 L243.69 332.1 L243.69 334.2 L244.73 334.2 L244.73 336.29 L245.76 336.29 L245.76 336.64 L246.8 336.64 L246.8 336.98 L247.83 336.98 L247.83 337.32 L248.86 337.32 L248.86 337.67 L249.62 337.67 L249.62 341.92 L271.24 341.92 L271.24 350.99 L275.75 350.99 L275.75 359.37 L278 359.37 L278 367.63 L335.34 367.63 L335.34 408.5 L335.34 408.5" fill="none" stroke="#4DBBD5" stroke-width="0.9" stroke-linejoin="miter"/><path d="M213.52 295.17 V299.57 M211.92 297.37 H215.12" stroke="#4DBBD5" stroke-width="0.6"/><path d="M217.28 300.68 V305.08 M215.68 302.88 H218.88" stroke="#4DBBD5" stroke-width="0.6"/><path d="M221.04 306.31 V310.71 M219.44 308.51 H222.64" stroke="#4DBBD5" stroke-width="0.6"/><path d="M224.8 309.06 V313.46 M223.2 311.26 H226.4" stroke="#4DBBD5" stroke-width="0.6"/><path d="M228.56 309.06 V313.46 M226.96 311.26 H230.16" stroke="#4DBBD5" stroke-width="0.6"/><path d="M234.2 318.82 V323.22 M232.6 321.02 H235.8" stroke="#4DBBD5" stroke-width="0.6"/><path d="M236.08 318.82 V323.22 M234.48 321.02 H237.68" stroke="#4DBBD5" stroke-width="0.6"/><path d="M254.88 339.72 V344.12 M253.28 341.92 H256.48" stroke="#4DBBD5" stroke-width="0.6"/><path d="M256.76 339.72 V344.12 M255.16 341.92 H258.36" stroke="#4DBBD5" stroke-width="0.6"/><path d="M281.2 365.43 V369.83 M279.6 367.63 H282.8" stroke="#4DBBD5" stroke-width="0.6"/><path d="M283.08 365.43 V369.83 M281.48 367.63 H284.68" stroke="#4DBBD5" stroke-width="0.6"/><path d="M286.84 365.43 V369.83 M285.24 367.63 H288.44" stroke="#4DBBD5" stroke-width="0.6"/><path d="M311.28 365.43 V369.83 M309.68 367.63 H312.88" stroke="#4DBBD5" stroke-width="0.6"/><path d="M206 293.7 L207.07 293.7 L207.07 294.24 L208.13 294.24 L208.13 294.77 L209.2 294.77 L209.2 295.31 L210.14 295.31 L210.14 297.37 L211.08 297.37 L211.08 299.44 L212.02 299.44 L212.02 301.51 L212.96 301.51 L212.96 303.84 L213.9 303.84 L213.9 306.17 L214.84 306.17 L214.84 308.51 L215.87 308.51 L215.87 311.95 L216.9 311.95 L216.9 315.4 L217.94 315.4 L217.94 317.52 L218.97 317.52 L218.97 319.64 L219.95 319.64 L219.95 320.2 L220.93 320.2 L220.93 320.75 L221.9 320.75 L221.9 321.3 L222.88 321.3 L222.88 321.85 L223.86 321.85 L223.86 322.4 L224.8 322.4 L224.8 323.78 L225.74 323.78 L225.74 325.16 L226.68 325.16 L226.68 326.53 L227.71 326.53 L227.71 330.03 L228.75 330.03 L228.75 333.54 L229.88 333.54 L229.88 334.91 L231 334.91 L231 336.29 L232.13 336.29 L232.13 337.67 L232.88 337.67 L232.88 339.08 L233.64 339.08 L233.64 340.5 L234.39 340.5 L234.39 341.92 L235.27 341.92 L235.27 344.44 L236.14 344.44 L236.14 346.97 L237.02 346.97 L237.02 349.49 L237.96 349.49 L237.96 350.27 L238.9 350.27 L238.9 351.04 L239.84 351.04 L239.84 351.82 L240.78 351.82 L240.78 352.59 L241.78 352.59 L241.78 354.08 L242.79 354.08 L242.79 355.58 L243.79 355.58 L243.79 357.07 L244.79 357.07 L244.79 358.06 L245.79 358.06 L245.79 359.06 L246.8 359.06 L246.8 360.05 L256.57 360.05 L256.57 372.11 L279.51 372.11 L279.51 377.5 L280.26 377.5 L280.26 383.47 L287.78 383.47 L287.78 390.25 L297.74 390.25 L297.74 397.02 L300 397.02" fill="none" stroke="#E64B35" stroke-width="0.9" stroke-linejoin="miter"/><path d="M211.64 293.11 V297.51 M210.04 295.31 H213.24" stroke="#E64B35" stroke-width="0.6"/><path d="M222.92 317.44 V321.84 M221.32 319.64 H224.52" stroke="#E64B35" stroke-width="0.6"/><path d="M224.8 320.2 V324.6 M223.2 322.4 H226.4" stroke="#E64B35" stroke-width="0.6"/><path d="M230.44 331.34 V335.74 M228.84 333.54 H232.04" stroke="#E64B35" stroke-width="0.6"/><path d="M234.2 335.47 V339.87 M232.6 337.67 H235.8" stroke="#E64B35" stroke-width="0.6"/><path d="M249.24 357.85 V362.25 M247.64 360.05 H250.84" stroke="#E64B35" stroke-width="0.6"/><path d="M283.08 381.27 V385.67 M281.48 383.47 H284.68" stroke="#E64B35" stroke-width="0.6"/><path d="M300 394.82 V399.22 M298.4 397.02 H301.6" stroke="#E64B35" stroke-width="0.6"/><rect x="203" y="290.2" width="135.5" height="118.3" fill="none" stroke="#333" stroke-width="1.2"/><line x1="200.4" y1="379.8" x2="203" y2="379.8" stroke="#333" stroke-width="1"/><text x="198" y="382.1" font-size="7" fill="#333" text-anchor="end">0.25</text><line x1="200.4" y1="351.1" x2="203" y2="351.1" stroke="#333" stroke-width="1"/><text x="198" y="353.4" font-size="7" fill="#333" text-anchor="end">0.50</text><line x1="200.4" y1="322.4" x2="203" y2="322.4" stroke="#333" stroke-width="1"/><text x="198" y="324.7" font-size="7" fill="#333" text-anchor="end">0.75</text><line x1="200.4" y1="293.7" x2="203" y2="293.7" stroke="#333" stroke-width="1"/><text x="198" y="296" font-size="7" fill="#333" text-anchor="end">1.00</text><line x1="206" y1="408.5" x2="206" y2="411.1" stroke="#333" stroke-width="1"/><text x="206" y="419.1" font-size="7" fill="#333" text-anchor="middle">0</text><line x1="243.6" y1="408.5" x2="243.6" y2="411.1" stroke="#333" stroke-width="1"/><text x="243.6" y="419.1" font-size="7" fill="#333" text-anchor="middle">2</text><line x1="281.2" y1="408.5" x2="281.2" y2="411.1" stroke="#333" stroke-width="1"/><text x="281.2" y="419.1" font-size="7" fill="#333" text-anchor="middle">4</text><line x1="318.8" y1="408.5" x2="318.8" y2="411.1" stroke="#333" stroke-width="1"/><text x="318.8" y="419.1" font-size="7" fill="#333" text-anchor="middle">6</text><text x="270.75" y="428.5" font-size="8" fill="#000" text-anchor="middle">Time (years)</text><text transform="translate(181.2 348.35) rotate(-90)" font-size="8.15" fill="#111" text-anchor="middle">Survival probability</text><text x="172.8" y="294.6" font-size="12.5" font-weight="bold" fill="#000">J</text><text x="313.3" y="296.8" font-size="7" fill="#000">TBILA</text><line x1="313.5" y1="303.4" x2="318.9" y2="303.4" stroke="#4DBBD5" stroke-width="1.1"/><text x="322.9" y="305.5" font-size="7" fill="#000">Low</text><line x1="313.5" y1="310.4" x2="318.9" y2="310.4" stroke="#E64B35" stroke-width="1.1"/><text x="322.9" y="313.1" font-size="7" fill="#000">High</text><text x="205.8" y="387.2" font-size="7.2" fill="#111" letter-spacing="0.12" xml:space="preserve">Overall Survival</text><text x="205.8" y="395.1" font-size="7.2" fill="#111" letter-spacing="0.08" xml:space="preserve">HR = 1.80  (1.08 − 2.99)</text><text x="205.8" y="403.5" font-size="7.2" fill="#111" letter-spacing="0.08" xml:space="preserve"><tspan font-style="italic">P</tspan> = 0.024</text></g>
<g><defs><clipPath id="cK"><rect x="375.4" y="290.2" width="135.5" height="118.3"/></clipPath></defs><g clip-path="url(#cK)"><line x1="378.1" y1="290.2" x2="378.1" y2="408.5" stroke="#E4E4E4" stroke-width="1.1"/><line x1="396.9" y1="290.2" x2="396.9" y2="408.5" stroke="#E4E4E4" stroke-width="0.7"/><line x1="415.7" y1="290.2" x2="415.7" y2="408.5" stroke="#E4E4E4" stroke-width="1.1"/><line x1="434.5" y1="290.2" x2="434.5" y2="408.5" stroke="#E4E4E4" stroke-width="0.7"/><line x1="453.3" y1="290.2" x2="453.3" y2="408.5" stroke="#E4E4E4" stroke-width="1.1"/><line x1="472.1" y1="290.2" x2="472.1" y2="408.5" stroke="#E4E4E4" stroke-width="0.7"/><line x1="490.9" y1="290.2" x2="490.9" y2="408.5" stroke="#E4E4E4" stroke-width="1.1"/><line x1="509.7" y1="290.2" x2="509.7" y2="408.5" stroke="#E4E4E4" stroke-width="0.7"/><line x1="375.4" y1="398.7" x2="510.9" y2="398.7" stroke="#E4E4E4" stroke-width="0.7"/><line x1="375.4" y1="383.7" x2="510.9" y2="383.7" stroke="#E4E4E4" stroke-width="1.1"/><line x1="375.4" y1="368.7" x2="510.9" y2="368.7" stroke="#E4E4E4" stroke-width="0.7"/><line x1="375.4" y1="353.7" x2="510.9" y2="353.7" stroke="#E4E4E4" stroke-width="1.1"/><line x1="375.4" y1="338.7" x2="510.9" y2="338.7" stroke="#E4E4E4" stroke-width="0.7"/><line x1="375.4" y1="323.7" x2="510.9" y2="323.7" stroke="#E4E4E4" stroke-width="1.1"/><line x1="375.4" y1="308.7" x2="510.9" y2="308.7" stroke="#E4E4E4" stroke-width="0.7"/><line x1="375.4" y1="293.7" x2="510.9" y2="293.7" stroke="#E4E4E4" stroke-width="1.1"/><path d="M378.4 293.7 L379.38 293.7 L379.38 293.72 L380.36 293.72 L380.36 293.75 L381.33 293.75 L381.33 293.77 L382.31 293.77 L382.31 293.8 L383.29 293.8 L383.29 293.82 L384.28 293.82 L384.28 294.52 L385.28 294.52 L385.28 295.23 L386.27 295.23 L386.27 295.93 L387.26 295.93 L387.26 296.63 L388.26 296.63 L388.26 297.33 L389.25 297.33 L389.25 298.04 L390.24 298.04 L390.24 298.74 L391.24 298.74 L391.24 299.13 L392.23 299.13 L392.23 299.53 L393.23 299.53 L393.23 299.92 L394.22 299.92 L394.22 300.32 L395.21 300.32 L395.21 300.71 L396.21 300.71 L396.21 301.11 L397.2 301.11 L397.2 301.5 L398.19 301.5 L398.19 302.1 L399.19 302.1 L399.19 302.7 L400.18 302.7 L400.18 303.3 L401.17 303.3 L401.17 303.9 L402.17 303.9 L402.17 304.5 L403.16 304.5 L403.16 305.1 L404.16 305.1 L404.16 305.7 L405.28 305.7 L405.28 306.54 L406.41 306.54 L406.41 307.38 L407.54 307.38 L407.54 308.22 L408.67 308.22 L408.67 309.06 L409.8 309.06 L409.8 309.9 L410.74 309.9 L410.74 311.28 L411.68 311.28 L411.68 312.66 L412.62 312.66 L412.62 314.04 L413.56 314.04 L413.56 315.42 L414.5 315.42 L414.5 316.8 L415.44 316.8 L415.44 318.18 L416.47 318.18 L416.47 319.59 L417.5 319.59 L417.5 321 L418.54 321 L418.54 322.41 L419.57 322.41 L419.57 323.82 L420.57 323.82 L420.57 324.81 L421.56 324.81 L421.56 325.81 L422.55 325.81 L422.55 326.8 L423.55 326.8 L423.55 327.8 L424.54 327.8 L424.54 328.79 L425.53 328.79 L425.53 329.79 L426.53 329.79 L426.53 330.78 L450.03 330.78 L450.03 333.54 L452.1 333.54 L452.1 338.46 L453.6 338.46 L453.6 343.26 L470.33 343.26 L470.33 344.7 L484.24 344.7 L484.81 403.86 L469.77 403.86 L469.77 389.7 L450.03 389.7 L450.03 371.7 L428.6 371.7 L428.6 357.42 L421.26 357.42 L421.26 356.49 L420.28 356.49 L420.28 355.56 L419.29 355.56 L419.29 354.63 L418.3 354.63 L418.3 353.7 L417.32 353.7 L417.32 348 L416.28 348 L416.28 342.3 L415.25 342.3 L415.25 341.18 L414.12 341.18 L414.12 340.05 L412.99 340.05 L412.99 338.92 L411.86 338.92 L411.86 337.8 L410.74 337.8 L410.74 336.68 L409.61 336.68 L409.61 335.55 L408.48 335.55 L408.48 334.42 L407.35 334.42 L407.35 333.3 L406.22 333.3 L406.22 331.78 L405.1 331.78 L405.1 330.27 L403.97 330.27 L403.97 328.75 L402.84 328.75 L402.84 327.24 L401.71 327.24 L401.71 325.72 L400.58 325.72 L400.58 324.21 L399.46 324.21 L399.46 322.69 L398.33 322.69 L398.33 321.18 L397.2 321.18 L397.2 319.29 L396.07 319.29 L396.07 317.4 L394.94 317.4 L394.94 315.51 L393.82 315.51 L393.82 313.62 L392.69 313.62 L392.69 311.73 L391.56 311.73 L391.56 309.84 L390.43 309.84 L390.43 307.95 L389.3 307.95 L389.3 306.06 L388.18 306.06 L388.18 305.07 L387.14 305.07 L387.14 304.08 L386.11 304.08 L386.11 303.09 L385.07 303.09 L385.07 302.1 L384.04 302.1 L384.04 300.42 L382.91 300.42 L382.91 298.74 L381.78 298.74 L381.78 297.06 L380.66 297.06 L380.66 295.38 L379.53 295.38 L379.53 293.7 L378.4 293.7Z" fill="#4DBBD5" fill-opacity="0.21" stroke="none"/><path d="M378.4 293.7 L379.34 293.7 L379.34 294.42 L380.28 294.42 L380.28 295.14 L381.22 295.14 L381.22 295.86 L382.16 295.86 L382.16 296.58 L383.1 296.58 L383.1 297.3 L384.12 297.3 L384.12 299.05 L385.13 299.05 L385.13 300.8 L386.15 300.8 L386.15 302.56 L387.16 302.56 L387.16 304.31 L388.18 304.31 L388.18 306.06 L389.3 306.06 L389.3 307.2 L390.43 307.2 L390.43 308.34 L391.56 308.34 L391.56 309.48 L392.69 309.48 L392.69 310.62 L393.82 310.62 L393.82 311.76 L394.94 311.76 L394.94 312.9 L396.07 312.9 L396.07 314.04 L397.2 314.04 L397.2 315.18 L398.33 315.18 L398.33 316.68 L399.46 316.68 L399.46 318.18 L400.58 318.18 L400.58 319.68 L401.71 319.68 L401.71 321.18 L402.84 321.18 L402.84 322.68 L403.97 322.68 L403.97 324.18 L405.1 324.18 L405.1 325.68 L406.22 325.68 L406.22 327.18 L407.35 327.18 L407.35 328.69 L408.48 328.69 L408.48 330.21 L409.61 330.21 L409.61 331.73 L410.74 331.73 L410.74 333.24 L411.86 333.24 L411.86 334.75 L412.99 334.75 L412.99 336.27 L414.12 336.27 L414.12 337.78 L415.25 337.78 L415.25 339.3 L416.34 339.3 L416.34 339.85 L417.44 339.85 L417.44 340.39 L418.53 340.39 L418.53 340.94 L419.62 340.94 L419.62 341.48 L420.72 341.48 L420.72 342.03 L421.81 342.03 L421.81 342.57 L422.9 342.57 L422.9 343.12 L424 343.12 L424 343.66 L425.09 343.66 L425.09 344.21 L426.19 344.21 L426.19 344.75 L427.28 344.75 L427.28 345.3 L448.52 345.3 L448.52 354.42 L459.8 354.42 L459.8 360.06 L508.12 360.06 L508.12 403.14 L460.56 403.14 L460.56 393.3 L450.03 393.3 L450.03 384.18 L429.35 384.18 L429.35 376.74 L414.31 376.74 L414.31 374.7 L413.31 374.7 L413.31 372.66 L412.3 372.66 L412.3 370.62 L411.3 370.62 L411.3 369.11 L410.36 369.11 L410.36 367.6 L409.42 367.6 L409.42 366.08 L408.48 366.08 L408.48 364.57 L407.54 364.57 L407.54 363.06 L406.6 363.06 L406.6 360.81 L405.47 360.81 L405.47 358.56 L404.34 358.56 L404.34 356.31 L403.22 356.31 L403.22 354.06 L402.09 354.06 L402.09 351.54 L401.05 351.54 L401.05 349.02 L400.02 349.02 L400.02 346.18 L399.08 346.18 L399.08 343.34 L398.14 343.34 L398.14 340.5 L397.2 340.5 L397.2 338.18 L396.32 338.18 L396.32 335.86 L395.45 335.86 L395.45 333.54 L394.57 333.54 L394.57 332.16 L393.49 332.16 L393.49 330.78 L392.41 330.78 L392.41 329.4 L391.32 329.4 L391.32 328.02 L390.24 328.02 L390.24 325.92 L389.21 325.92 L389.21 323.82 L388.18 323.82 L388.18 321.72 L387.14 321.72 L387.14 319.62 L386.11 319.62 L386.11 315.46 L385.17 315.46 L385.17 311.3 L384.23 311.3 L384.23 307.14 L383.29 307.14 L383.29 304.45 L382.31 304.45 L382.31 301.76 L381.33 301.76 L381.33 299.08 L380.36 299.08 L380.36 296.39 L379.38 296.39 L379.38 293.7 L378.4 293.7Z" fill="#E64B35" fill-opacity="0.21" stroke="none"/></g><path d="M378.4 293.7 L379.29 293.7 L379.29 293.91 L380.19 293.91 L380.19 294.12 L381.08 294.12 L381.08 294.33 L381.97 294.33 L381.97 294.54 L383.1 294.54 L383.1 295.94 L384.23 295.94 L384.23 297.34 L385.36 297.34 L385.36 298.74 L386.25 298.74 L386.25 300.48 L387.14 300.48 L387.14 302.22 L388.03 302.22 L388.03 303.96 L388.93 303.96 L388.93 305.7 L390.06 305.7 L390.06 305.99 L391.18 305.99 L391.18 306.28 L392.31 306.28 L392.31 306.56 L393.44 306.56 L393.44 306.85 L394.57 306.85 L394.57 307.14 L395.6 307.14 L395.6 308.01 L396.64 308.01 L396.64 308.88 L397.67 308.88 L397.67 309.75 L398.7 309.75 L398.7 310.62 L399.74 310.62 L399.74 310.95 L400.77 310.95 L400.77 311.28 L401.81 311.28 L401.81 311.61 L402.84 311.61 L402.84 311.94 L403.97 311.94 L403.97 313.1 L405.1 313.1 L405.1 314.26 L406.22 314.26 L406.22 315.42 L406.98 315.42 L406.98 316.82 L407.73 316.82 L407.73 318.22 L408.48 318.22 L408.48 319.62 L409.36 319.62 L409.36 321.02 L410.23 321.02 L410.23 322.42 L411.11 322.42 L411.11 323.82 L412.05 323.82 L412.05 325.22 L412.99 325.22 L412.99 326.62 L413.93 326.62 L413.93 328.02 L414.97 328.02 L414.97 329.4 L416 329.4 L416 330.78 L416.75 330.78 L416.75 334.92 L417.5 334.92 L417.5 339.06 L418.16 339.06 L418.16 341.16 L418.82 341.16 L418.82 343.26 L419.71 343.26 L419.71 343.95 L420.61 343.95 L420.61 344.64 L421.5 344.64 L421.5 345.33 L422.39 345.33 L422.39 346.02 L423.27 346.02 L423.27 347.02 L424.15 347.02 L424.15 348.02 L425.02 348.02 L425.02 349.02 L425.96 349.02 L425.96 350.7 L426.9 350.7 L426.9 352.38 L427.84 352.38 L427.84 354.06 L448.52 354.06 L448.52 360.9 L450.78 360.9 L450.78 369.18 L453.04 369.18 L453.04 376.74 L469.77 376.74 L469.77 389.58 L484.81 389.58" fill="none" stroke="#4DBBD5" stroke-width="0.9" stroke-linejoin="miter"/><path d="M384.04 292.34 V296.74 M382.44 294.54 H385.64" stroke="#4DBBD5" stroke-width="0.6"/><path d="M387.8 296.54 V300.94 M386.2 298.74 H389.4" stroke="#4DBBD5" stroke-width="0.6"/><path d="M391.56 303.5 V307.9 M389.96 305.7 H393.16" stroke="#4DBBD5" stroke-width="0.6"/><path d="M393.44 303.5 V307.9 M391.84 305.7 H395.04" stroke="#4DBBD5" stroke-width="0.6"/><path d="M397.2 304.94 V309.34 M395.6 307.14 H398.8" stroke="#4DBBD5" stroke-width="0.6"/><path d="M399.08 308.42 V312.82 M397.48 310.62 H400.68" stroke="#4DBBD5" stroke-width="0.6"/><path d="M400.96 308.42 V312.82 M399.36 310.62 H402.56" stroke="#4DBBD5" stroke-width="0.6"/><path d="M404.72 309.74 V314.14 M403.12 311.94 H406.32" stroke="#4DBBD5" stroke-width="0.6"/><path d="M406.6 313.22 V317.62 M405 315.42 H408.2" stroke="#4DBBD5" stroke-width="0.6"/><path d="M408.48 317.42 V321.82 M406.88 319.62 H410.08" stroke="#4DBBD5" stroke-width="0.6"/><path d="M416 328.58 V332.98 M414.4 330.78 H417.6" stroke="#4DBBD5" stroke-width="0.6"/><path d="M427.28 346.82 V351.22 M425.68 349.02 H428.88" stroke="#4DBBD5" stroke-width="0.6"/><path d="M431.04 351.86 V356.26 M429.44 354.06 H432.64" stroke="#4DBBD5" stroke-width="0.6"/><path d="M434.8 351.86 V356.26 M433.2 354.06 H436.4" stroke="#4DBBD5" stroke-width="0.6"/><path d="M438.56 351.86 V356.26 M436.96 354.06 H440.16" stroke="#4DBBD5" stroke-width="0.6"/><path d="M453.6 374.54 V378.94 M452 376.74 H455.2" stroke="#4DBBD5" stroke-width="0.6"/><path d="M463 374.54 V378.94 M461.4 376.74 H464.6" stroke="#4DBBD5" stroke-width="0.6"/><path d="M472.4 387.38 V391.78 M470.8 389.58 H474" stroke="#4DBBD5" stroke-width="0.6"/><path d="M483.68 387.38 V391.78 M482.08 389.58 H485.28" stroke="#4DBBD5" stroke-width="0.6"/><path d="M378.4 293.7 L379.53 293.7 L379.53 294.84 L380.66 294.84 L380.66 295.98 L381.53 295.98 L381.53 297.38 L382.41 297.38 L382.41 298.78 L383.29 298.78 L383.29 300.18 L384.32 300.18 L384.32 305.04 L385.36 305.04 L385.36 309.9 L386.48 309.9 L386.48 312.66 L387.61 312.66 L387.61 315.42 L388.49 315.42 L388.49 317.74 L389.37 317.74 L389.37 320.06 L390.24 320.06 L390.24 322.38 L391.32 322.38 L391.32 323.07 L392.41 323.07 L392.41 323.76 L393.49 323.76 L393.49 324.45 L394.57 324.45 L394.57 325.14 L395.45 325.14 L395.45 326.54 L396.32 326.54 L396.32 327.94 L397.2 327.94 L397.2 329.34 L398.23 329.34 L398.23 331.44 L399.27 331.44 L399.27 333.54 L400.02 333.54 L400.02 336.3 L400.77 336.3 L400.77 339.06 L401.81 339.06 L401.81 342.06 L402.84 342.06 L402.84 345.06 L403.97 345.06 L403.97 348.06 L405.1 348.06 L405.1 351.06 L405.85 351.06 L405.85 353.58 L406.6 353.58 L406.6 356.1 L407.35 356.1 L407.35 358.62 L408.44 358.62 L408.44 358.76 L409.53 358.76 L409.53 358.91 L410.62 358.91 L410.62 359.05 L411.71 359.05 L411.71 359.2 L412.8 359.2 L412.8 359.34 L413.56 359.34 L413.56 361.2 L414.31 361.2 L414.31 363.06 L428.6 363.06 L428.6 370.62 L443.26 370.62 L443.26 376.74 L450.78 376.74 L450.78 383.46 L460.56 383.46 L460.56 390.3 L508.12 390.3 L508.12 413.7 L508.12 413.7" fill="none" stroke="#E64B35" stroke-width="0.9" stroke-linejoin="miter"/><path d="M389.68 313.22 V317.62 M388.08 315.42 H391.28" stroke="#E64B35" stroke-width="0.6"/><path d="M393.44 320.18 V324.58 M391.84 322.38 H395.04" stroke="#E64B35" stroke-width="0.6"/><path d="M399.08 327.14 V331.54 M397.48 329.34 H400.68" stroke="#E64B35" stroke-width="0.6"/><path d="M404.72 342.86 V347.26 M403.12 345.06 H406.32" stroke="#E64B35" stroke-width="0.6"/><path d="M406.6 348.86 V353.26 M405 351.06 H408.2" stroke="#E64B35" stroke-width="0.6"/><path d="M431.04 368.42 V372.82 M429.44 370.62 H432.64" stroke="#E64B35" stroke-width="0.6"/><path d="M436.68 368.42 V372.82 M435.08 370.62 H438.28" stroke="#E64B35" stroke-width="0.6"/><path d="M440.44 368.42 V372.82 M438.84 370.62 H442.04" stroke="#E64B35" stroke-width="0.6"/><path d="M451.72 381.26 V385.66 M450.12 383.46 H453.32" stroke="#E64B35" stroke-width="0.6"/><path d="M464.88 388.1 V392.5 M463.28 390.3 H466.48" stroke="#E64B35" stroke-width="0.6"/><rect x="375.4" y="290.2" width="135.5" height="118.3" fill="none" stroke="#333" stroke-width="1.2"/><line x1="372.8" y1="383.7" x2="375.4" y2="383.7" stroke="#333" stroke-width="1"/><text x="370.4" y="386" font-size="7" fill="#333" text-anchor="end">0.25</text><line x1="372.8" y1="353.7" x2="375.4" y2="353.7" stroke="#333" stroke-width="1"/><text x="370.4" y="356" font-size="7" fill="#333" text-anchor="end">0.50</text><line x1="372.8" y1="323.7" x2="375.4" y2="323.7" stroke="#333" stroke-width="1"/><text x="370.4" y="326" font-size="7" fill="#333" text-anchor="end">0.75</text><line x1="372.8" y1="293.7" x2="375.4" y2="293.7" stroke="#333" stroke-width="1"/><text x="370.4" y="296" font-size="7" fill="#333" text-anchor="end">1.00</text><line x1="378.4" y1="408.5" x2="378.4" y2="411.1" stroke="#333" stroke-width="1"/><text x="378.4" y="419.1" font-size="7" fill="#333" text-anchor="middle">0</text><line x1="416" y1="408.5" x2="416" y2="411.1" stroke="#333" stroke-width="1"/><text x="416" y="419.1" font-size="7" fill="#333" text-anchor="middle">2</text><line x1="453.6" y1="408.5" x2="453.6" y2="411.1" stroke="#333" stroke-width="1"/><text x="453.6" y="419.1" font-size="7" fill="#333" text-anchor="middle">4</text><line x1="491.2" y1="408.5" x2="491.2" y2="411.1" stroke="#333" stroke-width="1"/><text x="491.2" y="419.1" font-size="7" fill="#333" text-anchor="middle">6</text><text x="443.15" y="428.5" font-size="8" fill="#000" text-anchor="middle">Time (years)</text><text transform="translate(353.6 348.35) rotate(-90)" font-size="8.15" fill="#111" text-anchor="middle">Survival probability</text><text x="345.8" y="294.6" font-size="12.5" font-weight="bold" fill="#000">K</text><text x="485.3" y="296.8" font-size="7" fill="#000">ZPAS1</text><line x1="485.5" y1="303.4" x2="490.9" y2="303.4" stroke="#4DBBD5" stroke-width="1.1"/><text x="494.9" y="305.5" font-size="7" fill="#000">Low</text><line x1="485.5" y1="310.4" x2="490.9" y2="310.4" stroke="#E64B35" stroke-width="1.1"/><text x="494.9" y="313.1" font-size="7" fill="#000">High</text><text x="378.2" y="387.2" font-size="7.2" fill="#111" letter-spacing="0.12" xml:space="preserve">Overall Survival</text><text x="378.2" y="395.1" font-size="7.2" fill="#111" letter-spacing="0.08" xml:space="preserve">HR = 1.89  (1.15 − 3.11)</text><text x="378.2" y="403.5" font-size="7.2" fill="#111" letter-spacing="0.08" xml:space="preserve"><tspan font-style="italic">P</tspan> = 0.012</text></g>
</svg></body></html>
